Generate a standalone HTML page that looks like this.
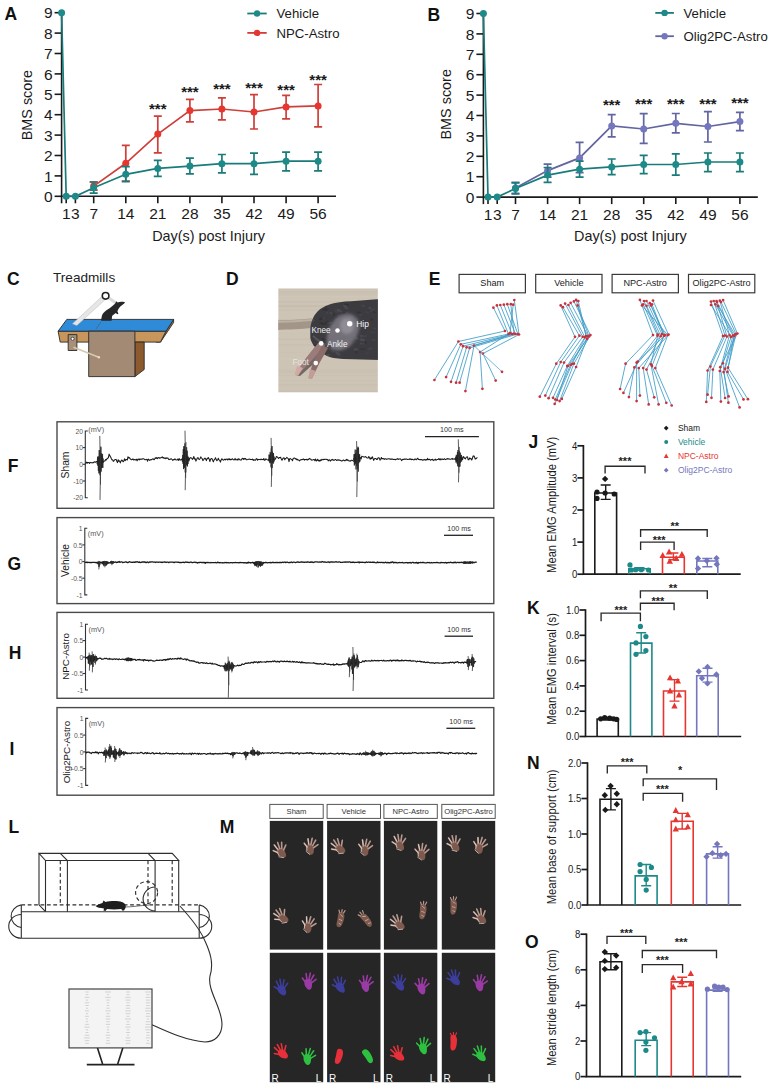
<!DOCTYPE html>
<html><head><meta charset="utf-8"><style>
html,body{margin:0;padding:0;background:#fff;}
svg{display:block;font-family:"Liberation Sans", sans-serif;}
</style></head><body>
<svg width="773" height="1089" viewBox="0 0 773 1089">
<rect width="773" height="1089" fill="#fff"/>
<g stroke="#1a1a1a" stroke-width="1.6" fill="none">
<line x1="61.6" y1="12.2" x2="61.6" y2="203.3"/>
<line x1="61.6" y1="196.3" x2="336.0" y2="196.3"/>
<line x1="54.6" y1="196.3" x2="61.6" y2="196.3"/>
<line x1="54.6" y1="175.9" x2="61.6" y2="175.9"/>
<line x1="54.6" y1="155.5" x2="61.6" y2="155.5"/>
<line x1="54.6" y1="135.1" x2="61.6" y2="135.1"/>
<line x1="54.6" y1="114.7" x2="61.6" y2="114.7"/>
<line x1="54.6" y1="94.3" x2="61.6" y2="94.3"/>
<line x1="54.6" y1="73.9" x2="61.6" y2="73.9"/>
<line x1="54.6" y1="53.5" x2="61.6" y2="53.5"/>
<line x1="54.6" y1="33.1" x2="61.6" y2="33.1"/>
<line x1="54.6" y1="12.7" x2="61.6" y2="12.7"/>
<line x1="66.2" y1="196.3" x2="66.2" y2="203.3"/>
<line x1="75.4" y1="196.3" x2="75.4" y2="203.3"/>
<line x1="93.7" y1="196.3" x2="93.7" y2="203.3"/>
<line x1="125.8" y1="196.3" x2="125.8" y2="203.3"/>
<line x1="157.8" y1="196.3" x2="157.8" y2="203.3"/>
<line x1="189.9" y1="196.3" x2="189.9" y2="203.3"/>
<line x1="221.9" y1="196.3" x2="221.9" y2="203.3"/>
<line x1="254.0" y1="196.3" x2="254.0" y2="203.3"/>
<line x1="286.1" y1="196.3" x2="286.1" y2="203.3"/>
<line x1="318.1" y1="196.3" x2="318.1" y2="203.3"/>
</g>
<text x="52.6" y="201.9" font-size="15.5" text-anchor="end" fill="#1a1a1a" font-weight="normal" >0</text>
<text x="52.6" y="181.5" font-size="15.5" text-anchor="end" fill="#1a1a1a" font-weight="normal" >1</text>
<text x="52.6" y="161.1" font-size="15.5" text-anchor="end" fill="#1a1a1a" font-weight="normal" >2</text>
<text x="52.6" y="140.7" font-size="15.5" text-anchor="end" fill="#1a1a1a" font-weight="normal" >3</text>
<text x="52.6" y="120.3" font-size="15.5" text-anchor="end" fill="#1a1a1a" font-weight="normal" >4</text>
<text x="52.6" y="99.9" font-size="15.5" text-anchor="end" fill="#1a1a1a" font-weight="normal" >5</text>
<text x="52.6" y="79.5" font-size="15.5" text-anchor="end" fill="#1a1a1a" font-weight="normal" >6</text>
<text x="52.6" y="59.1" font-size="15.5" text-anchor="end" fill="#1a1a1a" font-weight="normal" >7</text>
<text x="52.6" y="38.7" font-size="15.5" text-anchor="end" fill="#1a1a1a" font-weight="normal" >8</text>
<text x="52.6" y="18.3" font-size="15.5" text-anchor="end" fill="#1a1a1a" font-weight="normal" >9</text>
<text x="66.2" y="219.1" font-size="15.5" text-anchor="middle" fill="#1a1a1a" font-weight="normal" >1</text>
<text x="75.4" y="219.1" font-size="15.5" text-anchor="middle" fill="#1a1a1a" font-weight="normal" >3</text>
<text x="93.7" y="219.1" font-size="15.5" text-anchor="middle" fill="#1a1a1a" font-weight="normal" >7</text>
<text x="125.8" y="219.1" font-size="15.5" text-anchor="middle" fill="#1a1a1a" font-weight="normal" >14</text>
<text x="157.8" y="219.1" font-size="15.5" text-anchor="middle" fill="#1a1a1a" font-weight="normal" >21</text>
<text x="189.9" y="219.1" font-size="15.5" text-anchor="middle" fill="#1a1a1a" font-weight="normal" >28</text>
<text x="221.9" y="219.1" font-size="15.5" text-anchor="middle" fill="#1a1a1a" font-weight="normal" >35</text>
<text x="254.0" y="219.1" font-size="15.5" text-anchor="middle" fill="#1a1a1a" font-weight="normal" >42</text>
<text x="286.1" y="219.1" font-size="15.5" text-anchor="middle" fill="#1a1a1a" font-weight="normal" >49</text>
<text x="318.1" y="219.1" font-size="15.5" text-anchor="middle" fill="#1a1a1a" font-weight="normal" >56</text>
<text x="208.6" y="240.6" font-size="14.4" text-anchor="middle" fill="#1a1a1a" font-weight="normal" >Day(s) post Injury</text>
<text transform="translate(32.4,105.1) rotate(-90)" font-size="14.4" text-anchor="middle" fill="#1a1a1a">BMS score</text>
<polyline points="93.7,186.1 125.8,163.3 157.8,134.1 189.9,110.6 221.9,109.0 254.0,112.0 286.1,106.9 318.1,105.9" fill="none" stroke="#cf3f3a" stroke-width="1.7"/>
<path d="M93.7,182.0V190.2M89.7,182.0H97.7M89.7,190.2H97.7" stroke="#cf3f3a" stroke-width="1.7" fill="none"/>
<path d="M125.8,145.3V181.0M121.8,145.3H129.8M121.8,181.0H129.8" stroke="#cf3f3a" stroke-width="1.7" fill="none"/>
<path d="M157.8,116.1V152.8M153.8,116.1H161.8M153.8,152.8H161.8" stroke="#cf3f3a" stroke-width="1.7" fill="none"/>
<path d="M189.9,99.4V121.8M185.9,99.4H193.9M185.9,121.8H193.9" stroke="#cf3f3a" stroke-width="1.7" fill="none"/>
<path d="M221.9,97.8V119.8M217.9,97.8H225.9M217.9,119.8H225.9" stroke="#cf3f3a" stroke-width="1.7" fill="none"/>
<path d="M254.0,94.7V129.0M250.0,94.7H258.0M250.0,129.0H258.0" stroke="#cf3f3a" stroke-width="1.7" fill="none"/>
<path d="M286.1,95.3V118.8M282.1,95.3H290.1M282.1,118.8H290.1" stroke="#cf3f3a" stroke-width="1.7" fill="none"/>
<path d="M318.1,84.5V126.9M314.1,84.5H322.1M314.1,126.9H322.1" stroke="#cf3f3a" stroke-width="1.7" fill="none"/>
<circle cx="93.7" cy="186.1" r="3.5" fill="#e63630"/>
<circle cx="125.8" cy="163.3" r="3.5" fill="#e63630"/>
<circle cx="157.8" cy="134.1" r="3.5" fill="#e63630"/>
<circle cx="189.9" cy="110.6" r="3.5" fill="#e63630"/>
<circle cx="221.9" cy="109.0" r="3.5" fill="#e63630"/>
<circle cx="254.0" cy="112.0" r="3.5" fill="#e63630"/>
<circle cx="286.1" cy="106.9" r="3.5" fill="#e63630"/>
<circle cx="318.1" cy="105.9" r="3.5" fill="#e63630"/>
<polyline points="61.6,12.7 66.2,196.3 75.4,196.3 93.7,187.7 125.8,174.3 157.8,168.4 189.9,166.1 221.9,163.7 254.0,163.7 286.1,161.2 318.1,161.2" fill="none" stroke="#197c7b" stroke-width="1.7"/>
<path d="M93.7,182.0V193.2M89.7,182.0H97.7M89.7,193.2H97.7" stroke="#197c7b" stroke-width="1.7" fill="none"/>
<path d="M125.8,166.7V181.6M121.8,166.7H129.8M121.8,181.6H129.8" stroke="#197c7b" stroke-width="1.7" fill="none"/>
<path d="M157.8,160.4V176.3M153.8,160.4H161.8M153.8,176.3H161.8" stroke="#197c7b" stroke-width="1.7" fill="none"/>
<path d="M189.9,158.2V173.9M185.9,158.2H193.9M185.9,173.9H193.9" stroke="#197c7b" stroke-width="1.7" fill="none"/>
<path d="M221.9,154.5V172.8M217.9,154.5H225.9M217.9,172.8H225.9" stroke="#197c7b" stroke-width="1.7" fill="none"/>
<path d="M254.0,153.1V174.3M250.0,153.1H258.0M250.0,174.3H258.0" stroke="#197c7b" stroke-width="1.7" fill="none"/>
<path d="M286.1,152.2V170.8M282.1,152.2H290.1M282.1,170.8H290.1" stroke="#197c7b" stroke-width="1.7" fill="none"/>
<path d="M318.1,152.2V170.8M314.1,152.2H322.1M314.1,170.8H322.1" stroke="#197c7b" stroke-width="1.7" fill="none"/>
<circle cx="61.6" cy="12.7" r="3.5" fill="#1d8a89"/>
<circle cx="66.2" cy="196.3" r="3.5" fill="#1d8a89"/>
<circle cx="75.4" cy="196.3" r="3.5" fill="#1d8a89"/>
<circle cx="93.7" cy="187.7" r="3.5" fill="#1d8a89"/>
<circle cx="125.8" cy="174.3" r="3.5" fill="#1d8a89"/>
<circle cx="157.8" cy="168.4" r="3.5" fill="#1d8a89"/>
<circle cx="189.9" cy="166.1" r="3.5" fill="#1d8a89"/>
<circle cx="221.9" cy="163.7" r="3.5" fill="#1d8a89"/>
<circle cx="254.0" cy="163.7" r="3.5" fill="#1d8a89"/>
<circle cx="286.1" cy="161.2" r="3.5" fill="#1d8a89"/>
<circle cx="318.1" cy="161.2" r="3.5" fill="#1d8a89"/>
<text x="4.5" y="19.8" font-size="17.5" text-anchor="start" fill="#111" font-weight="bold" >A</text>
<text x="157.8" y="114.4" font-size="15" text-anchor="middle" fill="#1a1a1a" font-weight="bold" >***</text>
<text x="189.9" y="96.6" font-size="15" text-anchor="middle" fill="#1a1a1a" font-weight="bold" >***</text>
<text x="221.9" y="94.3" font-size="15" text-anchor="middle" fill="#1a1a1a" font-weight="bold" >***</text>
<text x="254.0" y="93.1" font-size="15" text-anchor="middle" fill="#1a1a1a" font-weight="bold" >***</text>
<text x="286.1" y="95.2" font-size="15" text-anchor="middle" fill="#1a1a1a" font-weight="bold" >***</text>
<text x="318.1" y="85.0" font-size="15" text-anchor="middle" fill="#1a1a1a" font-weight="bold" >***</text>
<line x1="247.3" y1="13.5" x2="266.7" y2="13.5" stroke="#197c7b" stroke-width="1.8"/>
<circle cx="257" cy="13.5" r="3.2" fill="#1d8a89"/>
<text x="276.5" y="18.3" font-size="13.2" text-anchor="start" fill="#1a1a1a" font-weight="normal" >Vehicle</text>
<line x1="247.3" y1="32.9" x2="266.7" y2="32.9" stroke="#cf3f3a" stroke-width="1.8"/>
<circle cx="257" cy="32.9" r="3.2" fill="#e63630"/>
<text x="276.5" y="37.7" font-size="13.2" text-anchor="start" fill="#1a1a1a" font-weight="normal" >NPC-Astro</text>
<g stroke="#1a1a1a" stroke-width="1.6" fill="none">
<line x1="483.4" y1="13.0" x2="483.4" y2="204.1"/>
<line x1="483.4" y1="197.1" x2="757.8" y2="197.1"/>
<line x1="476.4" y1="197.1" x2="483.4" y2="197.1"/>
<line x1="476.4" y1="176.7" x2="483.4" y2="176.7"/>
<line x1="476.4" y1="156.3" x2="483.4" y2="156.3"/>
<line x1="476.4" y1="135.9" x2="483.4" y2="135.9"/>
<line x1="476.4" y1="115.5" x2="483.4" y2="115.5"/>
<line x1="476.4" y1="95.1" x2="483.4" y2="95.1"/>
<line x1="476.4" y1="74.7" x2="483.4" y2="74.7"/>
<line x1="476.4" y1="54.3" x2="483.4" y2="54.3"/>
<line x1="476.4" y1="33.9" x2="483.4" y2="33.9"/>
<line x1="476.4" y1="13.5" x2="483.4" y2="13.5"/>
<line x1="488.0" y1="197.1" x2="488.0" y2="204.1"/>
<line x1="497.2" y1="197.1" x2="497.2" y2="204.1"/>
<line x1="515.5" y1="197.1" x2="515.5" y2="204.1"/>
<line x1="547.6" y1="197.1" x2="547.6" y2="204.1"/>
<line x1="579.6" y1="197.1" x2="579.6" y2="204.1"/>
<line x1="611.7" y1="197.1" x2="611.7" y2="204.1"/>
<line x1="643.7" y1="197.1" x2="643.7" y2="204.1"/>
<line x1="675.8" y1="197.1" x2="675.8" y2="204.1"/>
<line x1="707.9" y1="197.1" x2="707.9" y2="204.1"/>
<line x1="739.9" y1="197.1" x2="739.9" y2="204.1"/>
</g>
<text x="474.4" y="202.7" font-size="15.5" text-anchor="end" fill="#1a1a1a" font-weight="normal" >0</text>
<text x="474.4" y="182.3" font-size="15.5" text-anchor="end" fill="#1a1a1a" font-weight="normal" >1</text>
<text x="474.4" y="161.9" font-size="15.5" text-anchor="end" fill="#1a1a1a" font-weight="normal" >2</text>
<text x="474.4" y="141.5" font-size="15.5" text-anchor="end" fill="#1a1a1a" font-weight="normal" >3</text>
<text x="474.4" y="121.1" font-size="15.5" text-anchor="end" fill="#1a1a1a" font-weight="normal" >4</text>
<text x="474.4" y="100.7" font-size="15.5" text-anchor="end" fill="#1a1a1a" font-weight="normal" >5</text>
<text x="474.4" y="80.3" font-size="15.5" text-anchor="end" fill="#1a1a1a" font-weight="normal" >6</text>
<text x="474.4" y="59.9" font-size="15.5" text-anchor="end" fill="#1a1a1a" font-weight="normal" >7</text>
<text x="474.4" y="39.5" font-size="15.5" text-anchor="end" fill="#1a1a1a" font-weight="normal" >8</text>
<text x="474.4" y="19.1" font-size="15.5" text-anchor="end" fill="#1a1a1a" font-weight="normal" >9</text>
<text x="488.0" y="219.9" font-size="15.5" text-anchor="middle" fill="#1a1a1a" font-weight="normal" >1</text>
<text x="497.2" y="219.9" font-size="15.5" text-anchor="middle" fill="#1a1a1a" font-weight="normal" >3</text>
<text x="515.5" y="219.9" font-size="15.5" text-anchor="middle" fill="#1a1a1a" font-weight="normal" >7</text>
<text x="547.6" y="219.9" font-size="15.5" text-anchor="middle" fill="#1a1a1a" font-weight="normal" >14</text>
<text x="579.6" y="219.9" font-size="15.5" text-anchor="middle" fill="#1a1a1a" font-weight="normal" >21</text>
<text x="611.7" y="219.9" font-size="15.5" text-anchor="middle" fill="#1a1a1a" font-weight="normal" >28</text>
<text x="643.7" y="219.9" font-size="15.5" text-anchor="middle" fill="#1a1a1a" font-weight="normal" >35</text>
<text x="675.8" y="219.9" font-size="15.5" text-anchor="middle" fill="#1a1a1a" font-weight="normal" >42</text>
<text x="707.9" y="219.9" font-size="15.5" text-anchor="middle" fill="#1a1a1a" font-weight="normal" >49</text>
<text x="739.9" y="219.9" font-size="15.5" text-anchor="middle" fill="#1a1a1a" font-weight="normal" >56</text>
<text x="630.4" y="241.4" font-size="14.4" text-anchor="middle" fill="#1a1a1a" font-weight="normal" >Day(s) post Injury</text>
<text transform="translate(450.8,104.3) rotate(-90)" font-size="14.4" text-anchor="middle" fill="#1a1a1a">BMS score</text>
<polyline points="515.5,187.9 547.6,170.6 579.6,157.9 611.7,125.9 643.7,129.0 675.8,123.3 707.9,126.5 739.9,121.6" fill="none" stroke="#62659f" stroke-width="1.7"/>
<path d="M515.5,182.4V193.4M511.5,182.4H519.5M511.5,193.4H519.5" stroke="#62659f" stroke-width="1.7" fill="none"/>
<path d="M547.6,164.1V177.1M543.6,164.1H551.6M543.6,177.1H551.6" stroke="#62659f" stroke-width="1.7" fill="none"/>
<path d="M579.6,142.4V172.6M575.6,142.4H583.6M575.6,172.6H583.6" stroke="#62659f" stroke-width="1.7" fill="none"/>
<path d="M611.7,114.7V136.9M607.7,114.7H615.7M607.7,136.9H615.7" stroke="#62659f" stroke-width="1.7" fill="none"/>
<path d="M643.7,113.7V143.4M639.7,113.7H647.7M639.7,143.4H647.7" stroke="#62659f" stroke-width="1.7" fill="none"/>
<path d="M675.8,113.5V132.8M671.8,113.5H679.8M671.8,132.8H679.8" stroke="#62659f" stroke-width="1.7" fill="none"/>
<path d="M707.9,111.6V142.0M703.9,111.6H711.9M703.9,142.0H711.9" stroke="#62659f" stroke-width="1.7" fill="none"/>
<path d="M739.9,112.4V130.6M735.9,112.4H743.9M735.9,130.6H743.9" stroke="#62659f" stroke-width="1.7" fill="none"/>
<circle cx="515.5" cy="187.9" r="3.5" fill="#7477bd"/>
<circle cx="547.6" cy="170.6" r="3.5" fill="#7477bd"/>
<circle cx="579.6" cy="157.9" r="3.5" fill="#7477bd"/>
<circle cx="611.7" cy="125.9" r="3.5" fill="#7477bd"/>
<circle cx="643.7" cy="129.0" r="3.5" fill="#7477bd"/>
<circle cx="675.8" cy="123.3" r="3.5" fill="#7477bd"/>
<circle cx="707.9" cy="126.5" r="3.5" fill="#7477bd"/>
<circle cx="739.9" cy="121.6" r="3.5" fill="#7477bd"/>
<polyline points="483.4,13.5 488.0,197.1 497.2,197.1 515.5,188.5 547.6,175.1 579.6,169.2 611.7,166.9 643.7,164.5 675.8,164.5 707.9,162.0 739.9,162.0" fill="none" stroke="#197c7b" stroke-width="1.7"/>
<path d="M515.5,182.8V194.0M511.5,182.8H519.5M511.5,194.0H519.5" stroke="#197c7b" stroke-width="1.7" fill="none"/>
<path d="M547.6,167.5V182.4M543.6,167.5H551.6M543.6,182.4H551.6" stroke="#197c7b" stroke-width="1.7" fill="none"/>
<path d="M579.6,161.2V177.1M575.6,161.2H583.6M575.6,177.1H583.6" stroke="#197c7b" stroke-width="1.7" fill="none"/>
<path d="M611.7,159.0V174.7M607.7,159.0H615.7M607.7,174.7H615.7" stroke="#197c7b" stroke-width="1.7" fill="none"/>
<path d="M643.7,155.3V173.6M639.7,155.3H647.7M639.7,173.6H647.7" stroke="#197c7b" stroke-width="1.7" fill="none"/>
<path d="M675.8,153.9V175.1M671.8,153.9H679.8M671.8,175.1H679.8" stroke="#197c7b" stroke-width="1.7" fill="none"/>
<path d="M707.9,153.0V171.6M703.9,153.0H711.9M703.9,171.6H711.9" stroke="#197c7b" stroke-width="1.7" fill="none"/>
<path d="M739.9,153.0V171.6M735.9,153.0H743.9M735.9,171.6H743.9" stroke="#197c7b" stroke-width="1.7" fill="none"/>
<circle cx="483.4" cy="13.5" r="3.5" fill="#1d8a89"/>
<circle cx="488.0" cy="197.1" r="3.5" fill="#1d8a89"/>
<circle cx="497.2" cy="197.1" r="3.5" fill="#1d8a89"/>
<circle cx="515.5" cy="188.5" r="3.5" fill="#1d8a89"/>
<circle cx="547.6" cy="175.1" r="3.5" fill="#1d8a89"/>
<circle cx="579.6" cy="169.2" r="3.5" fill="#1d8a89"/>
<circle cx="611.7" cy="166.9" r="3.5" fill="#1d8a89"/>
<circle cx="643.7" cy="164.5" r="3.5" fill="#1d8a89"/>
<circle cx="675.8" cy="164.5" r="3.5" fill="#1d8a89"/>
<circle cx="707.9" cy="162.0" r="3.5" fill="#1d8a89"/>
<circle cx="739.9" cy="162.0" r="3.5" fill="#1d8a89"/>
<text x="427.5" y="20.5" font-size="17.5" text-anchor="start" fill="#111" font-weight="bold" >B</text>
<text x="611.7" y="110.4" font-size="15" text-anchor="middle" fill="#1a1a1a" font-weight="bold" >***</text>
<text x="643.7" y="109.2" font-size="15" text-anchor="middle" fill="#1a1a1a" font-weight="bold" >***</text>
<text x="675.8" y="109.2" font-size="15" text-anchor="middle" fill="#1a1a1a" font-weight="bold" >***</text>
<text x="707.9" y="109.2" font-size="15" text-anchor="middle" fill="#1a1a1a" font-weight="bold" >***</text>
<text x="739.9" y="107.9" font-size="15" text-anchor="middle" fill="#1a1a1a" font-weight="bold" >***</text>
<line x1="655.3" y1="12.9" x2="673.9" y2="12.9" stroke="#197c7b" stroke-width="1.8"/>
<circle cx="664.6" cy="12.9" r="3.2" fill="#1d8a89"/>
<text x="683.5" y="17.7" font-size="13.2" text-anchor="start" fill="#1a1a1a" font-weight="normal" >Vehicle</text>
<line x1="655.3" y1="36.2" x2="673.9" y2="36.2" stroke="#62659f" stroke-width="1.8"/>
<circle cx="664.6" cy="36.2" r="3.2" fill="#7477bd"/>
<text x="683.5" y="41.0" font-size="13.2" text-anchor="start" fill="#1a1a1a" font-weight="normal" >Olig2PC-Astro</text>
<g stroke="#1a1a1a" stroke-width="1.7" fill="none">
<path d="M583.4,445.0V574.2H740.7"/>
<line x1="577.4" y1="574.2" x2="583.4" y2="574.2"/>
<line x1="577.4" y1="542.1" x2="583.4" y2="542.1"/>
<line x1="577.4" y1="510.0" x2="583.4" y2="510.0"/>
<line x1="577.4" y1="477.9" x2="583.4" y2="477.9"/>
<line x1="577.4" y1="445.8" x2="583.4" y2="445.8"/>
</g>
<text transform="translate(577.2,578.0) scale(0.9,1)" font-size="10.6" text-anchor="end" fill="#1a1a1a">0</text>
<text transform="translate(577.2,545.9) scale(0.9,1)" font-size="10.6" text-anchor="end" fill="#1a1a1a">1</text>
<text transform="translate(577.2,513.8) scale(0.9,1)" font-size="10.6" text-anchor="end" fill="#1a1a1a">2</text>
<text transform="translate(577.2,481.7) scale(0.9,1)" font-size="10.6" text-anchor="end" fill="#1a1a1a">3</text>
<text transform="translate(577.2,449.6) scale(0.9,1)" font-size="10.6" text-anchor="end" fill="#1a1a1a">4</text>
<path d="M594.8,574.2V493.0H616.6V574.2" fill="none" stroke="#1a1a1a" stroke-width="1.6"/>
<path d="M605.1,475.7L608.3,478.9L605.1,482.0L601.9,478.9Z" fill="#1a1a1a"/>
<circle cx="597.0" cy="492.0" r="2.6" fill="#1a1a1a"/>
<circle cx="597.0" cy="498.4" r="2.6" fill="#1a1a1a"/>
<circle cx="605.1" cy="493.0" r="2.6" fill="#1a1a1a"/>
<circle cx="614.2" cy="494.0" r="2.6" fill="#1a1a1a"/>
<path d="M605.7,485.0V499.4M600.7,485.0H610.7M600.7,499.4H610.7" stroke="#1a1a1a" stroke-width="1.4" fill="none"/>
<path d="M628.8,574.2V568.7H650.2V574.2" fill="none" stroke="#1d8a89" stroke-width="1.6"/>
<circle cx="630.0" cy="564.9" r="2.6" fill="#1d8a89"/>
<circle cx="631.4" cy="570.0" r="2.6" fill="#1d8a89"/>
<circle cx="635.7" cy="569.7" r="2.6" fill="#1d8a89"/>
<circle cx="641.3" cy="569.7" r="2.6" fill="#1d8a89"/>
<circle cx="648.5" cy="570.0" r="2.6" fill="#1d8a89"/>
<path d="M639.5,567.8V570.3M634.5,567.8H644.5M634.5,570.3H644.5" stroke="#1d8a89" stroke-width="1.4" fill="none"/>
<path d="M662.5,574.2V557.2H684.3V574.2" fill="none" stroke="#e63630" stroke-width="1.6"/>
<path d="M669.1,548.6L672.3,554.4L665.9,554.4Z" fill="#e63630"/>
<path d="M681.9,550.9L685.1,556.7L678.7,556.7Z" fill="#e63630"/>
<path d="M662.7,552.1L665.9,558.0L659.5,558.0Z" fill="#e63630"/>
<path d="M669.8,557.9L673.0,563.7L666.6,563.7Z" fill="#e63630"/>
<path d="M676.2,555.0L679.4,560.9L673.0,560.9Z" fill="#e63630"/>
<path d="M673.4,553.0V559.8M668.4,553.0H678.4M668.4,559.8H678.4" stroke="#e63630" stroke-width="1.4" fill="none"/>
<path d="M696.8,574.2V561.0H717.8V574.2" fill="none" stroke="#7477bd" stroke-width="1.6"/>
<path d="M698.0,555.3L701.2,558.5L698.0,561.7L694.8,558.5Z" fill="#7477bd"/>
<path d="M706.8,557.5L710.0,560.7L706.8,563.9L703.6,560.7Z" fill="#7477bd"/>
<path d="M716.5,555.0L719.7,558.2L716.5,561.3L713.3,558.2Z" fill="#7477bd"/>
<path d="M698.0,565.2L701.2,568.4L698.0,571.6L694.8,568.4Z" fill="#7477bd"/>
<path d="M716.8,561.1L720.0,564.2L716.8,567.4L713.6,564.2Z" fill="#7477bd"/>
<path d="M707.3,558.5V566.8M702.3,558.5H712.3M702.3,566.8H712.3" stroke="#7477bd" stroke-width="1.4" fill="none"/>
<path d="M605.1,473.5V466.2H645.0V473.5" fill="none" stroke="#2a2a2a" stroke-width="1.35"/>
<text x="625.0" y="465.3" font-size="11" text-anchor="middle" fill="#222" font-weight="bold" >***</text>
<path d="M640.6,549.9V542.1H674.1V549.9" fill="none" stroke="#2a2a2a" stroke-width="1.35"/>
<text x="659.1" y="543.5" font-size="11" text-anchor="middle" fill="#222" font-weight="bold" >***</text>
<path d="M640.6,537.1V529.7H707.2V537.1" fill="none" stroke="#2a2a2a" stroke-width="1.35"/>
<text x="674.8" y="529.6" font-size="11" text-anchor="middle" fill="#222" font-weight="bold" >**</text>
<text transform="translate(555.8,504.8) rotate(-90) scale(1,1.1)" font-size="11.2" text-anchor="middle" fill="#1a1a1a">Mean EMG Amplitude (mV)</text>
<text x="528.5" y="448.2" font-size="17.5" text-anchor="start" fill="#111" font-weight="bold" >J</text>
<path d="M666.2,425.7L668.6,428.1L666.2,430.5L663.8,428.1Z" fill="#1a1a1a"/>
<text x="677.9" y="431.3" font-size="8.5" text-anchor="start" fill="#1a1a1a" font-weight="normal" >Sham</text>
<circle cx="666.2" cy="441.9" r="2.0" fill="#1d8a89"/>
<text x="677.9" y="445.1" font-size="8.5" text-anchor="start" fill="#1d8a89" font-weight="normal" >Vehicle</text>
<path d="M666.2,453.5L668.6,457.9L663.8,457.9Z" fill="#e63630"/>
<text x="677.9" y="459.3" font-size="8.5" text-anchor="start" fill="#e63630" font-weight="normal" >NPC-Astro</text>
<path d="M666.2,467.8L668.6,470.2L666.2,472.6L663.8,470.2Z" fill="#7477bd"/>
<text x="677.9" y="473.4" font-size="8.5" text-anchor="start" fill="#7477bd" font-weight="normal" >Olig2PC-Astro</text>
<g stroke="#1a1a1a" stroke-width="1.7" fill="none">
<path d="M585.5,609.2V736.5H741.2"/>
<line x1="579.5" y1="736.5" x2="585.5" y2="736.5"/>
<line x1="579.5" y1="711.2" x2="585.5" y2="711.2"/>
<line x1="579.5" y1="685.9" x2="585.5" y2="685.9"/>
<line x1="579.5" y1="660.6" x2="585.5" y2="660.6"/>
<line x1="579.5" y1="635.3" x2="585.5" y2="635.3"/>
<line x1="579.5" y1="610.0" x2="585.5" y2="610.0"/>
</g>
<text transform="translate(579.3,740.3) scale(0.9,1)" font-size="10.6" text-anchor="end" fill="#1a1a1a">0.0</text>
<text transform="translate(579.3,715.0) scale(0.9,1)" font-size="10.6" text-anchor="end" fill="#1a1a1a">0.2</text>
<text transform="translate(579.3,689.7) scale(0.9,1)" font-size="10.6" text-anchor="end" fill="#1a1a1a">0.4</text>
<text transform="translate(579.3,664.4) scale(0.9,1)" font-size="10.6" text-anchor="end" fill="#1a1a1a">0.6</text>
<text transform="translate(579.3,639.1) scale(0.9,1)" font-size="10.6" text-anchor="end" fill="#1a1a1a">0.8</text>
<text transform="translate(579.3,613.8) scale(0.9,1)" font-size="10.6" text-anchor="end" fill="#1a1a1a">1.0</text>
<path d="M597.1,736.5V719.0H618.3V736.5" fill="none" stroke="#1a1a1a" stroke-width="1.6"/>
<circle cx="600.7" cy="718.8" r="2.6" fill="#1a1a1a"/>
<circle cx="604.7" cy="717.5" r="2.6" fill="#1a1a1a"/>
<circle cx="609.7" cy="718.2" r="2.6" fill="#1a1a1a"/>
<circle cx="613.7" cy="718.8" r="2.6" fill="#1a1a1a"/>
<circle cx="616.7" cy="719.4" r="2.6" fill="#1a1a1a"/>
<path d="M607.7,717.5V720.1M602.7,717.5H612.7M602.7,720.1H612.7" stroke="#1a1a1a" stroke-width="1.4" fill="none"/>
<path d="M630.5,736.5V643.1H651.9V736.5" fill="none" stroke="#1d8a89" stroke-width="1.6"/>
<circle cx="640.4" cy="626.4" r="2.6" fill="#1d8a89"/>
<circle cx="645.9" cy="636.6" r="2.6" fill="#1d8a89"/>
<circle cx="636.0" cy="642.9" r="2.6" fill="#1d8a89"/>
<circle cx="636.0" cy="654.3" r="2.6" fill="#1d8a89"/>
<circle cx="645.9" cy="650.5" r="2.6" fill="#1d8a89"/>
<path d="M641.2,632.8V653.0M636.2,632.8H646.2M636.2,653.0H646.2" stroke="#1d8a89" stroke-width="1.4" fill="none"/>
<path d="M663.5,736.5V691.0H685.4V736.5" fill="none" stroke="#e63630" stroke-width="1.6"/>
<path d="M670.1,674.5L673.2,680.3L666.9,680.3Z" fill="#e63630"/>
<path d="M677.9,677.8L681.0,683.6L674.7,683.6Z" fill="#e63630"/>
<path d="M670.1,687.6L673.2,693.5L666.9,693.5Z" fill="#e63630"/>
<path d="M679.0,691.6L682.1,697.4L675.8,697.4Z" fill="#e63630"/>
<path d="M674.5,702.6L677.6,708.4L671.3,708.4Z" fill="#e63630"/>
<path d="M674.5,679.6V701.1M669.5,679.6H679.5M669.5,701.1H679.5" stroke="#e63630" stroke-width="1.4" fill="none"/>
<path d="M696.7,736.5V675.8H718.2V736.5" fill="none" stroke="#7477bd" stroke-width="1.6"/>
<path d="M698.8,668.2L701.9,671.4L698.8,674.5L695.6,671.4Z" fill="#7477bd"/>
<path d="M707.5,663.7L710.6,666.9L707.5,670.1L704.3,666.9Z" fill="#7477bd"/>
<path d="M716.4,671.3L719.5,674.5L716.4,677.7L713.2,674.5Z" fill="#7477bd"/>
<path d="M707.5,680.2L710.6,683.4L707.5,686.5L704.3,683.4Z" fill="#7477bd"/>
<path d="M702.0,675.1L705.1,678.3L702.0,681.5L698.8,678.3Z" fill="#7477bd"/>
<path d="M707.5,668.2V682.1M702.5,668.2H712.5M702.5,682.1H712.5" stroke="#7477bd" stroke-width="1.4" fill="none"/>
<path d="M601.1,621.3V613.1H640.4V621.3" fill="none" stroke="#2a2a2a" stroke-width="1.35"/>
<text x="620.9" y="613.5" font-size="11" text-anchor="middle" fill="#222" font-weight="bold" >***</text>
<path d="M640.4,610.5V603.2H674.1V610.3" fill="none" stroke="#2a2a2a" stroke-width="1.35"/>
<text x="657.8" y="605.0" font-size="11" text-anchor="middle" fill="#222" font-weight="bold" >***</text>
<path d="M640.4,598.3V590.9H707.3V599.0" fill="none" stroke="#2a2a2a" stroke-width="1.35"/>
<text x="673.0" y="591.6" font-size="11" text-anchor="middle" fill="#222" font-weight="bold" >**</text>
<text transform="translate(555.8,668.9) rotate(-90) scale(1,1.1)" font-size="11.15" text-anchor="middle" fill="#1a1a1a">Mean EMG interval (s)</text>
<text x="527.0" y="614.0" font-size="17.5" text-anchor="start" fill="#111" font-weight="bold" >K</text>
<g stroke="#1a1a1a" stroke-width="1.7" fill="none">
<path d="M587.5,762.2V905.0H741.2"/>
<line x1="581.5" y1="905.0" x2="587.5" y2="905.0"/>
<line x1="581.5" y1="869.5" x2="587.5" y2="869.5"/>
<line x1="581.5" y1="834.0" x2="587.5" y2="834.0"/>
<line x1="581.5" y1="798.5" x2="587.5" y2="798.5"/>
<line x1="581.5" y1="763.0" x2="587.5" y2="763.0"/>
</g>
<text transform="translate(581.3,908.8) scale(0.9,1)" font-size="10.6" text-anchor="end" fill="#1a1a1a">0.0</text>
<text transform="translate(581.3,873.3) scale(0.9,1)" font-size="10.6" text-anchor="end" fill="#1a1a1a">0.5</text>
<text transform="translate(581.3,837.8) scale(0.9,1)" font-size="10.6" text-anchor="end" fill="#1a1a1a">1.0</text>
<text transform="translate(581.3,802.3) scale(0.9,1)" font-size="10.6" text-anchor="end" fill="#1a1a1a">1.5</text>
<text transform="translate(581.3,766.8) scale(0.9,1)" font-size="10.6" text-anchor="end" fill="#1a1a1a">2.0</text>
<path d="M600.0,905.0V799.2H621.8V905.0" fill="none" stroke="#1a1a1a" stroke-width="1.6"/>
<path d="M610.6,782.8L613.8,785.9L610.6,789.1L607.4,785.9Z" fill="#1a1a1a"/>
<path d="M604.8,792.1L608.0,795.3L604.8,798.5L601.6,795.3Z" fill="#1a1a1a"/>
<path d="M616.8,790.6L620.0,793.8L616.8,797.0L613.6,793.8Z" fill="#1a1a1a"/>
<path d="M616.8,801.0L620.0,804.2L616.8,807.4L613.6,804.2Z" fill="#1a1a1a"/>
<path d="M605.3,806.7L608.5,809.9L605.3,813.0L602.1,809.9Z" fill="#1a1a1a"/>
<path d="M610.9,788.6V809.9M605.9,788.6H615.9M605.9,809.9H615.9" stroke="#1a1a1a" stroke-width="1.4" fill="none"/>
<path d="M635.2,905.0V875.9H657.1V905.0" fill="none" stroke="#1d8a89" stroke-width="1.6"/>
<circle cx="640.1" cy="864.5" r="2.6" fill="#1d8a89"/>
<circle cx="651.4" cy="867.4" r="2.6" fill="#1d8a89"/>
<circle cx="640.1" cy="871.6" r="2.6" fill="#1d8a89"/>
<circle cx="646.2" cy="879.4" r="2.6" fill="#1d8a89"/>
<circle cx="646.2" cy="890.1" r="2.6" fill="#1d8a89"/>
<path d="M646.2,864.5V885.8M641.2,864.5H651.2M641.2,885.8H651.2" stroke="#1d8a89" stroke-width="1.4" fill="none"/>
<path d="M671.3,905.0V821.2H693.2V905.0" fill="none" stroke="#e63630" stroke-width="1.6"/>
<path d="M675.8,807.1L678.9,813.0L672.6,813.0Z" fill="#e63630"/>
<path d="M687.8,811.4L690.9,817.2L684.6,817.2Z" fill="#e63630"/>
<path d="M675.8,816.4L678.9,822.2L672.6,822.2Z" fill="#e63630"/>
<path d="M687.8,823.5L690.9,829.3L684.6,829.3Z" fill="#e63630"/>
<path d="M675.8,825.6L678.9,831.4L672.6,831.4Z" fill="#e63630"/>
<path d="M682.2,813.4V829.0M677.2,813.4H687.2M677.2,829.0H687.2" stroke="#e63630" stroke-width="1.4" fill="none"/>
<path d="M706.6,905.0V853.9H728.5V905.0" fill="none" stroke="#7477bd" stroke-width="1.6"/>
<path d="M717.1,840.8L720.2,843.9L717.1,847.1L713.9,843.9Z" fill="#7477bd"/>
<path d="M706.6,853.5L709.7,856.7L706.6,859.9L703.4,856.7Z" fill="#7477bd"/>
<path d="M726.0,850.7L729.1,853.9L726.0,857.1L722.8,853.9Z" fill="#7477bd"/>
<path d="M712.4,850.0L715.5,853.2L712.4,856.3L709.2,853.2Z" fill="#7477bd"/>
<path d="M720.8,852.1L723.9,855.3L720.8,858.5L717.6,855.3Z" fill="#7477bd"/>
<path d="M717.6,846.8V858.1M712.6,846.8H722.6M712.6,858.1H722.6" stroke="#7477bd" stroke-width="1.4" fill="none"/>
<path d="M607.3,773.5V765.9H646.8V773.5" fill="none" stroke="#2a2a2a" stroke-width="1.35"/>
<text x="627.2" y="765.6" font-size="11" text-anchor="middle" fill="#222" font-weight="bold" >***</text>
<path d="M643.2,800.7V793.4H682.6V801.7" fill="none" stroke="#2a2a2a" stroke-width="1.35"/>
<text x="662.4" y="792.5" font-size="11" text-anchor="middle" fill="#222" font-weight="bold" >***</text>
<path d="M643.2,786.2V778.9H716.5V790.0" fill="none" stroke="#2a2a2a" stroke-width="1.35"/>
<text x="680.1" y="773.8" font-size="11" text-anchor="middle" fill="#222" font-weight="bold" >*</text>
<text transform="translate(555.8,836.9) rotate(-90) scale(1,1.1)" font-size="11.3" text-anchor="middle" fill="#1a1a1a">Mean base of support (cm)</text>
<text x="527.0" y="768.5" font-size="17.5" text-anchor="start" fill="#111" font-weight="bold" >N</text>
<g stroke="#1a1a1a" stroke-width="1.7" fill="none">
<path d="M586.5,933.4V1076.6H741.2"/>
<line x1="580.5" y1="1076.6" x2="586.5" y2="1076.6"/>
<line x1="580.5" y1="1041.0" x2="586.5" y2="1041.0"/>
<line x1="580.5" y1="1005.4" x2="586.5" y2="1005.4"/>
<line x1="580.5" y1="969.8" x2="586.5" y2="969.8"/>
<line x1="580.5" y1="934.2" x2="586.5" y2="934.2"/>
</g>
<text transform="translate(580.3,1080.4) scale(0.9,1)" font-size="10.6" text-anchor="end" fill="#1a1a1a">0</text>
<text transform="translate(580.3,1044.8) scale(0.9,1)" font-size="10.6" text-anchor="end" fill="#1a1a1a">2</text>
<text transform="translate(580.3,1009.2) scale(0.9,1)" font-size="10.6" text-anchor="end" fill="#1a1a1a">4</text>
<text transform="translate(580.3,973.6) scale(0.9,1)" font-size="10.6" text-anchor="end" fill="#1a1a1a">6</text>
<text transform="translate(580.3,938.0) scale(0.9,1)" font-size="10.6" text-anchor="end" fill="#1a1a1a">8</text>
<path d="M600.0,1076.6V961.8H621.8V1076.6" fill="none" stroke="#1a1a1a" stroke-width="1.6"/>
<path d="M604.8,948.8L608.0,952.0L604.8,955.2L601.6,952.0Z" fill="#1a1a1a"/>
<path d="M616.2,952.4L619.4,955.6L616.2,958.7L613.0,955.6Z" fill="#1a1a1a"/>
<path d="M604.8,957.7L608.0,960.9L604.8,964.1L601.6,960.9Z" fill="#1a1a1a"/>
<path d="M604.8,965.9L608.0,969.1L604.8,972.3L601.6,969.1Z" fill="#1a1a1a"/>
<path d="M616.2,964.5L619.4,967.7L616.2,970.8L613.0,967.7Z" fill="#1a1a1a"/>
<path d="M610.9,953.8V969.8M605.9,953.8H615.9M605.9,969.8H615.9" stroke="#1a1a1a" stroke-width="1.4" fill="none"/>
<path d="M635.2,1076.6V1040.3H657.1V1076.6" fill="none" stroke="#1d8a89" stroke-width="1.6"/>
<circle cx="640.1" cy="1032.6" r="2.6" fill="#1d8a89"/>
<circle cx="645.9" cy="1031.6" r="2.6" fill="#1d8a89"/>
<circle cx="654.5" cy="1037.8" r="2.6" fill="#1d8a89"/>
<circle cx="645.9" cy="1042.1" r="2.6" fill="#1d8a89"/>
<circle cx="645.9" cy="1050.3" r="2.6" fill="#1d8a89"/>
<path d="M646.2,1032.6V1045.6M641.2,1032.6H651.2M641.2,1045.6H651.2" stroke="#1d8a89" stroke-width="1.4" fill="none"/>
<path d="M671.3,1076.6V981.9H693.2V1076.6" fill="none" stroke="#e63630" stroke-width="1.6"/>
<path d="M673.2,974.4L676.4,980.2L670.1,980.2Z" fill="#e63630"/>
<path d="M690.8,970.3L693.9,976.1L687.6,976.1Z" fill="#e63630"/>
<path d="M673.2,983.6L676.4,989.5L670.1,989.5Z" fill="#e63630"/>
<path d="M690.8,980.6L693.9,986.4L687.6,986.4Z" fill="#e63630"/>
<path d="M681.5,978.5L684.6,984.3L678.3,984.3Z" fill="#e63630"/>
<path d="M682.2,977.3V986.5M677.2,977.3H687.2M677.2,986.5H687.2" stroke="#e63630" stroke-width="1.4" fill="none"/>
<path d="M706.6,1076.6V990.1H728.5V1076.6" fill="none" stroke="#7477bd" stroke-width="1.6"/>
<circle cx="707.4" cy="989.2" r="2.6" fill="#7477bd"/>
<circle cx="714.6" cy="986.2" r="2.6" fill="#7477bd"/>
<circle cx="718.8" cy="987.1" r="2.6" fill="#7477bd"/>
<circle cx="723.0" cy="987.1" r="2.6" fill="#7477bd"/>
<circle cx="727.1" cy="989.6" r="2.6" fill="#7477bd"/>
<path d="M717.6,988.5V991.2M712.6,988.5H722.6M712.6,991.2H722.6" stroke="#7477bd" stroke-width="1.4" fill="none"/>
<path d="M607.0,944.1V936.4H645.8V944.1" fill="none" stroke="#2a2a2a" stroke-width="1.35"/>
<text x="626.4" y="937.1" font-size="11" text-anchor="middle" fill="#222" font-weight="bold" >***</text>
<path d="M642.3,973.1V964.6H682.6V973.1" fill="none" stroke="#2a2a2a" stroke-width="1.35"/>
<text x="662.4" y="964.3" font-size="11" text-anchor="middle" fill="#222" font-weight="bold" >***</text>
<path d="M642.3,958.3V950.5H716.5V958.3" fill="none" stroke="#2a2a2a" stroke-width="1.35"/>
<text x="681.1" y="945.9" font-size="11" text-anchor="middle" fill="#222" font-weight="bold" >***</text>
<text transform="translate(555.8,1007.7) rotate(-90) scale(1,1.1)" font-size="11.13" text-anchor="middle" fill="#1a1a1a">Mean stride length (cm)</text>
<text x="525.0" y="948.0" font-size="17.5" text-anchor="start" fill="#111" font-weight="bold" >O</text>
<rect x="57.0" y="421.8" width="436.8" height="86.5" fill="none" stroke="#4a4a4a" stroke-width="1.4"/>
<text x="7.8" y="471.8" font-size="17.5" text-anchor="start" fill="#111" font-weight="bold" >F</text>
<path d="M87.8,431.0H85.3V497.7H87.8" fill="none" stroke="#333" stroke-width="1.1"/>
<text transform="translate(83.0,433.6) scale(0.9,1)" font-size="7.5" text-anchor="end" fill="#555">20</text>
<line x1="82.8" y1="447.6" x2="85.3" y2="447.6" stroke="#333" stroke-width="1.1"/>
<text transform="translate(83.0,450.2) scale(0.9,1)" font-size="7.5" text-anchor="end" fill="#555">10</text>
<line x1="82.8" y1="464.3" x2="85.3" y2="464.3" stroke="#333" stroke-width="1.1"/>
<text transform="translate(83.0,466.9) scale(0.9,1)" font-size="7.5" text-anchor="end" fill="#555">0</text>
<line x1="82.8" y1="481.0" x2="85.3" y2="481.0" stroke="#333" stroke-width="1.1"/>
<text transform="translate(83.0,483.6) scale(0.9,1)" font-size="7.5" text-anchor="end" fill="#555">-10</text>
<text transform="translate(83.0,500.3) scale(0.9,1)" font-size="7.5" text-anchor="end" fill="#555">-20</text>
<text x="88.3" y="432.4" font-size="7.3" text-anchor="start" fill="#555" font-weight="normal" >(mV)</text>
<line x1="425.0" y1="436.6" x2="478.9" y2="436.6" stroke="#222" stroke-width="1.3"/>
<text x="451.8" y="432.4" font-size="7.2" text-anchor="middle" fill="#333" font-weight="normal" >100 ms</text>
<text transform="translate(69.0,465.0) rotate(-90)" font-size="10.3" text-anchor="middle" fill="#1a1a1a">Sham</text>
<polyline points="85.3,462.7 86.0,463.3 86.7,462.1 87.4,463.1 88.1,462.4 88.8,462.4 89.5,463.5 90.2,462.6 90.9,462.4 91.6,462.8 92.3,463.0 93.0,462.3 93.7,462.7 94.4,461.8 95.1,462.1 95.8,462.1 96.5,461.6 97.2,461.4 97.9,461.3 98.6,462.0 99.3,461.9 100.0,461.7 100.7,461.8 101.4,461.0 102.1,461.6 102.8,461.7 103.5,461.9 104.2,461.0 104.9,461.0 105.6,459.6 106.3,459.9 107.0,458.8 107.7,458.3 108.4,457.6 109.1,454.1 109.8,455.6 110.5,456.7 111.2,458.3 111.9,459.7 112.6,459.8 113.3,461.4 114.0,460.7 114.7,459.8 115.4,459.6 116.1,459.4 116.8,461.2 117.5,462.6 118.2,459.7 118.9,461.3 119.6,460.9 120.3,462.9 121.0,461.1 121.7,460.0 122.4,460.4 123.1,461.8 123.8,461.1 124.5,458.8 125.2,460.6 125.9,459.5 126.6,459.6 127.3,460.0 128.0,456.7 128.7,458.0 129.4,457.6 130.1,458.8 130.8,459.2 131.5,459.7 132.2,459.6 132.9,458.9 133.6,459.9 134.3,459.6 135.0,459.7 135.7,459.9 136.4,459.2 137.1,460.7 137.8,459.3 138.5,459.1 139.2,460.0 139.9,458.8 140.6,459.5 141.3,459.1 142.0,459.3 142.7,458.7 143.4,458.8 144.1,459.1 144.8,459.7 145.5,459.7 146.2,459.4 146.9,459.3 147.6,461.2 148.3,459.1 149.0,459.7 149.7,460.4 150.4,459.8 151.1,459.6 151.8,459.6 152.5,458.9 153.2,458.7 153.9,459.8 154.6,459.1 155.3,457.7 156.0,458.5 156.7,457.5 157.4,458.6 158.1,457.7 158.8,457.5 159.5,458.3 160.2,457.8 160.9,457.9 161.6,457.5 162.3,456.9 163.0,457.9 163.7,457.6 164.4,458.4 165.1,457.8 165.8,458.6 166.5,457.9 167.2,458.2 167.9,457.9 168.6,459.4 169.3,459.6 170.0,459.1 170.7,459.1 171.4,458.8 172.1,459.5 172.8,460.4 173.5,459.5 174.2,459.8 174.9,458.7 175.6,459.8 176.3,459.9 177.0,459.8 177.7,459.0 178.4,460.4 179.1,458.6 179.8,460.0 180.5,459.8 181.2,460.0 181.9,458.9 182.6,458.7 183.3,459.2 184.0,459.6 184.7,459.8 185.4,459.6 186.1,459.4 186.8,459.8 187.5,458.9 188.2,459.0 188.9,461.1 189.6,458.3 190.3,457.6 191.0,458.0 191.7,458.1 192.4,459.4 193.1,458.7 193.8,456.5 194.5,459.0 195.2,458.7 195.9,461.1 196.6,459.7 197.3,458.0 198.0,457.6 198.7,459.1 199.4,459.5 200.1,458.5 200.8,456.9 201.5,458.0 202.2,458.7 202.9,460.6 203.6,459.7 204.3,458.5 205.0,458.1 205.7,459.3 206.4,460.6 207.1,458.3 207.8,458.6 208.5,457.6 209.2,459.1 209.9,461.5 210.6,459.2 211.3,458.6 212.0,458.6 212.7,460.4 213.4,461.8 214.1,459.9 214.8,459.1 215.5,457.8 216.2,459.6 216.9,460.7 217.6,460.0 218.3,458.2 219.0,459.9 219.7,460.4 220.4,462.1 221.1,460.0 221.8,458.9 222.5,459.3 223.2,460.3 223.9,459.9 224.6,459.2 225.3,460.0 226.0,459.0 226.7,459.2 227.4,459.9 228.1,458.8 228.8,459.7 229.5,458.9 230.2,460.0 230.9,459.2 231.6,459.6 232.3,458.7 233.0,459.3 233.7,460.0 234.4,459.7 235.1,458.4 235.8,459.9 236.5,459.8 237.2,459.1 237.9,460.1 238.6,458.7 239.3,459.2 240.0,459.9 240.7,460.0 241.4,459.9 242.1,458.6 242.8,458.2 243.5,459.4 244.2,458.4 244.9,459.1 245.6,458.5 246.3,459.8 247.0,459.7 247.7,459.5 248.4,459.2 249.1,459.3 249.8,459.1 250.5,459.5 251.2,459.4 251.9,459.6 252.6,459.1 253.3,460.4 254.0,459.6 254.7,460.2 255.4,460.2 256.1,459.0 256.8,458.6 257.5,460.2 258.2,459.4 258.9,459.6 259.6,459.5 260.3,459.7 261.0,459.0 261.7,459.6 262.4,459.5 263.1,459.7 263.8,458.5 264.5,460.2 265.2,460.0 265.9,458.8 266.6,459.4 267.3,459.8 268.0,460.1 268.7,459.8 269.4,460.4 270.1,459.4 270.8,458.6 271.5,458.5 272.2,459.0 272.9,458.0 273.6,458.6 274.3,460.2 275.0,459.5 275.7,458.4 276.4,456.5 277.1,456.8 277.8,457.5 278.5,458.5 279.2,457.5 279.9,457.7 280.6,457.2 281.3,458.9 282.0,460.2 282.7,458.9 283.4,457.9 284.1,457.8 284.8,459.8 285.5,458.5 286.2,458.3 286.9,457.4 287.6,458.1 288.3,458.6 289.0,461.6 289.7,458.7 290.4,458.6 291.1,459.2 291.8,459.4 292.5,460.7 293.2,458.5 293.9,458.1 294.6,458.0 295.3,458.9 296.0,458.6 296.7,459.7 297.4,459.2 298.1,460.1 298.8,460.0 299.5,460.9 300.2,460.0 300.9,459.7 301.6,459.6 302.3,459.7 303.0,459.1 303.7,459.1 304.4,460.1 305.1,459.5 305.8,459.5 306.5,459.3 307.2,460.1 307.9,459.2 308.6,459.6 309.3,458.4 310.0,458.9 310.7,459.1 311.4,460.1 312.1,460.0 312.8,460.0 313.5,459.6 314.2,459.5 314.9,460.7 315.6,459.0 316.3,460.9 317.0,460.6 317.7,459.2 318.4,460.9 319.1,460.2 319.8,461.2 320.5,459.9 321.2,460.5 321.9,459.3 322.6,459.7 323.3,459.7 324.0,459.2 324.7,459.5 325.4,459.2 326.1,459.3 326.8,459.6 327.5,459.4 328.2,460.9 328.9,459.9 329.6,459.8 330.3,461.1 331.0,460.3 331.7,459.8 332.4,459.4 333.1,460.2 333.8,460.0 334.5,460.2 335.2,459.6 335.9,459.5 336.6,460.5 337.3,460.2 338.0,459.6 338.7,460.3 339.4,460.0 340.1,460.2 340.8,460.5 341.5,461.0 342.2,460.9 342.9,460.3 343.6,460.0 344.3,460.6 345.0,460.9 345.7,460.4 346.4,459.4 347.1,460.4 347.8,459.7 348.5,460.8 349.2,460.9 349.9,460.7 350.6,461.1 351.3,460.2 352.0,460.3 352.7,460.4 353.4,461.2 354.1,460.9 354.8,459.7 355.5,460.1 356.2,457.8 356.9,457.6 357.6,458.2 358.3,456.7 359.0,456.7 359.7,457.8 360.4,457.9 361.1,459.0 361.8,456.2 362.5,456.5 363.2,456.7 363.9,456.9 364.6,457.1 365.3,456.6 366.0,456.9 366.7,457.8 367.4,457.9 368.1,458.0 368.8,456.5 369.5,457.7 370.2,459.3 370.9,457.7 371.6,458.6 372.3,456.8 373.0,458.3 373.7,460.4 374.4,458.9 375.1,458.4 375.8,458.4 376.5,459.5 377.2,459.4 377.9,458.0 378.6,457.8 379.3,458.1 380.0,460.2 380.7,459.2 381.4,457.5 382.1,458.9 382.8,458.5 383.5,458.5 384.2,459.5 384.9,458.7 385.6,458.8 386.3,459.4 387.0,459.0 387.7,459.1 388.4,458.7 389.1,458.7 389.8,459.1 390.5,459.1 391.2,459.4 391.9,458.8 392.6,459.3 393.3,459.4 394.0,459.2 394.7,459.4 395.4,459.7 396.1,459.2 396.8,459.2 397.5,458.6 398.2,459.4 398.9,459.1 399.6,459.0 400.3,458.8 401.0,459.5 401.7,460.6 402.4,459.5 403.1,459.3 403.8,459.5 404.5,459.0 405.2,459.4 405.9,459.0 406.6,459.0 407.3,459.5 408.0,459.5 408.7,459.3 409.4,458.9 410.1,459.5 410.8,458.8 411.5,459.8 412.2,459.2 412.9,459.4 413.6,459.9 414.3,459.8 415.0,458.8 415.7,459.4 416.4,459.7 417.1,458.9 417.8,458.2 418.5,459.5 419.2,459.5 419.9,459.8 420.6,459.6 421.3,459.6 422.0,459.7 422.7,460.3 423.4,459.8 424.1,459.9 424.8,459.4 425.5,460.2 426.2,459.5 426.9,460.0 427.6,458.4 428.3,459.7 429.0,459.5 429.7,459.3 430.4,460.3 431.1,459.8 431.8,459.5 432.5,459.3 433.2,460.6 433.9,460.0 434.6,459.9 435.3,459.1 436.0,460.2 436.7,459.8 437.4,459.4 438.1,459.4 438.8,458.6 439.5,459.8 440.2,458.8 440.9,459.9 441.6,459.1 442.3,459.0 443.0,459.5 443.7,459.4 444.4,458.7 445.1,459.2 445.8,459.6 446.5,459.1 447.2,458.5 447.9,459.1 448.6,458.7 449.3,458.9 450.0,459.2 450.7,459.2 451.4,459.1 452.1,458.3 452.8,459.4 453.5,459.0 454.2,458.8 454.9,459.1 455.6,459.9 456.3,458.0 457.0,457.7 457.7,458.9 458.4,457.9 459.1,458.9 459.8,457.6 460.5,457.8 461.2,459.1 461.9,458.0 462.6,459.6 463.3,456.5 464.0,457.2 464.7,458.4 465.4,458.9 466.1,457.4 466.8,457.0 467.5,456.8 468.2,459.8 468.9,459.7 469.6,457.9 470.3,458.7 471.0,458.6 471.7,460.0 472.4,458.5 473.1,456.0 473.8,455.9 474.5,456.9 475.2,459.0 475.9,458.8 476.6,458.1 477.3,457.2" fill="none" stroke="#1a1a1a" stroke-width="1.05" stroke-linejoin="round"/>
<polyline points="96.95,461.9 97.23,464.2 97.51,457.2 97.79,465.7 98.07,456.2 98.35,470.9 98.63,456.9 98.91,473.4 99.19,450.1 99.47,472.8 99.75,450.4 100.03,475.2 100.31,454.5 100.59,472.2 100.87,447.2 101.15,471.6 101.43,453.3 101.71,468.1 101.99,456.2 102.27,467.4 102.55,453.9 102.83,467.9 103.11,458.5 103.39,462.7" fill="none" stroke="#222" stroke-width="0.75"/>
<path d="M99.8,435.9L100.5,484.7M100.8,446.3L100.0,499.9" stroke="#333" stroke-width="0.8" fill="none"/>
<polyline points="182.15,459.2 182.43,461.9 182.71,455.0 182.99,463.8 183.27,449.1 183.55,469.1 183.83,446.2 184.11,467.6 184.39,446.3 184.67,467.6 184.95,443.3 185.23,472.4 185.51,450.5 185.79,472.5 186.07,451.8 186.35,464.7 186.63,447.2 186.91,465.6 187.19,450.7 187.47,466.4 187.75,455.8 188.03,464.0 188.31,457.1 188.59,459.6" fill="none" stroke="#222" stroke-width="0.75"/>
<path d="M185.0,430.7L185.7,477.8M186.0,442.1L185.2,490.2" stroke="#333" stroke-width="0.8" fill="none"/>
<polyline points="268.50,458.9 268.78,460.7 269.06,454.5 269.34,461.9 269.62,455.2 269.90,463.2 270.18,451.9 270.46,462.6 270.74,453.2 271.02,467.3 271.30,448.4 271.58,468.7 271.86,446.1 272.14,467.9 272.42,451.6 272.70,463.0 272.98,452.9 273.26,463.7 273.54,453.3 273.82,462.2 274.10,456.6 274.38,459.8" fill="none" stroke="#222" stroke-width="0.75"/>
<path d="M271.1,437.9L271.8,475.7M272.1,446.3L271.3,486.9" stroke="#333" stroke-width="0.8" fill="none"/>
<polyline points="353.50,458.1 353.78,460.2 354.06,454.2 354.34,465.5 354.62,454.0 354.90,464.3 355.18,449.6 355.46,463.4 355.74,453.3 356.02,469.4 356.30,449.9 356.58,465.8 356.86,453.5 357.14,466.3 357.42,447.9 357.70,469.0 357.98,446.7 358.26,471.6 358.54,447.8 358.82,463.2 359.10,454.0 359.38,461.9 359.66,454.3 359.94,461.5 360.22,457.2 360.50,458.1" fill="none" stroke="#222" stroke-width="0.75"/>
<path d="M356.6,441.1L357.3,481.5M357.6,447.9L356.8,497.1" stroke="#333" stroke-width="0.8" fill="none"/>
<polyline points="455.20,458.3 455.48,459.3 455.76,456.7 456.04,462.6 456.32,454.8 456.60,462.0 456.88,455.6 457.16,463.8 457.44,452.0 457.72,465.9 458.00,450.0 458.28,467.0 458.56,453.7 458.84,462.7 459.12,450.7 459.40,466.8 459.68,452.4 459.96,466.5 460.24,452.7 460.52,462.6 460.80,455.3 461.08,460.5 461.36,454.9 461.64,461.6 461.92,456.7 462.20,458.3" fill="none" stroke="#222" stroke-width="0.75"/>
<path d="M458.3,439.3L459.0,472.7M459.3,446.9L458.5,482.3" stroke="#333" stroke-width="0.8" fill="none"/>
<rect x="57.0" y="517.6" width="436.8" height="86.0" fill="none" stroke="#4a4a4a" stroke-width="1.4"/>
<text x="7.5" y="570.2" font-size="17.5" text-anchor="start" fill="#111" font-weight="bold" >G</text>
<path d="M87.3,528.2H84.8V594.9H87.3" fill="none" stroke="#333" stroke-width="1.1"/>
<text transform="translate(82.5,530.8) scale(0.9,1)" font-size="7.5" text-anchor="end" fill="#555">1</text>
<line x1="82.3" y1="544.9" x2="84.8" y2="544.9" stroke="#333" stroke-width="1.1"/>
<text transform="translate(82.5,547.5) scale(0.9,1)" font-size="7.5" text-anchor="end" fill="#555">0.5</text>
<line x1="82.3" y1="561.6" x2="84.8" y2="561.6" stroke="#333" stroke-width="1.1"/>
<text transform="translate(82.5,564.2) scale(0.9,1)" font-size="7.5" text-anchor="end" fill="#555">0</text>
<line x1="82.3" y1="578.2" x2="84.8" y2="578.2" stroke="#333" stroke-width="1.1"/>
<text transform="translate(82.5,580.8) scale(0.9,1)" font-size="7.5" text-anchor="end" fill="#555">-0.5</text>
<text transform="translate(82.5,597.5) scale(0.9,1)" font-size="7.5" text-anchor="end" fill="#555">-1</text>
<text x="87.8" y="535.7" font-size="7.3" text-anchor="start" fill="#555" font-weight="normal" >(mV)</text>
<line x1="444.0" y1="535.3" x2="473.0" y2="535.3" stroke="#222" stroke-width="1.3"/>
<text x="459.0" y="530.8" font-size="7.2" text-anchor="middle" fill="#333" font-weight="normal" >100 ms</text>
<text transform="translate(69.3,560.5) rotate(-90)" font-size="10.2" text-anchor="middle" fill="#1a1a1a">Vehicle</text>
<polyline points="84.8,562.3 85.5,562.4 86.2,562.5 86.9,561.9 87.6,562.6 88.3,562.3 89.0,562.3 89.7,562.5 90.4,562.5 91.1,562.3 91.8,562.5 92.5,562.3 93.2,562.4 93.9,562.3 94.6,562.3 95.3,562.5 96.0,562.3 96.7,562.9 97.4,562.4 98.1,562.7 98.8,562.5 99.5,562.3 100.2,562.4 100.9,562.4 101.6,562.6 102.3,562.3 103.0,562.5 103.7,562.1 104.4,562.2 105.1,562.2 105.8,562.3 106.5,561.9 107.2,562.1 107.9,562.5 108.6,562.5 109.3,562.8 110.0,562.8 110.7,562.1 111.4,561.8 112.1,562.0 112.8,562.3 113.5,561.9 114.2,562.4 114.9,562.2 115.6,561.9 116.3,562.6 117.0,562.2 117.7,562.4 118.4,561.9 119.1,561.5 119.8,562.4 120.5,562.2 121.2,561.8 121.9,561.9 122.6,562.6 123.3,562.3 124.0,562.3 124.7,562.2 125.4,561.9 126.1,561.8 126.8,562.4 127.5,562.5 128.2,562.6 128.9,562.0 129.6,561.7 130.3,562.1 131.0,562.1 131.7,562.3 132.4,562.4 133.1,562.0 133.8,562.3 134.5,562.4 135.2,561.9 135.9,562.3 136.6,561.8 137.3,561.7 138.0,562.1 138.7,562.4 139.4,561.9 140.1,562.6 140.8,562.4 141.5,562.3 142.2,561.8 142.9,562.2 143.6,561.8 144.3,562.3 145.0,561.9 145.7,562.5 146.4,562.6 147.1,561.9 147.8,562.3 148.5,562.6 149.2,562.1 149.9,561.8 150.6,562.1 151.3,561.8 152.0,561.9 152.7,561.9 153.4,562.2 154.1,562.0 154.8,562.2 155.5,562.5 156.2,562.0 156.9,562.2 157.6,562.1 158.3,562.3 159.0,562.0 159.7,562.2 160.4,562.2 161.1,562.5 161.8,562.1 162.5,562.5 163.2,562.2 163.9,562.2 164.6,561.9 165.3,562.2 166.0,562.5 166.7,562.1 167.4,562.1 168.1,562.2 168.8,562.7 169.5,562.1 170.2,562.2 170.9,562.2 171.6,562.1 172.3,562.2 173.0,562.2 173.7,562.5 174.4,562.5 175.1,562.1 175.8,562.1 176.5,562.2 177.2,562.1 177.9,562.3 178.6,562.2 179.3,562.5 180.0,562.3 180.7,562.5 181.4,562.6 182.1,562.3 182.8,562.4 183.5,562.2 184.2,562.6 184.9,562.3 185.6,562.0 186.3,562.1 187.0,562.4 187.7,562.2 188.4,562.3 189.1,562.6 189.8,562.4 190.5,562.2 191.2,562.1 191.9,562.5 192.6,562.7 193.3,562.4 194.0,562.4 194.7,562.2 195.4,562.2 196.1,562.6 196.8,562.4 197.5,563.1 198.2,562.5 198.9,562.3 199.6,562.5 200.3,562.4 201.0,562.3 201.7,562.5 202.4,562.5 203.1,562.3 203.8,562.6 204.5,562.4 205.2,563.4 205.9,562.5 206.6,562.6 207.3,562.5 208.0,562.6 208.7,562.5 209.4,562.7 210.1,562.8 210.8,562.5 211.5,562.6 212.2,562.7 212.9,562.6 213.6,562.7 214.3,562.6 215.0,562.6 215.7,562.5 216.4,562.9 217.1,562.6 217.8,562.1 218.5,562.7 219.2,562.6 219.9,562.9 220.6,562.5 221.3,562.7 222.0,562.8 222.7,562.6 223.4,562.9 224.1,562.8 224.8,562.5 225.5,562.6 226.2,562.5 226.9,562.9 227.6,562.7 228.3,562.7 229.0,562.9 229.7,562.9 230.4,562.7 231.1,562.6 231.8,562.7 232.5,562.9 233.2,562.6 233.9,562.7 234.6,562.6 235.3,562.5 236.0,562.6 236.7,562.6 237.4,562.7 238.1,562.7 238.8,562.9 239.5,562.6 240.2,562.3 240.9,562.7 241.6,562.5 242.3,562.7 243.0,562.6 243.7,562.9 244.4,562.7 245.1,562.8 245.8,562.7 246.5,563.1 247.2,562.4 247.9,563.0 248.6,562.1 249.3,562.7 250.0,562.6 250.7,563.0 251.4,562.6 252.1,562.7 252.8,562.2 253.5,563.1 254.2,562.6 254.9,562.7 255.6,562.7 256.3,562.8 257.0,562.6 257.7,562.4 258.4,562.9 259.1,562.7 259.8,562.0 260.5,562.5 261.2,562.8 261.9,562.6 262.6,562.6 263.3,562.6 264.0,562.6 264.7,562.6 265.4,562.5 266.1,562.4 266.8,562.6 267.5,562.8 268.2,562.7 268.9,562.6 269.6,562.7 270.3,562.4 271.0,562.9 271.7,562.6 272.4,562.2 273.1,562.6 273.8,562.3 274.5,562.7 275.2,562.6 275.9,562.5 276.6,562.5 277.3,562.3 278.0,562.6 278.7,562.6 279.4,562.4 280.1,562.5 280.8,562.5 281.5,562.6 282.2,562.2 282.9,562.4 283.6,562.5 284.3,562.2 285.0,562.1 285.7,562.6 286.4,562.3 287.1,562.0 287.8,562.3 288.5,562.5 289.2,562.3 289.9,562.6 290.6,562.3 291.3,562.0 292.0,562.5 292.7,562.5 293.4,562.2 294.1,562.2 294.8,562.3 295.5,562.5 296.2,562.3 296.9,562.1 297.6,562.0 298.3,562.0 299.0,562.4 299.7,562.4 300.4,562.0 301.1,562.2 301.8,561.7 302.5,562.2 303.2,562.3 303.9,562.0 304.6,562.4 305.3,562.2 306.0,562.1 306.7,562.3 307.4,561.9 308.1,562.0 308.8,562.1 309.5,562.4 310.2,562.4 310.9,561.9 311.6,562.3 312.3,561.9 313.0,562.5 313.7,562.4 314.4,562.1 315.1,561.8 315.8,561.8 316.5,561.9 317.2,561.9 317.9,562.1 318.6,562.1 319.3,562.2 320.0,561.9 320.7,562.2 321.4,562.2 322.1,561.5 322.8,561.7 323.5,562.1 324.2,562.0 324.9,561.8 325.6,562.2 326.3,562.3 327.0,562.2 327.7,562.0 328.4,562.0 329.1,561.9 329.8,562.5 330.5,562.0 331.2,562.1 331.9,561.7 332.6,562.1 333.3,562.0 334.0,562.2 334.7,562.2 335.4,561.8 336.1,561.7 336.8,562.0 337.5,562.2 338.2,562.1 338.9,561.9 339.6,561.9 340.3,562.3 341.0,562.4 341.7,562.4 342.4,562.4 343.1,562.2 343.8,562.1 344.5,562.0 345.2,562.3 345.9,561.9 346.6,562.2 347.3,562.1 348.0,561.9 348.7,562.1 349.4,561.9 350.1,561.9 350.8,562.5 351.5,562.4 352.2,562.1 352.9,562.5 353.6,562.1 354.3,562.5 355.0,562.3 355.7,562.3 356.4,562.4 357.1,562.4 357.8,562.2 358.5,562.0 359.2,562.8 359.9,562.0 360.6,562.3 361.3,562.3 362.0,562.1 362.7,562.4 363.4,562.4 364.1,562.3 364.8,562.5 365.5,562.6 366.2,561.9 366.9,562.3 367.6,562.3 368.3,562.0 369.0,562.2 369.7,562.4 370.4,562.1 371.1,562.3 371.8,562.4 372.5,562.1 373.2,562.5 373.9,562.1 374.6,562.4 375.3,562.7 376.0,562.8 376.7,562.6 377.4,562.0 378.1,562.7 378.8,562.4 379.5,562.4 380.2,562.6 380.9,562.4 381.6,562.3 382.3,562.5 383.0,562.3 383.7,562.6 384.4,562.8 385.1,562.4 385.8,562.2 386.5,562.8 387.2,562.8 387.9,562.3 388.6,562.8 389.3,562.6 390.0,562.8 390.7,562.2 391.4,562.6 392.1,562.0 392.8,562.0 393.5,562.9 394.2,562.4 394.9,562.6 395.6,562.5 396.3,562.5 397.0,562.9 397.7,562.8 398.4,562.6 399.1,562.6 399.8,562.5 400.5,562.7 401.2,562.7 401.9,562.5 402.6,562.5 403.3,562.9 404.0,562.9 404.7,562.9 405.4,562.7 406.1,562.7 406.8,562.5 407.5,563.0 408.2,562.7 408.9,562.9 409.6,562.6 410.3,562.5 411.0,563.1 411.7,562.7 412.4,562.3 413.1,562.4 413.8,562.9 414.5,562.8 415.2,562.7 415.9,562.9 416.6,562.4 417.3,562.9 418.0,563.4 418.7,562.5 419.4,562.7 420.1,562.5 420.8,562.5 421.5,562.7 422.2,562.3 422.9,562.6 423.6,562.4 424.3,562.7 425.0,562.9 425.7,562.8 426.4,562.8 427.1,562.5 427.8,562.6 428.5,562.6 429.2,562.5 429.9,562.9 430.6,562.8 431.3,562.5 432.0,562.9 432.7,562.8 433.4,562.7 434.1,562.6 434.8,562.7 435.5,562.6 436.2,562.6 436.9,562.3 437.6,562.7 438.3,562.7 439.0,562.8 439.7,562.8 440.4,562.9 441.1,562.4 441.8,562.7 442.5,562.6 443.2,562.6 443.9,562.6 444.6,562.8 445.3,562.5 446.0,562.6 446.7,563.2 447.4,562.6 448.1,562.6 448.8,562.5 449.5,562.6 450.2,562.5 450.9,562.2 451.6,562.6 452.3,562.7 453.0,562.9 453.7,562.4 454.4,562.6 455.1,562.1 455.8,562.6 456.5,562.8 457.2,562.4 457.9,562.3 458.6,562.5 459.3,562.3 460.0,562.7 460.7,562.3 461.4,562.2 462.1,562.7 462.8,562.3 463.5,562.6 464.2,562.5 464.9,562.2 465.6,562.3 466.3,562.5 467.0,562.7 467.7,562.3 468.4,562.4 469.1,562.4 469.8,562.6 470.5,562.7 471.2,562.4 471.9,562.4 472.6,562.2 473.3,562.4 474.0,562.3 474.7,562.5 475.4,562.1 476.1,562.2 476.8,562.1" fill="none" stroke="#1a1a1a" stroke-width="1.3" stroke-linejoin="round"/>
<polyline points="97.50,562.4 97.78,564.1 98.06,561.8 98.34,564.3 98.62,561.9 98.90,567.1 99.18,561.6 99.46,565.4 99.74,561.4 100.02,564.6 100.30,562.1" fill="none" stroke="#222" stroke-width="0.75"/>
<path d="M98.6,560.9L99.3,566.6M99.6,561.5L98.8,569.4" stroke="#333" stroke-width="0.8" fill="none"/>
<polyline points="101.00,562.3 101.28,562.8 101.56,562.1 101.84,563.5 102.12,561.6 102.40,564.3 102.68,561.8 102.96,563.9 103.24,561.2 103.52,565.3 103.80,561.7 104.08,566.2 104.36,561.6 104.64,564.1 104.92,561.7 105.20,564.9 105.48,561.2 105.76,565.9 106.04,561.6 106.32,565.3 106.60,561.7 106.88,564.8 107.16,561.7 107.44,563.9 107.72,561.9 108.00,564.0 108.28,562.0 108.56,563.2 108.84,562.2" fill="none" stroke="#222" stroke-width="0.75"/>
<path d="M104.6,560.8L105.3,565.3M105.6,561.4L104.8,567.3" stroke="#333" stroke-width="0.8" fill="none"/>
<polyline points="110.00,562.2 110.28,562.7 110.56,561.7 110.84,563.6 111.12,561.0 111.40,563.2 111.68,561.4 111.96,564.1 112.24,561.6 112.52,563.4 112.80,561.4 113.08,563.8 113.36,561.8 113.64,562.8 113.92,562.1" fill="none" stroke="#222" stroke-width="0.75"/>
<path d="M111.6,560.7L112.3,564.0M112.6,561.3L111.8,565.2" stroke="#333" stroke-width="0.8" fill="none"/>
<polyline points="253.00,562.6 253.28,562.9 253.56,562.2 253.84,563.7 254.12,562.0 254.40,565.0 254.68,562.0 254.96,566.1 255.24,561.7 255.52,565.2 255.80,561.5 256.08,566.0 256.36,561.5 256.64,566.6 256.92,561.3 257.20,565.1 257.48,561.6 257.76,564.5 258.04,561.3 258.32,567.3 258.60,561.3 258.88,564.7 259.16,561.6 259.44,566.1 259.72,562.0 260.00,565.0 260.28,561.4 260.56,566.7 260.84,562.0 261.12,566.0 261.40,561.9 261.68,564.4 261.96,562.1 262.24,563.5 262.52,562.4 262.80,562.8" fill="none" stroke="#222" stroke-width="0.75"/>
<path d="M257.6,561.1L258.3,565.6M258.6,561.7L257.8,567.6" stroke="#333" stroke-width="0.8" fill="none"/>
<polyline points="259.50,562.6 259.78,563.2 260.06,562.2 260.34,564.1 260.62,562.1 260.90,564.3 261.18,561.8 261.46,564.6 261.74,561.9 262.02,565.5 262.30,562.0 262.58,565.3 262.86,562.2 263.14,564.2 263.42,561.9 263.70,563.6 263.98,562.4 264.26,562.9" fill="none" stroke="#222" stroke-width="0.75"/>
<path d="M261.6,561.6L262.3,564.4M262.6,562.0L261.8,565.6" stroke="#333" stroke-width="0.8" fill="none"/>
<polyline points="461.00,562.4 461.28,562.5 461.56,562.3 461.84,562.7 462.12,562.1 462.40,562.9 462.68,562.0 462.96,562.8 463.24,561.8 463.52,563.5 463.80,561.8 464.08,563.7 464.36,561.7 464.64,563.7 464.92,561.5 465.20,563.6 465.48,562.0 465.76,564.0 466.04,561.3 466.32,563.3 466.60,562.0 466.88,563.4 467.16,561.9 467.44,563.5 467.72,561.9 468.00,563.3 468.28,562.0 468.56,563.6 468.84,561.8 469.12,563.9 469.40,561.7 469.68,563.2 469.96,561.3 470.24,564.0 470.52,561.5 470.80,563.2 471.08,561.8 471.36,563.4 471.64,561.8 471.92,562.9 472.20,561.9 472.48,563.5 472.76,561.8 473.04,563.3 473.32,562.0 473.60,563.1 473.88,562.0 474.16,562.9 474.44,562.2 474.72,562.5 475.00,562.4" fill="none" stroke="#222" stroke-width="0.75"/>
<path d="M467.6,561.4L468.3,563.0M468.6,561.8L467.8,563.4" stroke="#333" stroke-width="0.8" fill="none"/>
<rect x="57.0" y="612.4" width="436.8" height="85.9" fill="none" stroke="#4a4a4a" stroke-width="1.4"/>
<text x="8.8" y="659.4" font-size="17.5" text-anchor="start" fill="#111" font-weight="bold" >H</text>
<path d="M88.0,624.2H85.5V690.0H88.0" fill="none" stroke="#333" stroke-width="1.1"/>
<text transform="translate(83.2,626.8) scale(0.9,1)" font-size="7.5" text-anchor="end" fill="#555">1</text>
<line x1="83.0" y1="640.6" x2="85.5" y2="640.6" stroke="#333" stroke-width="1.1"/>
<text transform="translate(83.2,643.2) scale(0.9,1)" font-size="7.5" text-anchor="end" fill="#555">0.5</text>
<line x1="83.0" y1="657.1" x2="85.5" y2="657.1" stroke="#333" stroke-width="1.1"/>
<text transform="translate(83.2,659.7) scale(0.9,1)" font-size="7.5" text-anchor="end" fill="#555">0</text>
<line x1="83.0" y1="673.5" x2="85.5" y2="673.5" stroke="#333" stroke-width="1.1"/>
<text transform="translate(83.2,676.1) scale(0.9,1)" font-size="7.5" text-anchor="end" fill="#555">-0.5</text>
<text transform="translate(83.2,692.6) scale(0.9,1)" font-size="7.5" text-anchor="end" fill="#555">-1</text>
<text x="88.5" y="631.6" font-size="7.3" text-anchor="start" fill="#555" font-weight="normal" >(mV)</text>
<line x1="444.6" y1="636.2" x2="473.0" y2="636.2" stroke="#222" stroke-width="1.3"/>
<text x="459.0" y="631.8" font-size="7.2" text-anchor="middle" fill="#333" font-weight="normal" >100 ms</text>
<text transform="translate(69.3,656.4) rotate(-90)" font-size="9.8" text-anchor="middle" fill="#1a1a1a">NPC-Astro</text>
<polyline points="85.5,657.2 86.2,658.2 86.9,657.3 87.6,657.3 88.3,657.2 89.0,657.3 89.7,657.9 90.4,658.5 91.1,658.5 91.8,658.3 92.5,658.2 93.2,658.7 93.9,659.0 94.6,658.6 95.3,658.2 96.0,659.2 96.7,659.0 97.4,658.3 98.1,659.0 98.8,658.6 99.5,658.0 100.2,658.3 100.9,658.2 101.6,659.3 102.3,659.0 103.0,659.1 103.7,659.0 104.4,658.4 105.1,658.3 105.8,658.7 106.5,658.3 107.2,658.7 107.9,659.2 108.6,659.1 109.3,658.5 110.0,659.3 110.7,658.8 111.4,659.2 112.1,659.1 112.8,659.6 113.5,659.2 114.2,658.8 114.9,659.1 115.6,659.5 116.3,658.9 117.0,659.0 117.7,659.4 118.4,659.6 119.1,658.8 119.8,659.2 120.5,659.5 121.2,659.5 121.9,659.2 122.6,659.0 123.3,659.5 124.0,659.2 124.7,659.8 125.4,659.3 126.1,660.0 126.8,660.2 127.5,659.0 128.2,659.2 128.9,659.8 129.6,659.7 130.3,658.8 131.0,659.8 131.7,659.2 132.4,659.6 133.1,659.4 133.8,659.6 134.5,659.4 135.2,659.4 135.9,660.5 136.6,660.2 137.3,659.6 138.0,659.6 138.7,659.8 139.4,659.3 140.1,660.1 140.8,659.7 141.5,660.1 142.2,660.2 142.9,659.6 143.6,660.9 144.3,659.6 145.0,659.5 145.7,660.4 146.4,660.2 147.1,660.5 147.8,660.1 148.5,661.0 149.2,660.1 149.9,660.7 150.6,660.1 151.3,660.2 152.0,660.5 152.7,661.0 153.4,660.9 154.1,661.2 154.8,661.0 155.5,660.7 156.2,660.3 156.9,660.1 157.6,660.4 158.3,660.5 159.0,660.2 159.7,660.4 160.4,660.0 161.1,660.0 161.8,660.4 162.5,660.5 163.2,659.7 163.9,659.8 164.6,659.5 165.3,660.3 166.0,659.4 166.7,659.9 167.4,659.0 168.1,659.9 168.8,658.9 169.5,659.3 170.2,658.4 170.9,659.0 171.6,659.3 172.3,658.6 173.0,658.8 173.7,659.0 174.4,658.8 175.1,658.6 175.8,658.5 176.5,658.9 177.2,659.1 177.9,658.1 178.6,658.6 179.3,658.3 180.0,659.1 180.7,657.9 181.4,658.5 182.1,659.0 182.8,659.2 183.5,659.3 184.2,659.1 184.9,658.8 185.6,659.2 186.3,660.2 187.0,659.0 187.7,659.4 188.4,660.2 189.1,660.1 189.8,660.8 190.5,660.8 191.2,660.5 191.9,661.1 192.6,660.8 193.3,661.4 194.0,660.8 194.7,661.5 195.4,661.9 196.1,661.8 196.8,662.5 197.5,662.1 198.2,662.2 198.9,663.2 199.6,663.1 200.3,662.8 201.0,662.8 201.7,662.5 202.4,662.5 203.1,663.4 203.8,662.8 204.5,662.9 205.2,663.3 205.9,663.3 206.6,662.8 207.3,663.3 208.0,663.6 208.7,663.5 209.4,663.3 210.1,663.0 210.8,663.5 211.5,663.9 212.2,663.2 212.9,664.1 213.6,664.0 214.3,663.9 215.0,664.0 215.7,664.1 216.4,664.6 217.1,664.5 217.8,665.2 218.5,665.3 219.2,665.3 219.9,665.9 220.6,666.1 221.3,665.8 222.0,665.8 222.7,666.2 223.4,666.4 224.1,666.1 224.8,667.2 225.5,666.0 226.2,666.4 226.9,666.2 227.6,667.0 228.3,667.6 229.0,666.7 229.7,665.5 230.4,666.7 231.1,666.8 231.8,666.2 232.5,665.9 233.2,665.5 233.9,665.8 234.6,665.7 235.3,666.0 236.0,666.1 236.7,665.7 237.4,665.2 238.1,665.4 238.8,665.8 239.5,665.2 240.2,665.5 240.9,665.3 241.6,664.3 242.3,663.9 243.0,664.3 243.7,664.5 244.4,664.0 245.1,663.4 245.8,663.2 246.5,663.3 247.2,663.0 247.9,663.4 248.6,662.7 249.3,663.0 250.0,663.3 250.7,662.6 251.4,662.3 252.1,662.7 252.8,662.4 253.5,662.9 254.2,661.6 254.9,662.2 255.6,662.4 256.3,661.8 257.0,662.2 257.7,662.8 258.4,661.7 259.1,662.6 259.8,661.8 260.5,661.6 261.2,662.1 261.9,662.2 262.6,662.0 263.3,662.0 264.0,662.0 264.7,661.8 265.4,662.3 266.1,662.2 266.8,661.3 267.5,661.3 268.2,662.0 268.9,661.5 269.6,661.6 270.3,661.4 271.0,661.8 271.7,661.7 272.4,661.2 273.1,661.1 273.8,661.7 274.5,660.8 275.2,661.2 275.9,661.9 276.6,661.8 277.3,661.1 278.0,661.8 278.7,661.4 279.4,662.2 280.1,661.3 280.8,661.2 281.5,661.2 282.2,661.3 282.9,661.6 283.6,661.7 284.3,661.0 285.0,661.5 285.7,661.6 286.4,661.6 287.1,661.1 287.8,661.6 288.5,661.5 289.2,661.9 289.9,661.2 290.6,661.8 291.3,662.0 292.0,661.8 292.7,661.3 293.4,662.0 294.1,661.4 294.8,662.0 295.5,662.1 296.2,662.2 296.9,661.5 297.6,661.9 298.3,662.4 299.0,662.4 299.7,661.8 300.4,662.7 301.1,662.9 301.8,661.7 302.5,662.7 303.2,662.4 303.9,662.8 304.6,662.5 305.3,663.0 306.0,662.7 306.7,663.1 307.4,662.9 308.1,662.9 308.8,662.9 309.5,662.9 310.2,663.0 310.9,663.1 311.6,663.0 312.3,663.0 313.0,663.2 313.7,662.6 314.4,663.2 315.1,663.4 315.8,663.6 316.5,663.3 317.2,664.1 317.9,663.5 318.6,663.9 319.3,664.1 320.0,663.5 320.7,663.7 321.4,664.2 322.1,664.1 322.8,664.2 323.5,664.5 324.2,663.8 324.9,663.2 325.6,663.5 326.3,664.1 327.0,664.0 327.7,664.4 328.4,664.1 329.1,664.3 329.8,664.3 330.5,664.8 331.2,664.6 331.9,664.6 332.6,664.6 333.3,664.0 334.0,665.4 334.7,664.5 335.4,664.7 336.1,664.6 336.8,663.7 337.5,664.5 338.2,664.3 338.9,665.0 339.6,664.4 340.3,664.8 341.0,664.5 341.7,664.7 342.4,663.9 343.1,664.4 343.8,663.8 344.5,664.2 345.2,663.8 345.9,663.9 346.6,663.9 347.3,663.0 348.0,663.4 348.7,662.8 349.4,662.8 350.1,663.4 350.8,663.5 351.5,662.8 352.2,662.8 352.9,663.2 353.6,662.5 354.3,662.6 355.0,662.7 355.7,662.8 356.4,663.2 357.1,662.4 357.8,662.7 358.5,662.0 359.2,661.8 359.9,662.2 360.6,662.5 361.3,662.5 362.0,661.9 362.7,660.8 363.4,661.2 364.1,661.8 364.8,661.0 365.5,660.6 366.2,660.8 366.9,661.1 367.6,661.0 368.3,660.9 369.0,660.8 369.7,660.9 370.4,661.2 371.1,661.0 371.8,660.2 372.5,660.9 373.2,660.8 373.9,660.6 374.6,660.3 375.3,660.8 376.0,660.5 376.7,660.8 377.4,660.6 378.1,660.4 378.8,660.9 379.5,660.6 380.2,660.5 380.9,660.5 381.6,660.4 382.3,660.8 383.0,660.8 383.7,660.2 384.4,660.9 385.1,660.9 385.8,660.8 386.5,661.0 387.2,660.6 387.9,660.6 388.6,660.8 389.3,660.8 390.0,660.3 390.7,660.0 391.4,661.2 392.1,660.3 392.8,660.8 393.5,660.2 394.2,660.6 394.9,660.2 395.6,660.9 396.3,660.1 397.0,660.8 397.7,660.0 398.4,660.5 399.1,661.1 399.8,660.5 400.5,660.6 401.2,660.9 401.9,659.9 402.6,660.6 403.3,660.6 404.0,660.8 404.7,660.4 405.4,660.4 406.1,660.4 406.8,660.7 407.5,660.7 408.2,660.7 408.9,660.9 409.6,660.4 410.3,660.3 411.0,661.2 411.7,661.2 412.4,660.8 413.1,661.1 413.8,660.8 414.5,661.0 415.2,661.0 415.9,661.5 416.6,661.9 417.3,661.2 418.0,661.4 418.7,661.5 419.4,661.4 420.1,661.0 420.8,661.9 421.5,661.7 422.2,661.9 422.9,661.8 423.6,662.3 424.3,661.7 425.0,662.3 425.7,662.6 426.4,662.5 427.1,662.1 427.8,662.6 428.5,662.2 429.2,662.5 429.9,662.9 430.6,662.9 431.3,662.9 432.0,662.7 432.7,662.8 433.4,662.8 434.1,663.3 434.8,663.3 435.5,662.7 436.2,663.0 436.9,662.7 437.6,662.8 438.3,662.9 439.0,663.2 439.7,663.1 440.4,663.0 441.1,663.0 441.8,663.3 442.5,663.4 443.2,662.8 443.9,663.3 444.6,662.8 445.3,662.6 446.0,662.8 446.7,662.9 447.4,662.9 448.1,662.8 448.8,662.6 449.5,662.9 450.2,662.2 450.9,662.3 451.6,662.7 452.3,662.3 453.0,662.1 453.7,663.0 454.4,663.1 455.1,662.1 455.8,662.4 456.5,662.1 457.2,661.7 457.9,661.9 458.6,662.8 459.3,662.5 460.0,662.5 460.7,663.0 461.4,662.4 462.1,662.6 462.8,662.2 463.5,663.2 464.2,662.3 464.9,661.9 465.6,662.4 466.3,662.5 467.0,662.0 467.7,661.6 468.4,662.2 469.1,661.9 469.8,662.0 470.5,662.4 471.2,662.1 471.9,661.5 472.6,661.7 473.3,661.8 474.0,661.9 474.7,662.1 475.4,661.6 476.1,661.5" fill="none" stroke="#1a1a1a" stroke-width="1.2" stroke-linejoin="round"/>
<polyline points="87.50,657.7 87.78,659.5 88.06,656.1 88.34,663.5 88.62,655.7 88.90,663.8 89.18,655.3 89.46,662.3 89.74,654.9 90.02,665.2 90.30,656.2 90.58,661.5 90.86,656.7 91.14,659.6 91.42,657.5" fill="none" stroke="#222" stroke-width="0.75"/>
<path d="M89.1,652.7L89.8,665.5M90.1,654.7L89.3,670.7" stroke="#333" stroke-width="0.8" fill="none"/>
<polyline points="90.50,658.4 90.78,660.6 91.06,655.1 91.34,663.9 91.62,655.4 91.90,664.8 92.18,655.7 92.46,664.1 92.74,655.9 93.02,666.9 93.30,654.1 93.58,662.0 93.86,655.8 94.14,660.5 94.42,657.8" fill="none" stroke="#222" stroke-width="0.75"/>
<path d="M92.1,651.4L92.8,666.8M93.1,654.2L92.3,672.4" stroke="#333" stroke-width="0.8" fill="none"/>
<polyline points="93.50,658.6 93.78,659.9 94.06,656.9 94.34,660.3 94.62,656.1 94.90,662.9 95.18,656.3 95.46,660.4 95.74,656.4 96.02,660.3 96.30,656.0 96.58,661.2 96.86,657.6 97.14,660.4 97.42,658.4" fill="none" stroke="#222" stroke-width="0.75"/>
<path d="M95.1,654.6L95.8,662.2M96.1,656.2L95.3,664.6" stroke="#333" stroke-width="0.8" fill="none"/>
<polyline points="124.30,659.4 124.58,659.5 124.86,659.0 125.14,660.0 125.42,658.5 125.70,659.9 125.98,658.7 126.26,660.1 126.54,658.4 126.82,661.1 127.10,657.6 127.38,661.1 127.66,657.9 127.94,660.2 128.22,658.2 128.50,660.9 128.78,657.6 129.06,660.7 129.34,658.0 129.62,660.6 129.90,657.9 130.18,660.7 130.46,658.2 130.74,661.2 131.02,658.0 131.30,660.7 131.58,658.0 131.86,660.5 132.14,658.8 132.42,660.2 132.70,658.9 132.98,659.7 133.26,659.4" fill="none" stroke="#222" stroke-width="0.75"/>
<path d="M128.4,657.4L129.1,660.6M129.4,658.2L128.6,661.4" stroke="#333" stroke-width="0.8" fill="none"/>
<polyline points="223.50,666.5 223.78,667.3 224.06,665.3 224.34,669.1 224.62,665.1 224.90,670.6 225.18,664.6 225.46,669.3 225.74,663.1 226.02,671.0 226.30,664.6 226.58,668.2 226.86,664.5 227.14,668.0 227.42,666.3" fill="none" stroke="#222" stroke-width="0.75"/>
<path d="M225.1,662.5L225.8,669.5M226.1,664.1L225.3,671.5" stroke="#333" stroke-width="0.8" fill="none"/>
<polyline points="226.00,666.6 226.28,668.6 226.56,665.4 226.84,671.3 227.12,664.3 227.40,670.2 227.68,663.1 227.96,670.0 228.24,661.6 228.52,670.4 228.80,663.4 229.08,671.1 229.36,661.7 229.64,669.2 229.92,662.8 230.20,669.2 230.48,664.5 230.76,668.3" fill="none" stroke="#222" stroke-width="0.75"/>
<path d="M228.1,656.6L228.8,685.2M229.1,660.6L228.3,697.6" stroke="#333" stroke-width="0.8" fill="none"/>
<polyline points="230.00,666.4 230.28,667.0 230.56,665.2 230.84,669.4 231.12,664.7 231.40,669.1 231.68,662.5 231.96,671.0 232.24,662.5 232.52,668.8 232.80,663.5 233.08,668.6 233.36,664.4 233.64,668.1 233.92,666.1" fill="none" stroke="#222" stroke-width="0.75"/>
<path d="M231.6,662.4L232.3,670.0M232.6,664.0L231.8,672.4" stroke="#333" stroke-width="0.8" fill="none"/>
<polyline points="347.50,663.2 347.78,665.4 348.06,660.5 348.34,666.2 348.62,658.9 348.90,666.9 349.18,657.8 349.46,668.3 349.74,660.8 350.02,666.3 350.30,659.2 350.58,666.0 350.86,660.9 351.14,664.5 351.42,662.7" fill="none" stroke="#222" stroke-width="0.75"/>
<path d="M349.1,657.2L349.8,671.6M350.1,659.6L349.3,677.2" stroke="#333" stroke-width="0.8" fill="none"/>
<polyline points="351.05,663.0 351.33,664.2 351.61,658.8 351.89,669.4 352.17,656.6 352.45,673.7 352.73,657.1 353.01,674.1 353.29,655.3 353.57,668.9 353.85,657.3 354.13,667.6 354.41,655.3 354.69,667.2 354.97,658.8 355.25,666.1 355.53,662.9" fill="none" stroke="#222" stroke-width="0.75"/>
<path d="M352.9,647.0L353.6,679.8M353.9,653.4L353.1,691.0" stroke="#333" stroke-width="0.8" fill="none"/>
<polyline points="355.20,662.7 355.48,664.1 355.76,659.5 356.04,666.5 356.32,657.7 356.60,665.2 356.88,659.0 357.16,665.3 357.44,655.3 357.72,666.6 358.00,659.1 358.28,667.2 358.56,660.7 358.84,664.4 359.12,662.1" fill="none" stroke="#222" stroke-width="0.75"/>
<path d="M356.8,653.7L357.5,666.3M357.8,657.3L357.0,668.7" stroke="#333" stroke-width="0.8" fill="none"/>
<polyline points="466.50,662.1 466.78,663.5 467.06,659.6 467.34,664.3 467.62,659.1 467.90,667.0 468.18,659.2 468.46,667.0 468.74,659.0 469.02,665.4 469.30,659.7 469.58,665.8 469.86,659.0 470.14,663.0 470.42,661.8" fill="none" stroke="#222" stroke-width="0.75"/>
<path d="M468.1,656.1L468.8,666.9M469.1,658.5L468.3,670.1" stroke="#333" stroke-width="0.8" fill="none"/>
<polyline points="470.50,662.0 470.78,663.0 471.06,659.7 471.34,665.7 471.62,657.8 471.90,664.9 472.18,656.7 472.46,665.4 472.74,656.9 473.02,666.1 473.30,658.3 473.58,666.9 473.86,658.5 474.14,663.9 474.42,661.8" fill="none" stroke="#222" stroke-width="0.75"/>
<path d="M472.1,654.0L472.8,667.4M473.1,657.2L472.3,671.0" stroke="#333" stroke-width="0.8" fill="none"/>
<rect x="57.0" y="707.6" width="436.8" height="87.6" fill="none" stroke="#4a4a4a" stroke-width="1.4"/>
<text x="9.5" y="754.8" font-size="17.5" text-anchor="start" fill="#111" font-weight="bold" >I</text>
<path d="M88.2,718.4H85.7V785.4H88.2" fill="none" stroke="#333" stroke-width="1.1"/>
<text transform="translate(83.4,721.0) scale(0.9,1)" font-size="7.5" text-anchor="end" fill="#555">1</text>
<line x1="83.2" y1="735.1" x2="85.7" y2="735.1" stroke="#333" stroke-width="1.1"/>
<text transform="translate(83.4,737.7) scale(0.9,1)" font-size="7.5" text-anchor="end" fill="#555">0.5</text>
<line x1="83.2" y1="751.9" x2="85.7" y2="751.9" stroke="#333" stroke-width="1.1"/>
<text transform="translate(83.4,754.5) scale(0.9,1)" font-size="7.5" text-anchor="end" fill="#555">0</text>
<line x1="83.2" y1="768.6" x2="85.7" y2="768.6" stroke="#333" stroke-width="1.1"/>
<text transform="translate(83.4,771.2) scale(0.9,1)" font-size="7.5" text-anchor="end" fill="#555">-0.5</text>
<text transform="translate(83.4,788.0) scale(0.9,1)" font-size="7.5" text-anchor="end" fill="#555">-1</text>
<text x="88.7" y="725.6" font-size="7.3" text-anchor="start" fill="#555" font-weight="normal" >(mV)</text>
<line x1="446.4" y1="728.3" x2="475.3" y2="728.3" stroke="#222" stroke-width="1.3"/>
<text x="461.0" y="723.8" font-size="7.2" text-anchor="middle" fill="#333" font-weight="normal" >100 ms</text>
<text transform="translate(69.8,752.0) rotate(-90)" font-size="9.8" text-anchor="middle" fill="#1a1a1a">Olig2PC-Astro</text>
<polyline points="85.7,752.2 86.4,752.8 87.1,752.0 87.8,752.3 88.5,752.1 89.2,752.1 89.9,752.9 90.6,752.8 91.3,753.6 92.0,752.5 92.7,752.4 93.4,752.6 94.1,752.6 94.8,752.6 95.5,751.8 96.2,752.9 96.9,752.0 97.6,752.5 98.3,753.8 99.0,752.6 99.7,752.3 100.4,752.7 101.1,752.6 101.8,752.2 102.5,753.1 103.2,752.4 103.9,753.1 104.6,752.3 105.3,752.7 106.0,752.7 106.7,752.8 107.4,752.5 108.1,752.7 108.8,752.8 109.5,752.6 110.2,752.7 110.9,753.2 111.6,753.6 112.3,753.2 113.0,753.2 113.7,753.7 114.4,753.0 115.1,753.0 115.8,753.4 116.5,753.9 117.2,753.5 117.9,752.9 118.6,752.7 119.3,753.4 120.0,753.2 120.7,752.8 121.4,753.4 122.1,752.3 122.8,752.6 123.5,753.6 124.2,752.7 124.9,752.9 125.6,752.2 126.3,753.5 127.0,752.7 127.7,753.8 128.4,753.3 129.1,753.0 129.8,753.6 130.5,753.3 131.2,753.7 131.9,752.5 132.6,752.8 133.3,753.3 134.0,753.0 134.7,752.9 135.4,753.0 136.1,753.0 136.8,753.1 137.5,753.6 138.2,753.1 138.9,753.2 139.6,753.1 140.3,752.8 141.0,752.3 141.7,752.6 142.4,753.1 143.1,753.6 143.8,753.7 144.5,753.2 145.2,752.5 145.9,752.9 146.6,753.7 147.3,752.5 148.0,753.5 148.7,753.2 149.4,753.1 150.1,753.6 150.8,753.6 151.5,753.3 152.2,752.8 152.9,752.7 153.6,753.7 154.3,753.9 155.0,753.4 155.7,753.3 156.4,753.2 157.1,753.3 157.8,753.3 158.5,753.5 159.2,753.7 159.9,752.7 160.6,753.8 161.3,753.8 162.0,753.8 162.7,753.6 163.4,753.3 164.1,753.8 164.8,753.7 165.5,753.3 166.2,752.8 166.9,753.3 167.6,753.6 168.3,753.3 169.0,753.4 169.7,753.9 170.4,753.5 171.1,753.8 171.8,753.7 172.5,753.4 173.2,754.2 173.9,753.7 174.6,753.6 175.3,753.5 176.0,753.8 176.7,753.4 177.4,753.2 178.1,753.6 178.8,753.6 179.5,754.1 180.2,753.7 180.9,753.7 181.6,754.1 182.3,753.2 183.0,753.3 183.7,754.1 184.4,753.7 185.1,753.9 185.8,754.0 186.5,753.5 187.2,753.9 187.9,754.0 188.6,753.7 189.3,753.8 190.0,753.1 190.7,754.0 191.4,754.7 192.1,753.1 192.8,753.4 193.5,754.0 194.2,753.6 194.9,753.2 195.6,753.6 196.3,754.0 197.0,753.7 197.7,753.4 198.4,754.3 199.1,753.3 199.8,753.6 200.5,754.2 201.2,753.7 201.9,753.9 202.6,754.0 203.3,753.5 204.0,753.5 204.7,753.5 205.4,754.0 206.1,754.2 206.8,754.5 207.5,753.5 208.2,753.6 208.9,753.8 209.6,753.6 210.3,753.1 211.0,754.2 211.7,753.8 212.4,753.6 213.1,754.5 213.8,753.6 214.5,753.9 215.2,753.7 215.9,753.4 216.6,753.8 217.3,753.8 218.0,753.6 218.7,753.9 219.4,753.9 220.1,753.3 220.8,754.0 221.5,753.9 222.2,753.8 222.9,753.2 223.6,753.7 224.3,753.4 225.0,753.4 225.7,753.2 226.4,753.3 227.1,753.6 227.8,753.1 228.5,753.8 229.2,753.5 229.9,753.7 230.6,754.7 231.3,753.6 232.0,754.0 232.7,753.4 233.4,753.1 234.1,753.0 234.8,753.7 235.5,753.1 236.2,752.8 236.9,752.8 237.6,753.1 238.3,753.4 239.0,753.5 239.7,752.9 240.4,753.2 241.1,753.6 241.8,753.7 242.5,753.4 243.2,753.2 243.9,752.7 244.6,753.3 245.3,752.8 246.0,753.2 246.7,753.1 247.4,752.5 248.1,753.2 248.8,752.9 249.5,753.0 250.2,752.9 250.9,753.0 251.6,752.6 252.3,752.8 253.0,752.9 253.7,753.3 254.4,753.9 255.1,753.0 255.8,752.7 256.5,753.0 257.2,752.5 257.9,753.0 258.6,753.1 259.3,753.5 260.0,752.9 260.7,753.1 261.4,753.9 262.1,752.7 262.8,752.6 263.5,753.7 264.2,753.2 264.9,753.0 265.6,753.0 266.3,753.0 267.0,753.3 267.7,752.8 268.4,753.2 269.1,752.8 269.8,752.8 270.5,753.5 271.2,753.0 271.9,752.5 272.6,752.4 273.3,753.2 274.0,753.4 274.7,752.8 275.4,752.9 276.1,752.7 276.8,753.0 277.5,752.7 278.2,752.6 278.9,753.0 279.6,753.0 280.3,753.3 281.0,753.7 281.7,753.2 282.4,752.8 283.1,753.7 283.8,753.4 284.5,753.2 285.2,752.8 285.9,753.1 286.6,752.9 287.3,752.9 288.0,752.9 288.7,753.2 289.4,753.2 290.1,752.4 290.8,753.3 291.5,752.9 292.2,752.9 292.9,753.9 293.6,753.2 294.3,753.7 295.0,753.4 295.7,752.9 296.4,753.4 297.1,752.7 297.8,752.8 298.5,753.4 299.2,754.3 299.9,753.2 300.6,753.2 301.3,753.1 302.0,753.1 302.7,753.5 303.4,753.6 304.1,753.1 304.8,753.5 305.5,753.2 306.2,752.7 306.9,753.4 307.6,752.7 308.3,753.1 309.0,753.5 309.7,752.7 310.4,752.5 311.1,753.5 311.8,752.6 312.5,753.9 313.2,753.8 313.9,753.1 314.6,753.2 315.3,753.4 316.0,753.5 316.7,753.8 317.4,753.5 318.1,753.4 318.8,753.7 319.5,753.3 320.2,753.5 320.9,754.4 321.6,753.3 322.3,753.6 323.0,753.2 323.7,754.3 324.4,753.2 325.1,753.2 325.8,753.8 326.5,753.9 327.2,754.0 327.9,753.8 328.6,753.4 329.3,753.8 330.0,753.3 330.7,753.1 331.4,753.6 332.1,753.7 332.8,753.5 333.5,754.0 334.2,753.9 334.9,754.1 335.6,753.8 336.3,753.6 337.0,753.4 337.7,753.0 338.4,753.7 339.1,754.4 339.8,753.6 340.5,753.5 341.2,753.3 341.9,753.9 342.6,753.1 343.3,754.2 344.0,753.3 344.7,753.2 345.4,753.7 346.1,753.7 346.8,753.9 347.5,753.5 348.2,753.9 348.9,753.6 349.6,754.7 350.3,754.1 351.0,754.2 351.7,754.2 352.4,753.7 353.1,753.9 353.8,753.9 354.5,753.8 355.2,754.3 355.9,754.0 356.6,754.3 357.3,753.5 358.0,754.1 358.7,753.8 359.4,754.5 360.1,752.8 360.8,753.6 361.5,754.8 362.2,754.0 362.9,753.3 363.6,753.8 364.3,753.6 365.0,753.4 365.7,753.3 366.4,754.3 367.1,753.9 367.8,753.9 368.5,754.2 369.2,753.5 369.9,753.6 370.6,754.0 371.3,754.5 372.0,753.7 372.7,753.8 373.4,753.9 374.1,753.5 374.8,753.6 375.5,753.7 376.2,753.5 376.9,753.7 377.6,753.5 378.3,753.2 379.0,753.7 379.7,753.5 380.4,753.8 381.1,753.1 381.8,753.7 382.5,753.7 383.2,753.7 383.9,753.8 384.6,753.1 385.3,753.4 386.0,753.4 386.7,754.6 387.4,753.5 388.1,753.2 388.8,753.4 389.5,753.4 390.2,753.7 390.9,753.6 391.6,753.7 392.3,753.7 393.0,753.2 393.7,753.5 394.4,753.2 395.1,753.1 395.8,752.9 396.5,753.7 397.2,752.9 397.9,753.3 398.6,753.5 399.3,753.6 400.0,752.9 400.7,753.3 401.4,752.7 402.1,753.2 402.8,753.2 403.5,754.0 404.2,753.2 404.9,753.4 405.6,753.1 406.3,753.6 407.0,753.4 407.7,753.4 408.4,752.9 409.1,753.6 409.8,752.8 410.5,753.3 411.2,753.6 411.9,753.0 412.6,752.3 413.3,753.0 414.0,753.0 414.7,752.6 415.4,752.7 416.1,752.8 416.8,753.3 417.5,753.4 418.2,753.6 418.9,753.1 419.6,753.0 420.3,753.2 421.0,752.7 421.7,752.9 422.4,753.6 423.1,753.1 423.8,752.9 424.5,753.3 425.2,753.0 425.9,753.0 426.6,752.9 427.3,752.5 428.0,753.3 428.7,753.2 429.4,753.4 430.1,752.7 430.8,753.0 431.5,752.9 432.2,752.8 432.9,752.7 433.6,752.9 434.3,752.6 435.0,752.9 435.7,753.1 436.4,752.7 437.1,753.4 437.8,752.4 438.5,752.4 439.2,752.7 439.9,752.2 440.6,753.3 441.3,753.1 442.0,752.3 442.7,753.0 443.4,752.8 444.1,753.4 444.8,753.2 445.5,753.4 446.2,753.3 446.9,753.0 447.6,753.4 448.3,754.0 449.0,752.8 449.7,752.5 450.4,753.2 451.1,752.4 451.8,752.8 452.5,753.3 453.2,753.5 453.9,753.3 454.6,753.4 455.3,753.6 456.0,752.8 456.7,753.1 457.4,752.9 458.1,753.0 458.8,753.8 459.5,753.0 460.2,753.2 460.9,753.5 461.6,753.2 462.3,752.8 463.0,753.1 463.7,753.5 464.4,753.8 465.1,753.4 465.8,753.4 466.5,754.1 467.2,752.9 467.9,752.9 468.6,752.6 469.3,753.4 470.0,753.6 470.7,753.6 471.4,753.9 472.1,753.0 472.8,753.7 473.5,753.5 474.2,753.7 474.9,753.3 475.6,753.9 476.3,753.3 477.0,753.7" fill="none" stroke="#1a1a1a" stroke-width="1.2" stroke-linejoin="round"/>
<polyline points="103.00,752.5 103.28,753.3 103.56,751.8 103.84,755.9 104.12,751.6 104.40,755.3 104.68,750.1 104.96,755.5 105.24,750.9 105.52,756.7 105.80,751.1 106.08,758.0 106.36,749.7 106.64,754.4 106.92,751.0 107.20,755.6 107.48,751.7 107.76,753.8" fill="none" stroke="#222" stroke-width="0.75"/>
<path d="M105.1,747.5L105.8,758.5M106.1,749.5L105.3,762.5" stroke="#333" stroke-width="0.8" fill="none"/>
<polyline points="107.50,753.0 107.78,753.6 108.06,750.3 108.34,755.5 108.62,749.4 108.90,756.4 109.18,746.6 109.46,756.4 109.74,747.6 110.02,757.5 110.30,746.7 110.58,756.4 110.86,745.8 111.14,755.0 111.42,747.8 111.70,754.4 111.98,750.4 112.26,753.6" fill="none" stroke="#222" stroke-width="0.75"/>
<path d="M109.6,744.0L110.3,756.6M110.6,747.6L109.8,759.0" stroke="#333" stroke-width="0.8" fill="none"/>
<polyline points="112.50,753.0 112.78,754.8 113.06,750.6 113.34,757.4 113.62,750.7 113.90,757.7 114.18,750.2 114.46,758.7 114.74,749.0 115.02,756.0 115.30,748.6 115.58,759.4 115.86,749.0 116.14,759.3 116.42,750.9 116.70,755.2 116.98,752.0 117.26,754.2" fill="none" stroke="#222" stroke-width="0.75"/>
<path d="M114.6,746.0L115.3,758.4M115.6,748.8L114.8,762.0" stroke="#333" stroke-width="0.8" fill="none"/>
<polyline points="117.50,753.0 117.78,753.7 118.06,751.8 118.34,755.2 118.62,751.5 118.90,756.3 119.18,749.6 119.46,755.8 119.74,748.7 120.02,755.0 120.30,750.8 120.58,755.2 120.86,751.2 121.14,754.9 121.42,750.1 121.70,754.7 121.98,751.8 122.26,753.7" fill="none" stroke="#222" stroke-width="0.75"/>
<path d="M119.6,748.0L120.3,756.0M120.6,750.0L119.8,758.0" stroke="#333" stroke-width="0.8" fill="none"/>
<polyline points="122.00,753.0 122.28,753.6 122.56,752.5 122.84,753.8 123.12,752.2 123.40,754.5 123.68,751.3 123.96,754.7 124.24,752.2 124.52,754.2 124.80,752.0 125.08,753.8 125.36,751.8 125.64,753.3 125.92,752.9" fill="none" stroke="#222" stroke-width="0.75"/>
<path d="M123.6,751.0L124.3,754.8M124.6,751.8L123.8,756.0" stroke="#333" stroke-width="0.8" fill="none"/>
<polyline points="230.50,753.4 230.78,754.2 231.06,753.1 231.34,754.7 231.62,752.5 231.90,754.4 232.18,752.7 232.46,756.2 232.74,752.8 233.02,755.3 233.30,752.6 233.58,755.3 233.86,752.9 234.14,754.4 234.42,752.3 234.70,755.0 234.98,752.9 235.26,753.8" fill="none" stroke="#222" stroke-width="0.75"/>
<path d="M232.6,751.9L233.3,756.4M233.6,752.5L232.8,758.4" stroke="#333" stroke-width="0.8" fill="none"/>
<polyline points="243.50,753.2 243.78,754.1 244.06,752.8 244.34,755.1 244.62,751.8 244.90,755.5 245.18,752.2 245.46,757.6 245.74,751.7 246.02,754.9 246.30,752.0 246.58,756.6 246.86,752.5 247.14,755.5 247.42,752.0 247.70,755.8 247.98,752.6 248.26,754.2" fill="none" stroke="#222" stroke-width="0.75"/>
<path d="M245.6,751.2L246.3,757.4M246.6,752.0L245.8,760.2" stroke="#333" stroke-width="0.8" fill="none"/>
<polyline points="250.00,753.1 250.28,753.5 250.56,751.3 250.84,754.1 251.12,750.2 251.40,754.3 251.68,750.6 251.96,754.5 252.24,749.7 252.52,754.5 252.80,750.7 253.08,754.6 253.36,749.9 253.64,754.8 253.92,750.1 254.20,755.8 254.48,749.9 254.76,755.2 255.04,751.6 255.32,754.0 255.60,752.5 255.88,753.4" fill="none" stroke="#222" stroke-width="0.75"/>
<path d="M252.6,747.1L253.3,754.9M253.6,749.5L252.8,756.1" stroke="#333" stroke-width="0.8" fill="none"/>
<polyline points="255.50,753.1 255.78,753.4 256.06,752.7 256.34,753.8 256.62,752.1 256.90,754.4 257.18,750.9 257.46,755.1 257.74,751.8 258.02,754.5 258.30,752.0 258.58,755.4 258.86,751.7 259.14,754.9 259.42,751.5 259.70,754.5 259.98,752.7 260.26,753.4" fill="none" stroke="#222" stroke-width="0.75"/>
<path d="M257.6,750.1L258.3,754.9M258.6,751.3L257.8,756.1" stroke="#333" stroke-width="0.8" fill="none"/>
<polyline points="362.50,753.8 362.78,753.9 363.06,752.9 363.34,754.3 363.62,752.4 363.90,754.7 364.18,753.0 364.46,754.8 364.74,752.6 365.02,754.5 365.30,752.7 365.58,755.2 365.86,752.8 366.14,754.9 366.42,752.2 366.70,755.1 366.98,752.7 367.26,755.2 367.54,752.6 367.82,755.1 368.10,752.3 368.38,754.3 368.66,753.2 368.94,754.1 369.22,753.4 369.50,753.8" fill="none" stroke="#222" stroke-width="0.75"/>
<path d="M365.6,750.8L366.3,755.0M366.6,752.0L365.8,755.8" stroke="#333" stroke-width="0.8" fill="none"/>
<polyline points="369.00,753.7 369.28,754.1 369.56,753.2 369.84,754.3 370.12,752.7 370.40,754.5 370.68,752.8 370.96,754.4 371.24,751.7 371.52,755.3 371.80,751.2 372.08,756.1 372.36,752.1 372.64,755.6 372.92,750.8 373.20,754.9 373.48,751.3 373.76,755.6 374.04,750.9 374.32,755.8 374.60,752.3 374.88,755.3 375.16,752.7 375.44,754.8 375.72,752.6 376.00,754.2 376.28,753.0 376.56,754.0 376.84,753.5" fill="none" stroke="#222" stroke-width="0.75"/>
<path d="M372.6,749.7L373.3,755.5M373.6,751.3L372.8,756.7" stroke="#333" stroke-width="0.8" fill="none"/>
<polyline points="378.00,753.6 378.28,753.8 378.56,753.1 378.84,754.5 379.12,752.9 379.40,755.1 379.68,752.7 379.96,754.5 380.24,752.5 380.52,755.1 380.80,752.7 381.08,755.4 381.36,752.0 381.64,755.3 381.92,752.1 382.20,754.4 382.48,752.6 382.76,754.7 383.04,753.1 383.32,754.3 383.60,753.3 383.88,753.7" fill="none" stroke="#222" stroke-width="0.75"/>
<path d="M380.6,751.6L381.3,755.4M381.6,752.4L380.8,756.6" stroke="#333" stroke-width="0.8" fill="none"/>
<text x="7.0" y="284.6" font-size="17.5" text-anchor="start" fill="#111" font-weight="bold" >C</text>
<text x="53.0" y="281.8" font-size="13.6" text-anchor="start" fill="#222" font-weight="normal" >Treadmills</text>
<g stroke="#2a2a2a" stroke-width="0.9" stroke-linejoin="round">
<path d="M173.6,319.4 L173.6,322.5 L160.5,342.1 L156,342.1 L166,331.2 Z" fill="#a0703a"/>
<path d="M58.1,331.2 L166,331.2 L160.5,342.1 L60.2,342.1 Z" fill="#c8955a"/>
<path d="M58.1,331.2 L66.8,319.4 L173.6,319.4 L166,331.2 Z" fill="#2f8ad8"/>
<path d="M134.9,342.1 L144.2,342.1 L144.2,369.5 L134.9,376.6 Z" fill="#8c5a2c"/>
<rect x="88.7" y="331.2" width="46.2" height="45.4" fill="#a28a74"/>
<rect x="68.2" y="334.6" width="8.7" height="15.9" fill="#a89078"/>
</g>
<circle cx="72.6" cy="338.8" r="1.6" fill="#fff" stroke="#333" stroke-width="0.8"/>
<line x1="73.5" y1="347.2" x2="98.8" y2="357.3" stroke="#d8c8b0" stroke-width="1.6"/>
<circle cx="98.8" cy="357.3" r="1.2" fill="#e8dccb"/>
<path d="M72.5,323.8 L104,294.5 L107.5,297.5 L76.8,325.5 Z" fill="#e6e6e6" stroke="#bbb" stroke-width="0.5"/>
<line x1="106" y1="296" x2="116" y2="303" stroke="#d9d9d9" stroke-width="3"/>
<circle cx="105.6" cy="295.8" r="3.3" fill="#fff" stroke="#222" stroke-width="1.6"/>
<path d="M101.1,320.8 C101.5,317 102,314.5 103.4,313 C105,311 107,309.6 109.2,308.4 C111.5,306.8 113.5,305 115,303.7 L116.3,301.2 L117.6,302.4 C119.5,301.8 122.5,301.6 125.2,302.4 C123.5,304 121.5,305.5 120.3,306.6 C119,308 118,309.8 117.4,311.3 L118.4,313.8 L117.3,314.3 L115.8,313 C114.5,314.2 113,315 112.1,316 L111.6,320.8 Z" fill="#262628"/>
<line x1="96" y1="329" x2="101" y2="322" stroke="#555" stroke-width="0.6"/>
<text x="226.0" y="284.8" font-size="17.5" text-anchor="start" fill="#111" font-weight="bold" >D</text>
<defs><filter id="bl" x="-10%" y="-10%" width="120%" height="120%"><feGaussianBlur stdDeviation="1.6"/></filter><filter id="bl2"><feGaussianBlur stdDeviation="0.7"/></filter><clipPath id="phc"><rect x="278.2" y="288.3" width="99.7" height="104.1"/></clipPath></defs>
<g clip-path="url(#phc)">
<rect x="278.2" y="288.3" width="99.7" height="104.1" fill="#cdc4b5"/>
<rect x="278.2" y="305.7" width="99.7" height="1.0" fill="#bdb3a4" opacity="0.22"/>
<rect x="278.2" y="338.3" width="99.7" height="0.6" fill="#bdb3a4" opacity="0.22"/>
<rect x="278.2" y="372.5" width="99.7" height="0.8" fill="#d6cdbf" opacity="0.22"/>
<rect x="278.2" y="370.5" width="99.7" height="0.4" fill="#bdb3a4" opacity="0.22"/>
<rect x="278.2" y="295.7" width="99.7" height="1.0" fill="#d6cdbf" opacity="0.22"/>
<rect x="278.2" y="384.3" width="99.7" height="1.0" fill="#bdb3a4" opacity="0.22"/>
<rect x="278.2" y="392.2" width="99.7" height="1.0" fill="#bdb3a4" opacity="0.22"/>
<rect x="278.2" y="352.6" width="99.7" height="0.4" fill="#bdb3a4" opacity="0.22"/>
<rect x="278.2" y="344.7" width="99.7" height="1.0" fill="#bdb3a4" opacity="0.22"/>
<rect x="278.2" y="290.9" width="99.7" height="1.0" fill="#d6cdbf" opacity="0.22"/>
<rect x="278.2" y="301.5" width="99.7" height="1.1" fill="#bdb3a4" opacity="0.22"/>
<rect x="278.2" y="305.3" width="99.7" height="1.0" fill="#bdb3a4" opacity="0.22"/>
<rect x="278.2" y="338.9" width="99.7" height="0.5" fill="#d6cdbf" opacity="0.22"/>
<rect x="278.2" y="337.4" width="99.7" height="1.1" fill="#d6cdbf" opacity="0.22"/>
<rect x="278.2" y="369.6" width="99.7" height="0.6" fill="#d6cdbf" opacity="0.22"/>
<rect x="278.2" y="301.2" width="99.7" height="0.8" fill="#bdb3a4" opacity="0.22"/>
<rect x="278.2" y="309.4" width="99.7" height="1.1" fill="#bdb3a4" opacity="0.22"/>
<rect x="278.2" y="318.9" width="99.7" height="1.2" fill="#bdb3a4" opacity="0.22"/>
<rect x="278.2" y="321.6" width="99.7" height="0.8" fill="#bdb3a4" opacity="0.22"/>
<rect x="278.2" y="291.3" width="99.7" height="0.5" fill="#bdb3a4" opacity="0.22"/>
<rect x="278.2" y="288.8" width="99.7" height="0.5" fill="#d6cdbf" opacity="0.22"/>
<rect x="278.2" y="347.9" width="99.7" height="0.7" fill="#d6cdbf" opacity="0.22"/>
<rect x="278.2" y="307.3" width="99.7" height="0.5" fill="#bdb3a4" opacity="0.22"/>
<rect x="278.2" y="375.2" width="99.7" height="0.7" fill="#bdb3a4" opacity="0.22"/>
<rect x="278.2" y="314.1" width="99.7" height="0.5" fill="#d6cdbf" opacity="0.22"/>
<rect x="278.2" y="369.3" width="99.7" height="0.7" fill="#d6cdbf" opacity="0.22"/>
<rect x="278.2" y="358.8" width="99.7" height="1.1" fill="#d6cdbf" opacity="0.22"/>
<rect x="278.2" y="330.8" width="99.7" height="1.2" fill="#d6cdbf" opacity="0.22"/>
<rect x="278.2" y="380.3" width="99.7" height="0.8" fill="#bdb3a4" opacity="0.22"/>
<rect x="278.2" y="357.9" width="99.7" height="1.1" fill="#d6cdbf" opacity="0.22"/>
<rect x="278.2" y="305.4" width="99.7" height="0.5" fill="#bdb3a4" opacity="0.22"/>
<rect x="278.2" y="369.0" width="99.7" height="0.8" fill="#bdb3a4" opacity="0.22"/>
<rect x="278.2" y="293.9" width="99.7" height="0.6" fill="#bdb3a4" opacity="0.22"/>
<rect x="278.2" y="292.1" width="99.7" height="0.6" fill="#bdb3a4" opacity="0.22"/>
<rect x="278.2" y="295.7" width="99.7" height="0.7" fill="#d6cdbf" opacity="0.22"/>
<rect x="278.2" y="390.8" width="99.7" height="1.0" fill="#bdb3a4" opacity="0.22"/>
<rect x="278.2" y="293.6" width="99.7" height="0.5" fill="#bdb3a4" opacity="0.22"/>
<rect x="278.2" y="291.4" width="99.7" height="0.6" fill="#bdb3a4" opacity="0.22"/>
<rect x="278.2" y="371.2" width="99.7" height="1.1" fill="#bdb3a4" opacity="0.22"/>
<rect x="278.2" y="338.9" width="99.7" height="1.1" fill="#bdb3a4" opacity="0.22"/>
<g filter="url(#bl2)">
<path d="M276,320.5 C290,320 300,319.5 312,318.5 L313,328 C300,329 290,329.5 276,330 Z" fill="#a39689"/>
<path d="M276,322 C290,321.5 300,321 312,320" stroke="#bcb1a5" stroke-width="2" fill="none"/>
<clipPath id="bodyc"><path d="M310.3,330 C310.5,323 313,316 318,311 C325,305 334,302 351,301.3 L380,299 L380,360 L343,359 C336,358.5 330,357.5 326.6,355.7 C318,351 311.5,345 310.3,338 Z"/></clipPath>
<path d="M310.3,330 C310.5,323 313,316 318,311 C325,305 334,302 351,301.3 L380,299 L380,360 L343,359 C336,358.5 330,357.5 326.6,355.7 C318,351 311.5,345 310.3,338 Z" fill="#3b3b40"/>
<g clip-path="url(#bodyc)">
<ellipse cx="332.7" cy="332.3" rx="1.6" ry="1.3" fill="#55555c" opacity="0.6" transform="rotate(-7 332.7 332.3)"/>
<ellipse cx="321.1" cy="341.9" rx="1.5" ry="0.8" fill="#55555c" opacity="0.6" transform="rotate(21 321.1 341.9)"/>
<ellipse cx="350.4" cy="317.6" rx="1.8" ry="1.5" fill="#55555c" opacity="0.6" transform="rotate(-22 350.4 317.6)"/>
<ellipse cx="319.1" cy="309.0" rx="1.1" ry="0.9" fill="#55555c" opacity="0.6" transform="rotate(-26 319.1 309.0)"/>
<ellipse cx="320.6" cy="318.9" rx="1.6" ry="1.4" fill="#2c2c30" opacity="0.6" transform="rotate(-0 320.6 318.9)"/>
<ellipse cx="327.1" cy="312.8" rx="1.4" ry="0.9" fill="#4a4a50" opacity="0.6" transform="rotate(15 327.1 312.8)"/>
<ellipse cx="361.5" cy="336.0" rx="2.0" ry="1.2" fill="#55555c" opacity="0.6" transform="rotate(17 361.5 336.0)"/>
<ellipse cx="313.5" cy="328.6" rx="1.1" ry="1.3" fill="#55555c" opacity="0.6" transform="rotate(21 313.5 328.6)"/>
<ellipse cx="327.9" cy="355.1" rx="2.2" ry="1.2" fill="#55555c" opacity="0.6" transform="rotate(-7 327.9 355.1)"/>
<ellipse cx="332.8" cy="351.7" rx="1.6" ry="1.0" fill="#4a4a50" opacity="0.6" transform="rotate(-1 332.8 351.7)"/>
<ellipse cx="349.7" cy="332.9" rx="1.1" ry="1.1" fill="#2c2c30" opacity="0.6" transform="rotate(28 349.7 332.9)"/>
<ellipse cx="332.9" cy="341.1" rx="2.1" ry="1.1" fill="#55555c" opacity="0.6" transform="rotate(7 332.9 341.1)"/>
<ellipse cx="333.8" cy="314.7" rx="1.1" ry="1.2" fill="#2c2c30" opacity="0.6" transform="rotate(-24 333.8 314.7)"/>
<ellipse cx="317.9" cy="307.9" rx="2.6" ry="1.3" fill="#2c2c30" opacity="0.6" transform="rotate(0 317.9 307.9)"/>
<ellipse cx="373.6" cy="340.0" rx="2.4" ry="1.0" fill="#4a4a50" opacity="0.6" transform="rotate(-7 373.6 340.0)"/>
<ellipse cx="338.7" cy="316.0" rx="1.1" ry="0.9" fill="#55555c" opacity="0.6" transform="rotate(-13 338.7 316.0)"/>
<ellipse cx="350.7" cy="325.4" rx="1.9" ry="1.3" fill="#2c2c30" opacity="0.6" transform="rotate(-7 350.7 325.4)"/>
<ellipse cx="344.2" cy="337.5" rx="2.9" ry="0.6" fill="#2c2c30" opacity="0.6" transform="rotate(-20 344.2 337.5)"/>
<ellipse cx="336.9" cy="336.0" rx="1.4" ry="0.9" fill="#4a4a50" opacity="0.6" transform="rotate(16 336.9 336.0)"/>
<ellipse cx="355.8" cy="349.5" rx="2.4" ry="1.2" fill="#55555c" opacity="0.6" transform="rotate(-1 355.8 349.5)"/>
<ellipse cx="344.9" cy="320.2" rx="1.8" ry="1.0" fill="#4a4a50" opacity="0.6" transform="rotate(29 344.9 320.2)"/>
<ellipse cx="313.4" cy="320.6" rx="1.6" ry="0.9" fill="#55555c" opacity="0.6" transform="rotate(-25 313.4 320.6)"/>
<ellipse cx="324.2" cy="331.7" rx="2.2" ry="0.9" fill="#4a4a50" opacity="0.6" transform="rotate(-2 324.2 331.7)"/>
<ellipse cx="319.9" cy="354.7" rx="2.4" ry="0.7" fill="#2c2c30" opacity="0.6" transform="rotate(-8 319.9 354.7)"/>
<ellipse cx="350.2" cy="314.0" rx="1.2" ry="0.5" fill="#4a4a50" opacity="0.6" transform="rotate(-15 350.2 314.0)"/>
<ellipse cx="367.1" cy="312.1" rx="2.4" ry="0.7" fill="#4a4a50" opacity="0.6" transform="rotate(11 367.1 312.1)"/>
<ellipse cx="358.8" cy="312.3" rx="1.8" ry="0.9" fill="#2c2c30" opacity="0.6" transform="rotate(7 358.8 312.3)"/>
<ellipse cx="331.0" cy="313.2" rx="1.8" ry="0.8" fill="#55555c" opacity="0.6" transform="rotate(29 331.0 313.2)"/>
<ellipse cx="326.8" cy="322.6" rx="2.3" ry="1.4" fill="#2c2c30" opacity="0.6" transform="rotate(-29 326.8 322.6)"/>
<ellipse cx="345.1" cy="306.1" rx="2.2" ry="1.2" fill="#55555c" opacity="0.6" transform="rotate(29 345.1 306.1)"/>
<ellipse cx="373.3" cy="311.8" rx="2.9" ry="0.7" fill="#2c2c30" opacity="0.6" transform="rotate(24 373.3 311.8)"/>
<ellipse cx="336.7" cy="311.2" rx="2.6" ry="1.3" fill="#4a4a50" opacity="0.6" transform="rotate(20 336.7 311.2)"/>
<ellipse cx="332.8" cy="326.1" rx="2.8" ry="0.7" fill="#4a4a50" opacity="0.6" transform="rotate(18 332.8 326.1)"/>
<ellipse cx="367.0" cy="353.0" rx="2.8" ry="0.5" fill="#4a4a50" opacity="0.6" transform="rotate(-26 367.0 353.0)"/>
<ellipse cx="340.9" cy="348.1" rx="3.0" ry="1.2" fill="#55555c" opacity="0.6" transform="rotate(-26 340.9 348.1)"/>
<ellipse cx="365.2" cy="336.1" rx="2.2" ry="1.0" fill="#4a4a50" opacity="0.6" transform="rotate(-10 365.2 336.1)"/>
<ellipse cx="330.3" cy="322.7" rx="1.6" ry="1.1" fill="#55555c" opacity="0.6" transform="rotate(10 330.3 322.7)"/>
<ellipse cx="324.9" cy="309.2" rx="2.7" ry="0.9" fill="#2c2c30" opacity="0.6" transform="rotate(-26 324.9 309.2)"/>
<ellipse cx="315.4" cy="330.2" rx="2.4" ry="1.2" fill="#55555c" opacity="0.6" transform="rotate(-28 315.4 330.2)"/>
<ellipse cx="327.9" cy="323.0" rx="1.5" ry="0.7" fill="#55555c" opacity="0.6" transform="rotate(14 327.9 323.0)"/>
<ellipse cx="346.6" cy="308.2" rx="2.7" ry="0.7" fill="#55555c" opacity="0.6" transform="rotate(14 346.6 308.2)"/>
<ellipse cx="351.8" cy="337.5" rx="2.3" ry="0.5" fill="#2c2c30" opacity="0.6" transform="rotate(-0 351.8 337.5)"/>
<ellipse cx="323.4" cy="349.1" rx="2.6" ry="1.4" fill="#4a4a50" opacity="0.6" transform="rotate(-27 323.4 349.1)"/>
<ellipse cx="356.6" cy="338.3" rx="2.2" ry="1.1" fill="#55555c" opacity="0.6" transform="rotate(28 356.6 338.3)"/>
<ellipse cx="338.0" cy="353.9" rx="2.9" ry="1.3" fill="#55555c" opacity="0.6" transform="rotate(25 338.0 353.9)"/>
<ellipse cx="324.1" cy="318.1" rx="1.1" ry="0.9" fill="#4a4a50" opacity="0.6" transform="rotate(-20 324.1 318.1)"/>
<ellipse cx="372.6" cy="332.4" rx="2.8" ry="0.7" fill="#4a4a50" opacity="0.6" transform="rotate(3 372.6 332.4)"/>
<ellipse cx="362.6" cy="343.2" rx="2.8" ry="0.9" fill="#55555c" opacity="0.6" transform="rotate(-16 362.6 343.2)"/>
<ellipse cx="351.4" cy="322.7" rx="2.3" ry="1.4" fill="#4a4a50" opacity="0.6" transform="rotate(-22 351.4 322.7)"/>
<ellipse cx="314.7" cy="326.4" rx="2.2" ry="0.5" fill="#4a4a50" opacity="0.6" transform="rotate(14 314.7 326.4)"/>
<ellipse cx="360.5" cy="315.3" rx="2.1" ry="0.9" fill="#4a4a50" opacity="0.6" transform="rotate(-12 360.5 315.3)"/>
<ellipse cx="323.3" cy="339.1" rx="2.2" ry="1.0" fill="#2c2c30" opacity="0.6" transform="rotate(15 323.3 339.1)"/>
<ellipse cx="354.6" cy="317.4" rx="1.9" ry="0.9" fill="#2c2c30" opacity="0.6" transform="rotate(-1 354.6 317.4)"/>
<ellipse cx="315.6" cy="349.5" rx="1.4" ry="1.3" fill="#2c2c30" opacity="0.6" transform="rotate(5 315.6 349.5)"/>
<ellipse cx="364.4" cy="343.0" rx="2.5" ry="1.5" fill="#2c2c30" opacity="0.6" transform="rotate(-21 364.4 343.0)"/>
<ellipse cx="315.1" cy="345.2" rx="2.7" ry="0.8" fill="#2c2c30" opacity="0.6" transform="rotate(-18 315.1 345.2)"/>
<ellipse cx="327.5" cy="342.9" rx="2.6" ry="1.0" fill="#55555c" opacity="0.6" transform="rotate(-28 327.5 342.9)"/>
<ellipse cx="371.6" cy="311.0" rx="1.7" ry="0.9" fill="#4a4a50" opacity="0.6" transform="rotate(8 371.6 311.0)"/>
<ellipse cx="351.3" cy="340.7" rx="2.7" ry="1.3" fill="#2c2c30" opacity="0.6" transform="rotate(9 351.3 340.7)"/>
<ellipse cx="360.0" cy="328.3" rx="1.2" ry="1.4" fill="#4a4a50" opacity="0.6" transform="rotate(21 360.0 328.3)"/>
<ellipse cx="370.0" cy="308.1" rx="1.6" ry="1.1" fill="#55555c" opacity="0.6" transform="rotate(15 370.0 308.1)"/>
<ellipse cx="372.9" cy="309.5" rx="2.2" ry="1.1" fill="#4a4a50" opacity="0.6" transform="rotate(-18 372.9 309.5)"/>
<ellipse cx="344.8" cy="341.8" rx="1.4" ry="1.2" fill="#2c2c30" opacity="0.6" transform="rotate(25 344.8 341.8)"/>
<ellipse cx="346.4" cy="304.5" rx="2.7" ry="0.8" fill="#2c2c30" opacity="0.6" transform="rotate(12 346.4 304.5)"/>
<ellipse cx="339.5" cy="310.5" rx="2.8" ry="1.2" fill="#55555c" opacity="0.6" transform="rotate(30 339.5 310.5)"/>
<ellipse cx="327.9" cy="341.3" rx="2.0" ry="1.0" fill="#4a4a50" opacity="0.6" transform="rotate(-8 327.9 341.3)"/>
<ellipse cx="353.7" cy="337.7" rx="1.7" ry="0.8" fill="#2c2c30" opacity="0.6" transform="rotate(8 353.7 337.7)"/>
<ellipse cx="342.2" cy="331.2" rx="1.4" ry="1.3" fill="#55555c" opacity="0.6" transform="rotate(21 342.2 331.2)"/>
<ellipse cx="370.4" cy="348.7" rx="2.5" ry="1.4" fill="#4a4a50" opacity="0.6" transform="rotate(-25 370.4 348.7)"/>
<ellipse cx="344.4" cy="312.7" rx="2.6" ry="0.8" fill="#2c2c30" opacity="0.6" transform="rotate(-12 344.4 312.7)"/>
<ellipse cx="374.7" cy="328.2" rx="1.4" ry="0.5" fill="#55555c" opacity="0.6" transform="rotate(21 374.7 328.2)"/>
<ellipse cx="327.1" cy="309.9" rx="2.1" ry="0.6" fill="#2c2c30" opacity="0.6" transform="rotate(-23 327.1 309.9)"/>
<ellipse cx="320.9" cy="341.1" rx="1.4" ry="0.5" fill="#55555c" opacity="0.6" transform="rotate(-17 320.9 341.1)"/>
<ellipse cx="349.4" cy="317.0" rx="1.9" ry="1.3" fill="#4a4a50" opacity="0.6" transform="rotate(12 349.4 317.0)"/>
<ellipse cx="365.0" cy="325.2" rx="2.9" ry="1.3" fill="#4a4a50" opacity="0.6" transform="rotate(-9 365.0 325.2)"/>
<ellipse cx="363.2" cy="305.8" rx="2.0" ry="1.4" fill="#4a4a50" opacity="0.6" transform="rotate(-1 363.2 305.8)"/>
<ellipse cx="315.4" cy="337.9" rx="2.6" ry="0.8" fill="#2c2c30" opacity="0.6" transform="rotate(13 315.4 337.9)"/>
<ellipse cx="347.0" cy="312.7" rx="1.7" ry="1.2" fill="#4a4a50" opacity="0.6" transform="rotate(-14 347.0 312.7)"/>
<ellipse cx="371.7" cy="319.5" rx="1.2" ry="1.1" fill="#2c2c30" opacity="0.6" transform="rotate(-11 371.7 319.5)"/>
<ellipse cx="363.7" cy="343.9" rx="1.3" ry="0.8" fill="#55555c" opacity="0.6" transform="rotate(-14 363.7 343.9)"/>
<ellipse cx="356.3" cy="352.0" rx="1.1" ry="1.2" fill="#2c2c30" opacity="0.6" transform="rotate(1 356.3 352.0)"/>
<ellipse cx="319.8" cy="355.5" rx="1.4" ry="1.4" fill="#4a4a50" opacity="0.6" transform="rotate(-18 319.8 355.5)"/>
<ellipse cx="344.6" cy="320.1" rx="1.7" ry="0.7" fill="#55555c" opacity="0.6" transform="rotate(-4 344.6 320.1)"/>
<ellipse cx="325.8" cy="305.7" rx="1.4" ry="1.4" fill="#2c2c30" opacity="0.6" transform="rotate(-29 325.8 305.7)"/>
<ellipse cx="362.5" cy="349.1" rx="2.9" ry="0.7" fill="#2c2c30" opacity="0.6" transform="rotate(2 362.5 349.1)"/>
<ellipse cx="337.0" cy="318.8" rx="2.2" ry="1.3" fill="#4a4a50" opacity="0.6" transform="rotate(-8 337.0 318.8)"/>
<ellipse cx="322.2" cy="323.5" rx="2.8" ry="1.2" fill="#2c2c30" opacity="0.6" transform="rotate(11 322.2 323.5)"/>
<ellipse cx="362.4" cy="339.8" rx="2.9" ry="1.4" fill="#55555c" opacity="0.6" transform="rotate(13 362.4 339.8)"/>
<ellipse cx="332.5" cy="333.7" rx="2.6" ry="1.3" fill="#4a4a50" opacity="0.6" transform="rotate(-6 332.5 333.7)"/>
<ellipse cx="353.1" cy="318.5" rx="1.5" ry="1.3" fill="#4a4a50" opacity="0.6" transform="rotate(16 353.1 318.5)"/>
<g filter="url(#bl)"><path d="M333,322 C338,314 350,310 357,318 C362,326 358,338 350,346 C342,352 332,352 328,346 C325,338 328,328 333,322 Z" fill="#86828c" opacity="0.75"/>
<ellipse cx="347" cy="326" rx="7" ry="8" fill="#a8a4ae" opacity="0.55"/></g>
</g>
<path d="M313,336 C318,340 322,344 328,346" stroke="#6a6a70" stroke-width="2" fill="none" opacity="0.6"/>
<path d="M318,343 L333,346 L318,360 L300,376 L296,375 L305,360 Z" fill="#4a4242" opacity="0.7"/>
<path d="M319,342 L325,345 L314,358 L298.5,374.5 L295,374 L306,358 Z" fill="#9a7c7a"/>
<path d="M322.5,345 L328,348 L320,362 L312,378.5 L308.5,378 L313,362 Z" fill="#8a6c6a"/>
<path d="M297,366 L303,368 L298.5,375 L294.5,375 Z" fill="#d2aaa4"/>
<path d="M310,369 L316,371 L312,378.5 L308.5,378.5 Z" fill="#c49c98"/>
</g>
</g>
<circle cx="349.7" cy="323.7" r="2.7" fill="#fff"/>
<circle cx="337.5" cy="330.5" r="2.3" fill="#fff"/>
<circle cx="321.2" cy="343.4" r="2.3" fill="#fff"/>
<circle cx="315.8" cy="363.1" r="2.3" fill="#fff"/>
<text x="356.3" y="326.6" font-size="8.4" text-anchor="start" fill="#fafafa" font-weight="normal" >Hip</text>
<text x="311.5" y="332.8" font-size="8.2" text-anchor="start" fill="#f2f2f2" font-weight="normal" >Knee</text>
<text x="327.0" y="346.9" font-size="8.2" text-anchor="start" fill="#f2f2f2" font-weight="normal" >Ankle</text>
<text x="292.5" y="365.4" font-size="8.2" text-anchor="start" fill="#e8e2de" font-weight="normal" >Foot</text>
<text x="428.8" y="284.5" font-size="17.5" text-anchor="start" fill="#111" font-weight="bold" >E</text>
<rect x="459.1" y="274.4" width="66.3" height="18.4" fill="#fff" stroke="#3a3a3a" stroke-width="1.2"/>
<text x="492.2" y="286.2" font-size="9.1" text-anchor="middle" fill="#222" font-weight="normal" >Sham</text>
<rect x="535.7" y="274.4" width="66.3" height="18.4" fill="#fff" stroke="#3a3a3a" stroke-width="1.2"/>
<text x="568.9" y="286.2" font-size="9.1" text-anchor="middle" fill="#222" font-weight="normal" >Vehicle</text>
<rect x="612.1" y="274.4" width="66.3" height="18.4" fill="#fff" stroke="#3a3a3a" stroke-width="1.2"/>
<text x="645.2" y="286.2" font-size="9.1" text-anchor="middle" fill="#222" font-weight="normal" >NPC-Astro</text>
<rect x="688.5" y="274.4" width="66.3" height="18.4" fill="#fff" stroke="#3a3a3a" stroke-width="1.2"/>
<text x="721.6" y="286.2" font-size="9.1" text-anchor="middle" fill="#222" font-weight="normal" >Olig2PC-Astro</text>
<path d="M493.4,307.7L505.0,331.0L458.4,341.5L434.4,380.0M496.9,305.4L508.5,334.0L460.8,344.3L446.1,377.1M500.3,305.0L512.0,334.0L463.1,346.2L451.0,381.8M503.8,304.7L515.5,334.0L466.6,347.3L456.1,382.7M507.3,304.2L517.8,334.0L469.6,348.0L459.6,382.7M510.8,304.2L514.0,333.5L474.0,345.7L465.4,391.1M513.2,304.7L510.0,333.0L480.1,352.0L482.4,388.8M514.3,300.0L519.0,334.5L482.9,353.6L495.7,380.6" fill="none" stroke="#3f9cc8" stroke-width="0.85"/>
<circle cx="493.4" cy="307.7" r="1.35" fill="#c8323c"/>
<circle cx="496.9" cy="305.4" r="1.35" fill="#c8323c"/>
<circle cx="500.3" cy="305.0" r="1.35" fill="#c8323c"/>
<circle cx="503.8" cy="304.7" r="1.35" fill="#c8323c"/>
<circle cx="507.3" cy="304.2" r="1.35" fill="#c8323c"/>
<circle cx="510.8" cy="304.2" r="1.35" fill="#c8323c"/>
<circle cx="513.2" cy="304.7" r="1.35" fill="#c8323c"/>
<circle cx="514.3" cy="300.0" r="1.35" fill="#c8323c"/>
<circle cx="505.0" cy="331.0" r="1.35" fill="#c8323c"/>
<circle cx="508.5" cy="334.0" r="1.35" fill="#c8323c"/>
<circle cx="512.0" cy="334.0" r="1.35" fill="#c8323c"/>
<circle cx="515.5" cy="334.0" r="1.35" fill="#c8323c"/>
<circle cx="517.8" cy="334.0" r="1.35" fill="#c8323c"/>
<circle cx="514.0" cy="333.5" r="1.35" fill="#c8323c"/>
<circle cx="510.0" cy="333.0" r="1.35" fill="#c8323c"/>
<circle cx="519.0" cy="334.5" r="1.35" fill="#c8323c"/>
<circle cx="458.4" cy="341.5" r="1.35" fill="#c8323c"/>
<circle cx="460.8" cy="344.3" r="1.35" fill="#c8323c"/>
<circle cx="463.1" cy="346.2" r="1.35" fill="#c8323c"/>
<circle cx="466.6" cy="347.3" r="1.35" fill="#c8323c"/>
<circle cx="469.6" cy="348.0" r="1.35" fill="#c8323c"/>
<circle cx="474.0" cy="345.7" r="1.35" fill="#c8323c"/>
<circle cx="480.1" cy="352.0" r="1.35" fill="#c8323c"/>
<circle cx="482.9" cy="353.6" r="1.35" fill="#c8323c"/>
<circle cx="434.4" cy="380.0" r="1.35" fill="#c8323c"/>
<circle cx="446.1" cy="377.1" r="1.35" fill="#c8323c"/>
<circle cx="451.0" cy="381.8" r="1.35" fill="#c8323c"/>
<circle cx="456.1" cy="382.7" r="1.35" fill="#c8323c"/>
<circle cx="459.6" cy="382.7" r="1.35" fill="#c8323c"/>
<circle cx="465.4" cy="391.1" r="1.35" fill="#c8323c"/>
<circle cx="482.4" cy="388.8" r="1.35" fill="#c8323c"/>
<circle cx="495.7" cy="380.6" r="1.35" fill="#c8323c"/>
<path d="M474,345.7L502,371.8" stroke="#4ba3d0" stroke-width="0.75"/>
<circle cx="502" cy="371.8" r="1.35" fill="#c8323c"/>
<path d="M560.7,305.4L575.0,336.8L556.3,363.7L539.8,396.7M562.9,307.2L579.4,335.7L560.7,362.1L545.3,395.6M565.1,303.6L582.7,336.8L564.0,362.6L548.6,398.2M568.4,305.0L584.9,337.3L567.3,365.9L553.0,397.8M570.6,302.8L588.2,336.2L570.6,364.8L555.2,399.5M573.9,301.4L590.4,335.1L573.9,363.7L559.6,401.1M576.1,299.9L587.1,338.8L576.1,367.0L561.8,398.9M578.3,301.0L586.0,336.0L572.0,364.0L554.7,403.9M577.6,305.4L589.0,336.5L568.0,366.0L557.0,400.0" fill="none" stroke="#3f9cc8" stroke-width="0.85"/>
<circle cx="560.7" cy="305.4" r="1.35" fill="#c8323c"/>
<circle cx="562.9" cy="307.2" r="1.35" fill="#c8323c"/>
<circle cx="565.1" cy="303.6" r="1.35" fill="#c8323c"/>
<circle cx="568.4" cy="305.0" r="1.35" fill="#c8323c"/>
<circle cx="570.6" cy="302.8" r="1.35" fill="#c8323c"/>
<circle cx="573.9" cy="301.4" r="1.35" fill="#c8323c"/>
<circle cx="576.1" cy="299.9" r="1.35" fill="#c8323c"/>
<circle cx="578.3" cy="301.0" r="1.35" fill="#c8323c"/>
<circle cx="577.6" cy="305.4" r="1.35" fill="#c8323c"/>
<circle cx="575.0" cy="336.8" r="1.35" fill="#c8323c"/>
<circle cx="579.4" cy="335.7" r="1.35" fill="#c8323c"/>
<circle cx="582.7" cy="336.8" r="1.35" fill="#c8323c"/>
<circle cx="584.9" cy="337.3" r="1.35" fill="#c8323c"/>
<circle cx="588.2" cy="336.2" r="1.35" fill="#c8323c"/>
<circle cx="590.4" cy="335.1" r="1.35" fill="#c8323c"/>
<circle cx="587.1" cy="338.8" r="1.35" fill="#c8323c"/>
<circle cx="586.0" cy="336.0" r="1.35" fill="#c8323c"/>
<circle cx="589.0" cy="336.5" r="1.35" fill="#c8323c"/>
<circle cx="556.3" cy="363.7" r="1.35" fill="#c8323c"/>
<circle cx="560.7" cy="362.1" r="1.35" fill="#c8323c"/>
<circle cx="564.0" cy="362.6" r="1.35" fill="#c8323c"/>
<circle cx="567.3" cy="365.9" r="1.35" fill="#c8323c"/>
<circle cx="570.6" cy="364.8" r="1.35" fill="#c8323c"/>
<circle cx="573.9" cy="363.7" r="1.35" fill="#c8323c"/>
<circle cx="576.1" cy="367.0" r="1.35" fill="#c8323c"/>
<circle cx="572.0" cy="364.0" r="1.35" fill="#c8323c"/>
<circle cx="568.0" cy="366.0" r="1.35" fill="#c8323c"/>
<circle cx="539.8" cy="396.7" r="1.35" fill="#c8323c"/>
<circle cx="545.3" cy="395.6" r="1.35" fill="#c8323c"/>
<circle cx="548.6" cy="398.2" r="1.35" fill="#c8323c"/>
<circle cx="553.0" cy="397.8" r="1.35" fill="#c8323c"/>
<circle cx="555.2" cy="399.5" r="1.35" fill="#c8323c"/>
<circle cx="559.6" cy="401.1" r="1.35" fill="#c8323c"/>
<circle cx="561.8" cy="398.9" r="1.35" fill="#c8323c"/>
<circle cx="554.7" cy="403.9" r="1.35" fill="#c8323c"/>
<circle cx="557.0" cy="400.0" r="1.35" fill="#c8323c"/>
<path d="M639.9,299.9L653.0,335.1L625.6,363.7L620.1,389.0M643.2,304.3L657.5,335.7L637.7,361.5L623.4,392.9M646.5,301.0L661.9,334.0L634.4,367.4L628.9,397.1M649.8,303.2L665.2,335.1L636.6,362.6L636.6,401.1M653.0,300.6L668.5,334.6L638.8,368.1L639.9,395.6M646.5,305.8L660.8,336.2L643.2,368.1L648.7,404.4M650.9,305.4L664.1,335.7L646.5,369.6L654.2,397.3M644.0,301.0L658.0,334.5L650.9,364.3L658.6,404.4M652.0,304.3L664.1,335.7L652.0,365.9L666.3,402.8M642.0,305.4L667.8,335.1L655.3,368.1L671.7,405.5" fill="none" stroke="#3f9cc8" stroke-width="0.85"/>
<circle cx="639.9" cy="299.9" r="1.35" fill="#c8323c"/>
<circle cx="643.2" cy="304.3" r="1.35" fill="#c8323c"/>
<circle cx="646.5" cy="301.0" r="1.35" fill="#c8323c"/>
<circle cx="649.8" cy="303.2" r="1.35" fill="#c8323c"/>
<circle cx="653.0" cy="300.6" r="1.35" fill="#c8323c"/>
<circle cx="646.5" cy="305.8" r="1.35" fill="#c8323c"/>
<circle cx="650.9" cy="305.4" r="1.35" fill="#c8323c"/>
<circle cx="644.0" cy="301.0" r="1.35" fill="#c8323c"/>
<circle cx="652.0" cy="304.3" r="1.35" fill="#c8323c"/>
<circle cx="642.0" cy="305.4" r="1.35" fill="#c8323c"/>
<circle cx="653.0" cy="335.1" r="1.35" fill="#c8323c"/>
<circle cx="657.5" cy="335.7" r="1.35" fill="#c8323c"/>
<circle cx="661.9" cy="334.0" r="1.35" fill="#c8323c"/>
<circle cx="665.2" cy="335.1" r="1.35" fill="#c8323c"/>
<circle cx="668.5" cy="334.6" r="1.35" fill="#c8323c"/>
<circle cx="660.8" cy="336.2" r="1.35" fill="#c8323c"/>
<circle cx="664.1" cy="335.7" r="1.35" fill="#c8323c"/>
<circle cx="658.0" cy="334.5" r="1.35" fill="#c8323c"/>
<circle cx="664.1" cy="335.7" r="1.35" fill="#c8323c"/>
<circle cx="667.8" cy="335.1" r="1.35" fill="#c8323c"/>
<circle cx="625.6" cy="363.7" r="1.35" fill="#c8323c"/>
<circle cx="637.7" cy="361.5" r="1.35" fill="#c8323c"/>
<circle cx="634.4" cy="367.4" r="1.35" fill="#c8323c"/>
<circle cx="636.6" cy="362.6" r="1.35" fill="#c8323c"/>
<circle cx="638.8" cy="368.1" r="1.35" fill="#c8323c"/>
<circle cx="643.2" cy="368.1" r="1.35" fill="#c8323c"/>
<circle cx="646.5" cy="369.6" r="1.35" fill="#c8323c"/>
<circle cx="650.9" cy="364.3" r="1.35" fill="#c8323c"/>
<circle cx="652.0" cy="365.9" r="1.35" fill="#c8323c"/>
<circle cx="655.3" cy="368.1" r="1.35" fill="#c8323c"/>
<circle cx="620.1" cy="389.0" r="1.35" fill="#c8323c"/>
<circle cx="623.4" cy="392.9" r="1.35" fill="#c8323c"/>
<circle cx="628.9" cy="397.1" r="1.35" fill="#c8323c"/>
<circle cx="636.6" cy="401.1" r="1.35" fill="#c8323c"/>
<circle cx="639.9" cy="395.6" r="1.35" fill="#c8323c"/>
<circle cx="648.7" cy="404.4" r="1.35" fill="#c8323c"/>
<circle cx="654.2" cy="397.3" r="1.35" fill="#c8323c"/>
<circle cx="658.6" cy="404.4" r="1.35" fill="#c8323c"/>
<circle cx="666.3" cy="402.8" r="1.35" fill="#c8323c"/>
<circle cx="671.7" cy="405.5" r="1.35" fill="#c8323c"/>
<path d="M711.0,301.6L723.0,336.0L707.6,370.5L706.3,401.9M713.7,301.0L725.0,335.5L710.4,366.6L707.6,394.7M716.5,301.0L727.0,336.5L712.9,369.6L711.5,397.8M719.8,300.7L729.5,335.0L719.8,371.0L720.9,401.6M723.1,300.1L737.4,333.5L720.3,367.2L725.1,398.0M711.0,304.9L731.0,336.9L722.9,363.3L728.4,402.7M715.4,304.3L733.0,335.5L723.6,372.1L728.6,396.4M718.1,306.0L735.0,334.5L725.1,368.8L739.6,407.4M717.0,302.0L734.0,336.0L727.5,371.8L743.5,399.4M721.0,302.0L736.0,334.0L728.0,367.7L747.9,399.2" fill="none" stroke="#3f9cc8" stroke-width="0.85"/>
<circle cx="711.0" cy="301.6" r="1.35" fill="#c8323c"/>
<circle cx="713.7" cy="301.0" r="1.35" fill="#c8323c"/>
<circle cx="716.5" cy="301.0" r="1.35" fill="#c8323c"/>
<circle cx="719.8" cy="300.7" r="1.35" fill="#c8323c"/>
<circle cx="723.1" cy="300.1" r="1.35" fill="#c8323c"/>
<circle cx="711.0" cy="304.9" r="1.35" fill="#c8323c"/>
<circle cx="715.4" cy="304.3" r="1.35" fill="#c8323c"/>
<circle cx="718.1" cy="306.0" r="1.35" fill="#c8323c"/>
<circle cx="717.0" cy="302.0" r="1.35" fill="#c8323c"/>
<circle cx="721.0" cy="302.0" r="1.35" fill="#c8323c"/>
<circle cx="723.0" cy="336.0" r="1.35" fill="#c8323c"/>
<circle cx="725.0" cy="335.5" r="1.35" fill="#c8323c"/>
<circle cx="727.0" cy="336.5" r="1.35" fill="#c8323c"/>
<circle cx="729.5" cy="335.0" r="1.35" fill="#c8323c"/>
<circle cx="737.4" cy="333.5" r="1.35" fill="#c8323c"/>
<circle cx="731.0" cy="336.9" r="1.35" fill="#c8323c"/>
<circle cx="733.0" cy="335.5" r="1.35" fill="#c8323c"/>
<circle cx="735.0" cy="334.5" r="1.35" fill="#c8323c"/>
<circle cx="734.0" cy="336.0" r="1.35" fill="#c8323c"/>
<circle cx="736.0" cy="334.0" r="1.35" fill="#c8323c"/>
<circle cx="707.6" cy="370.5" r="1.35" fill="#c8323c"/>
<circle cx="710.4" cy="366.6" r="1.35" fill="#c8323c"/>
<circle cx="712.9" cy="369.6" r="1.35" fill="#c8323c"/>
<circle cx="719.8" cy="371.0" r="1.35" fill="#c8323c"/>
<circle cx="720.3" cy="367.2" r="1.35" fill="#c8323c"/>
<circle cx="722.9" cy="363.3" r="1.35" fill="#c8323c"/>
<circle cx="723.6" cy="372.1" r="1.35" fill="#c8323c"/>
<circle cx="725.1" cy="368.8" r="1.35" fill="#c8323c"/>
<circle cx="727.5" cy="371.8" r="1.35" fill="#c8323c"/>
<circle cx="728.0" cy="367.7" r="1.35" fill="#c8323c"/>
<circle cx="706.3" cy="401.9" r="1.35" fill="#c8323c"/>
<circle cx="707.6" cy="394.7" r="1.35" fill="#c8323c"/>
<circle cx="711.5" cy="397.8" r="1.35" fill="#c8323c"/>
<circle cx="720.9" cy="401.6" r="1.35" fill="#c8323c"/>
<circle cx="725.1" cy="398.0" r="1.35" fill="#c8323c"/>
<circle cx="728.4" cy="402.7" r="1.35" fill="#c8323c"/>
<circle cx="728.6" cy="396.4" r="1.35" fill="#c8323c"/>
<circle cx="739.6" cy="407.4" r="1.35" fill="#c8323c"/>
<circle cx="743.5" cy="399.4" r="1.35" fill="#c8323c"/>
<circle cx="747.9" cy="399.2" r="1.35" fill="#c8323c"/>
<text x="8.5" y="833.2" font-size="17.5" text-anchor="start" fill="#111" font-weight="bold" >L</text>
<path d="M21.3,911.7 H199.2 M21.3,938.2 H199.2 M21.3,904.9 V938.2 M199.2,904.9 V938.2" stroke="#2e2e2e" stroke-width="1.1" fill="none"/>
<path d="M21.3,904.9 A12.5,11.5 0 0 0 21.3,927.5 M21.3,914.5 A12.5,11.8 0 0 0 21.3,938.2" stroke="#2e2e2e" stroke-width="1.1" fill="none"/>
<path d="M199.2,904.9 A12.5,11.5 0 0 1 199.2,927.5 M199.2,914.5 A12.5,11.8 0 0 1 199.2,938.2" stroke="#2e2e2e" stroke-width="1.1" fill="none"/>
<path d="M39,853.4 H172.2 L178.7,860.5 H45.5 Z M39,853.4 V904.9 L45.5,911.7 M45.5,860.5 V911.7 M60.3,853.4 L67.4,860.5 V911.7 M148,853.4 L155.1,860.5 V911.7 M178.7,860.5 V911.7" stroke="#2e2e2e" stroke-width="1.1" fill="none"/>
<path d="M60.3,860.5 V904.9 M148,860.5 V904.9 M172.2,860.5 V904.9 M21.3,904.9 H199.2" stroke="#2e2e2e" stroke-width="1.15" fill="none" stroke-dasharray="3.8,2.6"/>
<circle cx="146.6" cy="892.6" r="11" stroke="#2e2e2e" stroke-width="1.15" fill="none" stroke-dasharray="3.8,2.6"/>
<path d="M155.1,887 A12,12 0 0 0 155.1,911" stroke="#2e2e2e" stroke-width="1.1" fill="none"/>
<path d="M95.5,906 C98,904.5 100.5,903.5 102.5,903 L103.5,900.5 L105.5,902 C110,901 117,900.5 122,902 C125,903 126.5,905.5 125.5,908 L124,910.5 L122,910.5 L121.5,909 C117,909.5 111,909.5 107,909 L105.5,911 L103.5,910.5 L104,908.5 C100,908 97,907.5 95.5,906 Z" fill="#1e1e1e"/>
<path d="M125,907 C132,907 140,905.5 149,905" stroke="#333" stroke-width="0.7" fill="none"/>
<path d="M179.9,906 C190,917 200,929 205,941 C210,952 214,963 210,976 C207,990 222,1008 222,1024 C222,1036 214,1042 205,1042 C188,1041 170,1033 152,1024.8" stroke="#2e2e2e" stroke-width="1.1" fill="none" stroke-width="1"/>
<rect x="69" y="989" width="83" height="58.9" fill="#f4f4f4" stroke="#444" stroke-width="1.2"/>
<line x1="85.4" y1="992.0" x2="88.6" y2="992.0" stroke="#c9c9c9" stroke-width="0.8"/>
<line x1="85.7" y1="994.7" x2="88.3" y2="994.7" stroke="#c9c9c9" stroke-width="0.8"/>
<line x1="84.7" y1="997.4" x2="89.3" y2="997.4" stroke="#c9c9c9" stroke-width="0.8"/>
<line x1="85.9" y1="1000.1" x2="88.1" y2="1000.1" stroke="#c9c9c9" stroke-width="0.8"/>
<line x1="84.9" y1="1002.8" x2="89.1" y2="1002.8" stroke="#c9c9c9" stroke-width="0.8"/>
<line x1="85.3" y1="1005.5" x2="88.7" y2="1005.5" stroke="#c9c9c9" stroke-width="0.8"/>
<line x1="85.9" y1="1008.2" x2="88.1" y2="1008.2" stroke="#c9c9c9" stroke-width="0.8"/>
<line x1="85.0" y1="1010.9" x2="89.0" y2="1010.9" stroke="#c9c9c9" stroke-width="0.8"/>
<line x1="85.9" y1="1013.6" x2="88.1" y2="1013.6" stroke="#c9c9c9" stroke-width="0.8"/>
<line x1="85.1" y1="1016.3" x2="88.9" y2="1016.3" stroke="#c9c9c9" stroke-width="0.8"/>
<line x1="85.9" y1="1019.0" x2="88.1" y2="1019.0" stroke="#c9c9c9" stroke-width="0.8"/>
<line x1="85.8" y1="1021.7" x2="88.2" y2="1021.7" stroke="#c9c9c9" stroke-width="0.8"/>
<line x1="85.2" y1="1024.4" x2="88.8" y2="1024.4" stroke="#c9c9c9" stroke-width="0.8"/>
<line x1="84.3" y1="1027.1" x2="89.7" y2="1027.1" stroke="#c9c9c9" stroke-width="0.8"/>
<line x1="85.8" y1="1029.8" x2="88.2" y2="1029.8" stroke="#c9c9c9" stroke-width="0.8"/>
<line x1="85.6" y1="1032.5" x2="88.4" y2="1032.5" stroke="#c9c9c9" stroke-width="0.8"/>
<line x1="84.7" y1="1035.2" x2="89.3" y2="1035.2" stroke="#c9c9c9" stroke-width="0.8"/>
<line x1="84.1" y1="1037.9" x2="89.9" y2="1037.9" stroke="#c9c9c9" stroke-width="0.8"/>
<line x1="84.8" y1="1040.6" x2="89.2" y2="1040.6" stroke="#c9c9c9" stroke-width="0.8"/>
<line x1="85.2" y1="1043.3" x2="88.8" y2="1043.3" stroke="#c9c9c9" stroke-width="0.8"/>
<line x1="105.0" y1="992.0" x2="111.0" y2="992.0" stroke="#c9c9c9" stroke-width="0.8"/>
<line x1="106.9" y1="994.7" x2="109.1" y2="994.7" stroke="#c9c9c9" stroke-width="0.8"/>
<line x1="105.3" y1="997.4" x2="110.7" y2="997.4" stroke="#c9c9c9" stroke-width="0.8"/>
<line x1="106.4" y1="1000.1" x2="109.6" y2="1000.1" stroke="#c9c9c9" stroke-width="0.8"/>
<line x1="106.7" y1="1002.8" x2="109.3" y2="1002.8" stroke="#c9c9c9" stroke-width="0.8"/>
<line x1="106.8" y1="1005.5" x2="109.2" y2="1005.5" stroke="#c9c9c9" stroke-width="0.8"/>
<line x1="106.4" y1="1008.2" x2="109.6" y2="1008.2" stroke="#c9c9c9" stroke-width="0.8"/>
<line x1="105.4" y1="1010.9" x2="110.6" y2="1010.9" stroke="#c9c9c9" stroke-width="0.8"/>
<line x1="106.6" y1="1013.6" x2="109.4" y2="1013.6" stroke="#c9c9c9" stroke-width="0.8"/>
<line x1="105.8" y1="1016.3" x2="110.2" y2="1016.3" stroke="#c9c9c9" stroke-width="0.8"/>
<line x1="105.7" y1="1019.0" x2="110.3" y2="1019.0" stroke="#c9c9c9" stroke-width="0.8"/>
<line x1="106.3" y1="1021.7" x2="109.7" y2="1021.7" stroke="#c9c9c9" stroke-width="0.8"/>
<line x1="105.9" y1="1024.4" x2="110.1" y2="1024.4" stroke="#c9c9c9" stroke-width="0.8"/>
<line x1="106.9" y1="1027.1" x2="109.1" y2="1027.1" stroke="#c9c9c9" stroke-width="0.8"/>
<line x1="106.9" y1="1029.8" x2="109.1" y2="1029.8" stroke="#c9c9c9" stroke-width="0.8"/>
<line x1="106.6" y1="1032.5" x2="109.4" y2="1032.5" stroke="#c9c9c9" stroke-width="0.8"/>
<line x1="105.6" y1="1035.2" x2="110.4" y2="1035.2" stroke="#c9c9c9" stroke-width="0.8"/>
<line x1="106.1" y1="1037.9" x2="109.9" y2="1037.9" stroke="#c9c9c9" stroke-width="0.8"/>
<line x1="106.4" y1="1040.6" x2="109.6" y2="1040.6" stroke="#c9c9c9" stroke-width="0.8"/>
<line x1="105.8" y1="1043.3" x2="110.2" y2="1043.3" stroke="#c9c9c9" stroke-width="0.8"/>
<line x1="126.1" y1="992.0" x2="129.9" y2="992.0" stroke="#c9c9c9" stroke-width="0.8"/>
<line x1="126.4" y1="994.7" x2="129.6" y2="994.7" stroke="#c9c9c9" stroke-width="0.8"/>
<line x1="125.4" y1="997.4" x2="130.6" y2="997.4" stroke="#c9c9c9" stroke-width="0.8"/>
<line x1="125.6" y1="1000.1" x2="130.4" y2="1000.1" stroke="#c9c9c9" stroke-width="0.8"/>
<line x1="126.5" y1="1002.8" x2="129.5" y2="1002.8" stroke="#c9c9c9" stroke-width="0.8"/>
<line x1="125.9" y1="1005.5" x2="130.1" y2="1005.5" stroke="#c9c9c9" stroke-width="0.8"/>
<line x1="125.9" y1="1008.2" x2="130.1" y2="1008.2" stroke="#c9c9c9" stroke-width="0.8"/>
<line x1="125.2" y1="1010.9" x2="130.8" y2="1010.9" stroke="#c9c9c9" stroke-width="0.8"/>
<line x1="125.5" y1="1013.6" x2="130.5" y2="1013.6" stroke="#c9c9c9" stroke-width="0.8"/>
<line x1="126.4" y1="1016.3" x2="129.6" y2="1016.3" stroke="#c9c9c9" stroke-width="0.8"/>
<line x1="125.0" y1="1019.0" x2="131.0" y2="1019.0" stroke="#c9c9c9" stroke-width="0.8"/>
<line x1="126.8" y1="1021.7" x2="129.2" y2="1021.7" stroke="#c9c9c9" stroke-width="0.8"/>
<line x1="126.2" y1="1024.4" x2="129.8" y2="1024.4" stroke="#c9c9c9" stroke-width="0.8"/>
<line x1="125.5" y1="1027.1" x2="130.5" y2="1027.1" stroke="#c9c9c9" stroke-width="0.8"/>
<line x1="126.7" y1="1029.8" x2="129.3" y2="1029.8" stroke="#c9c9c9" stroke-width="0.8"/>
<line x1="126.0" y1="1032.5" x2="130.0" y2="1032.5" stroke="#c9c9c9" stroke-width="0.8"/>
<line x1="126.9" y1="1035.2" x2="129.1" y2="1035.2" stroke="#c9c9c9" stroke-width="0.8"/>
<line x1="125.7" y1="1037.9" x2="130.3" y2="1037.9" stroke="#c9c9c9" stroke-width="0.8"/>
<line x1="125.5" y1="1040.6" x2="130.5" y2="1040.6" stroke="#c9c9c9" stroke-width="0.8"/>
<line x1="125.9" y1="1043.3" x2="130.1" y2="1043.3" stroke="#c9c9c9" stroke-width="0.8"/>
<line x1="145.2" y1="992.0" x2="150.8" y2="992.0" stroke="#c9c9c9" stroke-width="0.8"/>
<line x1="146.4" y1="994.7" x2="149.6" y2="994.7" stroke="#c9c9c9" stroke-width="0.8"/>
<line x1="145.6" y1="997.4" x2="150.4" y2="997.4" stroke="#c9c9c9" stroke-width="0.8"/>
<line x1="145.8" y1="1000.1" x2="150.2" y2="1000.1" stroke="#c9c9c9" stroke-width="0.8"/>
<line x1="145.8" y1="1002.8" x2="150.2" y2="1002.8" stroke="#c9c9c9" stroke-width="0.8"/>
<line x1="146.1" y1="1005.5" x2="149.9" y2="1005.5" stroke="#c9c9c9" stroke-width="0.8"/>
<line x1="145.3" y1="1008.2" x2="150.7" y2="1008.2" stroke="#c9c9c9" stroke-width="0.8"/>
<line x1="145.1" y1="1010.9" x2="150.9" y2="1010.9" stroke="#c9c9c9" stroke-width="0.8"/>
<line x1="146.1" y1="1013.6" x2="149.9" y2="1013.6" stroke="#c9c9c9" stroke-width="0.8"/>
<line x1="145.7" y1="1016.3" x2="150.3" y2="1016.3" stroke="#c9c9c9" stroke-width="0.8"/>
<line x1="146.9" y1="1019.0" x2="149.1" y2="1019.0" stroke="#c9c9c9" stroke-width="0.8"/>
<line x1="145.6" y1="1021.7" x2="150.4" y2="1021.7" stroke="#c9c9c9" stroke-width="0.8"/>
<line x1="145.7" y1="1024.4" x2="150.3" y2="1024.4" stroke="#c9c9c9" stroke-width="0.8"/>
<line x1="145.0" y1="1027.1" x2="151.0" y2="1027.1" stroke="#c9c9c9" stroke-width="0.8"/>
<line x1="145.4" y1="1029.8" x2="150.6" y2="1029.8" stroke="#c9c9c9" stroke-width="0.8"/>
<line x1="146.4" y1="1032.5" x2="149.6" y2="1032.5" stroke="#c9c9c9" stroke-width="0.8"/>
<line x1="146.2" y1="1035.2" x2="149.8" y2="1035.2" stroke="#c9c9c9" stroke-width="0.8"/>
<line x1="145.7" y1="1037.9" x2="150.3" y2="1037.9" stroke="#c9c9c9" stroke-width="0.8"/>
<line x1="147.0" y1="1040.6" x2="149.0" y2="1040.6" stroke="#c9c9c9" stroke-width="0.8"/>
<line x1="146.1" y1="1043.3" x2="149.9" y2="1043.3" stroke="#c9c9c9" stroke-width="0.8"/>
<path d="M97.5,1047.9 L102.6,1064 M122.8,1047.9 L117.7,1064" stroke="#222" stroke-width="1.6"/>
<line x1="86.8" y1="1064.7" x2="134.5" y2="1064.7" stroke="#222" stroke-width="1.8"/>
<text x="219.8" y="833.2" font-size="17.5" text-anchor="start" fill="#111" font-weight="bold" >M</text>
<rect x="269.8" y="804.4" width="53.4" height="14" fill="#fff" stroke="#555" stroke-width="1"/>
<text x="296.5" y="814.3" font-size="7.6" text-anchor="middle" fill="#333" font-weight="normal" >Sham</text>
<rect x="269.8" y="820.9" width="53.4" height="128.7" fill="#262626"/>
<rect x="269.8" y="952.8" width="53.4" height="129.4" fill="#262626"/>
<text x="271.6" y="1081.5" font-size="10" text-anchor="start" fill="#fff" font-weight="normal" >R</text>
<text x="321.3" y="1081.5" font-size="10" text-anchor="end" fill="#fff" font-weight="normal" >L</text>
<rect x="327.1" y="804.4" width="53.4" height="14" fill="#fff" stroke="#555" stroke-width="1"/>
<text x="353.8" y="814.3" font-size="7.6" text-anchor="middle" fill="#333" font-weight="normal" >Vehicle</text>
<rect x="327.1" y="820.9" width="53.4" height="128.7" fill="#262626"/>
<rect x="327.1" y="952.8" width="53.4" height="129.4" fill="#262626"/>
<text x="328.9" y="1081.5" font-size="10" text-anchor="start" fill="#fff" font-weight="normal" >R</text>
<text x="378.6" y="1081.5" font-size="10" text-anchor="end" fill="#fff" font-weight="normal" >L</text>
<rect x="383.9" y="804.4" width="53.4" height="14" fill="#fff" stroke="#555" stroke-width="1"/>
<text x="410.6" y="814.3" font-size="7.6" text-anchor="middle" fill="#333" font-weight="normal" >NPC-Astro</text>
<rect x="383.9" y="820.9" width="53.4" height="128.7" fill="#262626"/>
<rect x="383.9" y="952.8" width="53.4" height="129.4" fill="#262626"/>
<text x="385.7" y="1081.5" font-size="10" text-anchor="start" fill="#fff" font-weight="normal" >R</text>
<text x="435.4" y="1081.5" font-size="10" text-anchor="end" fill="#fff" font-weight="normal" >L</text>
<rect x="441.8" y="804.4" width="53.4" height="14" fill="#fff" stroke="#555" stroke-width="1"/>
<text x="468.5" y="814.3" font-size="7.6" text-anchor="middle" fill="#333" font-weight="normal" >Olig2PC-Astro</text>
<rect x="441.8" y="820.9" width="53.4" height="128.7" fill="#262626"/>
<rect x="441.8" y="952.8" width="53.4" height="129.4" fill="#262626"/>
<text x="443.6" y="1081.5" font-size="10" text-anchor="start" fill="#fff" font-weight="normal" >R</text>
<text x="493.3" y="1081.5" font-size="10" text-anchor="end" fill="#fff" font-weight="normal" >L</text>
<g transform="translate(280.2,850.0) rotate(-20) scale(1.0)" opacity="1.0"><path d="M-4,0.5 C-4.5,4 -2,7 1,8.5 C3,9 4.5,7 4,4 C4,1 3,-1.5 0,-2 C-2.5,-2 -3.8,-1 -4,0.5 Z" fill="#7e5a4e"/><path d="M-3.2,1.5 L-6.8,-1.8" stroke="#b8988e" stroke-width="1.6" stroke-linecap="round"/><path d="M-2,-1 L-3.8,-6.8" stroke="#b8988e" stroke-width="1.6" stroke-linecap="round"/><path d="M0,-1.5 L0.2,-8" stroke="#b8988e" stroke-width="1.6" stroke-linecap="round"/><path d="M2,-1 L4,-6.8" stroke="#b8988e" stroke-width="1.6" stroke-linecap="round"/><path d="M3.3,1 L7,-2.8" stroke="#b8988e" stroke-width="1.6" stroke-linecap="round"/><path d="M-6.5,-1.5 L-3.5,1.5 L-3,5 M-3.8,-6.5 L-2.3,-2 M-3.5,6 L0.5,8.3" stroke="#ecdcd4" stroke-width="0.9" fill="none" stroke-linecap="round" opacity="0.75"/></g>
<g transform="translate(310.6,846.1) rotate(10) scale(1.0)" opacity="1.0"><path d="M-4,0.5 C-4.5,4 -2,7 1,8.5 C3,9 4.5,7 4,4 C4,1 3,-1.5 0,-2 C-2.5,-2 -3.8,-1 -4,0.5 Z" fill="#7e5a4e"/><path d="M-3.2,1.5 L-6.8,-1.8" stroke="#b8988e" stroke-width="1.6" stroke-linecap="round"/><path d="M-2,-1 L-3.8,-6.8" stroke="#b8988e" stroke-width="1.6" stroke-linecap="round"/><path d="M0,-1.5 L0.2,-8" stroke="#b8988e" stroke-width="1.6" stroke-linecap="round"/><path d="M2,-1 L4,-6.8" stroke="#b8988e" stroke-width="1.6" stroke-linecap="round"/><path d="M3.3,1 L7,-2.8" stroke="#b8988e" stroke-width="1.6" stroke-linecap="round"/><path d="M-6.5,-1.5 L-3.5,1.5 L-3,5 M-3.8,-6.5 L-2.3,-2 M-3.5,6 L0.5,8.3" stroke="#ecdcd4" stroke-width="0.9" fill="none" stroke-linecap="round" opacity="0.75"/></g>
<g transform="translate(281.0,916.3) rotate(-40) scale(1.0)" opacity="1.0"><path d="M-4,0.5 C-4.5,4 -2,7 1,8.5 C3,9 4.5,7 4,4 C4,1 3,-1.5 0,-2 C-2.5,-2 -3.8,-1 -4,0.5 Z" fill="#7e5a4e"/><path d="M-3.2,1.5 L-6.8,-1.8" stroke="#b8988e" stroke-width="1.6" stroke-linecap="round"/><path d="M-2,-1 L-3.8,-6.8" stroke="#b8988e" stroke-width="1.6" stroke-linecap="round"/><path d="M0,-1.5 L0.2,-8" stroke="#b8988e" stroke-width="1.6" stroke-linecap="round"/><path d="M2,-1 L4,-6.8" stroke="#b8988e" stroke-width="1.6" stroke-linecap="round"/><path d="M3.3,1 L7,-2.8" stroke="#b8988e" stroke-width="1.6" stroke-linecap="round"/><path d="M-6.5,-1.5 L-3.5,1.5 L-3,5 M-3.8,-6.5 L-2.3,-2 M-3.5,6 L0.5,8.3" stroke="#ecdcd4" stroke-width="0.9" fill="none" stroke-linecap="round" opacity="0.75"/></g>
<g transform="translate(308.5,924.4) rotate(15) scale(1.0)" opacity="1.0"><path d="M-4,0.5 C-4.5,4 -2,7 1,8.5 C3,9 4.5,7 4,4 C4,1 3,-1.5 0,-2 C-2.5,-2 -3.8,-1 -4,0.5 Z" fill="#7e5a4e"/><path d="M-3.2,1.5 L-6.8,-1.8" stroke="#b8988e" stroke-width="1.6" stroke-linecap="round"/><path d="M-2,-1 L-3.8,-6.8" stroke="#b8988e" stroke-width="1.6" stroke-linecap="round"/><path d="M0,-1.5 L0.2,-8" stroke="#b8988e" stroke-width="1.6" stroke-linecap="round"/><path d="M2,-1 L4,-6.8" stroke="#b8988e" stroke-width="1.6" stroke-linecap="round"/><path d="M3.3,1 L7,-2.8" stroke="#b8988e" stroke-width="1.6" stroke-linecap="round"/><path d="M-6.5,-1.5 L-3.5,1.5 L-3,5 M-3.8,-6.5 L-2.3,-2 M-3.5,6 L0.5,8.3" stroke="#ecdcd4" stroke-width="0.9" fill="none" stroke-linecap="round" opacity="0.75"/></g>
<g transform="translate(338.2,846.7) rotate(-35) scale(1.0)" opacity="1.0"><path d="M-4,0.5 C-4.5,4 -2,7 1,8.5 C3,9 4.5,7 4,4 C4,1 3,-1.5 0,-2 C-2.5,-2 -3.8,-1 -4,0.5 Z" fill="#7e5a4e"/><path d="M-3.2,1.5 L-6.8,-1.8" stroke="#b8988e" stroke-width="1.6" stroke-linecap="round"/><path d="M-2,-1 L-3.8,-6.8" stroke="#b8988e" stroke-width="1.6" stroke-linecap="round"/><path d="M0,-1.5 L0.2,-8" stroke="#b8988e" stroke-width="1.6" stroke-linecap="round"/><path d="M2,-1 L4,-6.8" stroke="#b8988e" stroke-width="1.6" stroke-linecap="round"/><path d="M3.3,1 L7,-2.8" stroke="#b8988e" stroke-width="1.6" stroke-linecap="round"/><path d="M-6.5,-1.5 L-3.5,1.5 L-3,5 M-3.8,-6.5 L-2.3,-2 M-3.5,6 L0.5,8.3" stroke="#ecdcd4" stroke-width="0.9" fill="none" stroke-linecap="round" opacity="0.75"/></g>
<g transform="translate(365.1,847.2) rotate(10) scale(1.0)" opacity="1.0"><path d="M-4,0.5 C-4.5,4 -2,7 1,8.5 C3,9 4.5,7 4,4 C4,1 3,-1.5 0,-2 C-2.5,-2 -3.8,-1 -4,0.5 Z" fill="#7e5a4e"/><path d="M-3.2,1.5 L-6.8,-1.8" stroke="#b8988e" stroke-width="1.6" stroke-linecap="round"/><path d="M-2,-1 L-3.8,-6.8" stroke="#b8988e" stroke-width="1.6" stroke-linecap="round"/><path d="M0,-1.5 L0.2,-8" stroke="#b8988e" stroke-width="1.6" stroke-linecap="round"/><path d="M2,-1 L4,-6.8" stroke="#b8988e" stroke-width="1.6" stroke-linecap="round"/><path d="M3.3,1 L7,-2.8" stroke="#b8988e" stroke-width="1.6" stroke-linecap="round"/><path d="M-6.5,-1.5 L-3.5,1.5 L-3,5 M-3.8,-6.5 L-2.3,-2 M-3.5,6 L0.5,8.3" stroke="#ecdcd4" stroke-width="0.9" fill="none" stroke-linecap="round" opacity="0.75"/></g>
<g transform="translate(340.9,919.5) rotate(10) scale(1.0)" opacity="1.0"><path d="M-2.5,-7 C1,-8.5 3.5,-6 3,-1 C2.5,4 2,7 -0.5,8 C-3,8.5 -4,6 -3.5,2 C-3,-2 -4.5,-6 -2.5,-7 Z" fill="#7e5a4e"/><path d="M-2.5,-6.5 L-3.5,-9 M-0.5,-7.5 L-0.5,-10 M1.5,-7 L2.5,-9.5" stroke="#b8988e" stroke-width="1.2" stroke-linecap="round"/><path d="M-1.5,-5 L1.5,-3 M-2,0 L1.5,1 M-1.5,4 L1,5" stroke="#ecdcd4" stroke-width="0.9" opacity="0.6"/></g>
<g transform="translate(366.7,919.5) rotate(-40) scale(1.0)" opacity="1.0"><path d="M-2.5,-7 C1,-8.5 3.5,-6 3,-1 C2.5,4 2,7 -0.5,8 C-3,8.5 -4,6 -3.5,2 C-3,-2 -4.5,-6 -2.5,-7 Z" fill="#7e5a4e"/><path d="M-2.5,-6.5 L-3.5,-9 M-0.5,-7.5 L-0.5,-10 M1.5,-7 L2.5,-9.5" stroke="#b8988e" stroke-width="1.2" stroke-linecap="round"/><path d="M-1.5,-5 L1.5,-3 M-2,0 L1.5,1 M-1.5,4 L1,5" stroke="#ecdcd4" stroke-width="0.9" opacity="0.6"/></g>
<g transform="translate(399.1,842.4) rotate(-10) scale(1.0)" opacity="1.0"><path d="M-4,0.5 C-4.5,4 -2,7 1,8.5 C3,9 4.5,7 4,4 C4,1 3,-1.5 0,-2 C-2.5,-2 -3.8,-1 -4,0.5 Z" fill="#7e5a4e"/><path d="M-3.2,1.5 L-6.8,-1.8" stroke="#b8988e" stroke-width="1.6" stroke-linecap="round"/><path d="M-2,-1 L-3.8,-6.8" stroke="#b8988e" stroke-width="1.6" stroke-linecap="round"/><path d="M0,-1.5 L0.2,-8" stroke="#b8988e" stroke-width="1.6" stroke-linecap="round"/><path d="M2,-1 L4,-6.8" stroke="#b8988e" stroke-width="1.6" stroke-linecap="round"/><path d="M3.3,1 L7,-2.8" stroke="#b8988e" stroke-width="1.6" stroke-linecap="round"/><path d="M-6.5,-1.5 L-3.5,1.5 L-3,5 M-3.8,-6.5 L-2.3,-2 M-3.5,6 L0.5,8.3" stroke="#ecdcd4" stroke-width="0.9" fill="none" stroke-linecap="round" opacity="0.75"/></g>
<g transform="translate(421.7,851.6) rotate(5) scale(1.0)" opacity="1.0"><path d="M-4,0.5 C-4.5,4 -2,7 1,8.5 C3,9 4.5,7 4,4 C4,1 3,-1.5 0,-2 C-2.5,-2 -3.8,-1 -4,0.5 Z" fill="#7e5a4e"/><path d="M-3.2,1.5 L-6.8,-1.8" stroke="#b8988e" stroke-width="1.6" stroke-linecap="round"/><path d="M-2,-1 L-3.8,-6.8" stroke="#b8988e" stroke-width="1.6" stroke-linecap="round"/><path d="M0,-1.5 L0.2,-8" stroke="#b8988e" stroke-width="1.6" stroke-linecap="round"/><path d="M2,-1 L4,-6.8" stroke="#b8988e" stroke-width="1.6" stroke-linecap="round"/><path d="M3.3,1 L7,-2.8" stroke="#b8988e" stroke-width="1.6" stroke-linecap="round"/><path d="M-6.5,-1.5 L-3.5,1.5 L-3,5 M-3.8,-6.5 L-2.3,-2 M-3.5,6 L0.5,8.3" stroke="#ecdcd4" stroke-width="0.9" fill="none" stroke-linecap="round" opacity="0.75"/></g>
<g transform="translate(397.5,922.7) rotate(-35) scale(1.0)" opacity="1.0"><path d="M-4,0.5 C-4.5,4 -2,7 1,8.5 C3,9 4.5,7 4,4 C4,1 3,-1.5 0,-2 C-2.5,-2 -3.8,-1 -4,0.5 Z" fill="#7e5a4e"/><path d="M-3.2,1.5 L-6.8,-1.8" stroke="#b8988e" stroke-width="1.6" stroke-linecap="round"/><path d="M-2,-1 L-3.8,-6.8" stroke="#b8988e" stroke-width="1.6" stroke-linecap="round"/><path d="M0,-1.5 L0.2,-8" stroke="#b8988e" stroke-width="1.6" stroke-linecap="round"/><path d="M2,-1 L4,-6.8" stroke="#b8988e" stroke-width="1.6" stroke-linecap="round"/><path d="M3.3,1 L7,-2.8" stroke="#b8988e" stroke-width="1.6" stroke-linecap="round"/><path d="M-6.5,-1.5 L-3.5,1.5 L-3,5 M-3.8,-6.5 L-2.3,-2 M-3.5,6 L0.5,8.3" stroke="#ecdcd4" stroke-width="0.9" fill="none" stroke-linecap="round" opacity="0.75"/></g>
<g transform="translate(423.3,911.4) rotate(5) scale(1.0)" opacity="1.0"><path d="M-2.5,-7 C1,-8.5 3.5,-6 3,-1 C2.5,4 2,7 -0.5,8 C-3,8.5 -4,6 -3.5,2 C-3,-2 -4.5,-6 -2.5,-7 Z" fill="#7e5a4e"/><path d="M-2.5,-6.5 L-3.5,-9 M-0.5,-7.5 L-0.5,-10 M1.5,-7 L2.5,-9.5" stroke="#b8988e" stroke-width="1.2" stroke-linecap="round"/><path d="M-1.5,-5 L1.5,-3 M-2,0 L1.5,1 M-1.5,4 L1,5" stroke="#ecdcd4" stroke-width="0.9" opacity="0.6"/></g>
<g transform="translate(454.0,843.5) rotate(-15) scale(1.0)" opacity="1.0"><path d="M-4,0.5 C-4.5,4 -2,7 1,8.5 C3,9 4.5,7 4,4 C4,1 3,-1.5 0,-2 C-2.5,-2 -3.8,-1 -4,0.5 Z" fill="#7e5a4e"/><path d="M-3.2,1.5 L-6.8,-1.8" stroke="#b8988e" stroke-width="1.6" stroke-linecap="round"/><path d="M-2,-1 L-3.8,-6.8" stroke="#b8988e" stroke-width="1.6" stroke-linecap="round"/><path d="M0,-1.5 L0.2,-8" stroke="#b8988e" stroke-width="1.6" stroke-linecap="round"/><path d="M2,-1 L4,-6.8" stroke="#b8988e" stroke-width="1.6" stroke-linecap="round"/><path d="M3.3,1 L7,-2.8" stroke="#b8988e" stroke-width="1.6" stroke-linecap="round"/><path d="M-6.5,-1.5 L-3.5,1.5 L-3,5 M-3.8,-6.5 L-2.3,-2 M-3.5,6 L0.5,8.3" stroke="#ecdcd4" stroke-width="0.9" fill="none" stroke-linecap="round" opacity="0.75"/></g>
<g transform="translate(479.9,845.1) rotate(15) scale(1.0)" opacity="1.0"><path d="M-4,0.5 C-4.5,4 -2,7 1,8.5 C3,9 4.5,7 4,4 C4,1 3,-1.5 0,-2 C-2.5,-2 -3.8,-1 -4,0.5 Z" fill="#7e5a4e"/><path d="M-3.2,1.5 L-6.8,-1.8" stroke="#b8988e" stroke-width="1.6" stroke-linecap="round"/><path d="M-2,-1 L-3.8,-6.8" stroke="#b8988e" stroke-width="1.6" stroke-linecap="round"/><path d="M0,-1.5 L0.2,-8" stroke="#b8988e" stroke-width="1.6" stroke-linecap="round"/><path d="M2,-1 L4,-6.8" stroke="#b8988e" stroke-width="1.6" stroke-linecap="round"/><path d="M3.3,1 L7,-2.8" stroke="#b8988e" stroke-width="1.6" stroke-linecap="round"/><path d="M-6.5,-1.5 L-3.5,1.5 L-3,5 M-3.8,-6.5 L-2.3,-2 M-3.5,6 L0.5,8.3" stroke="#ecdcd4" stroke-width="0.9" fill="none" stroke-linecap="round" opacity="0.75"/></g>
<g transform="translate(454.0,906.6) rotate(0) scale(1.0)" opacity="1.0"><path d="M-2.5,-7 C1,-8.5 3.5,-6 3,-1 C2.5,4 2,7 -0.5,8 C-3,8.5 -4,6 -3.5,2 C-3,-2 -4.5,-6 -2.5,-7 Z" fill="#7e5a4e"/><path d="M-2.5,-6.5 L-3.5,-9 M-0.5,-7.5 L-0.5,-10 M1.5,-7 L2.5,-9.5" stroke="#b8988e" stroke-width="1.2" stroke-linecap="round"/><path d="M-1.5,-5 L1.5,-3 M-2,0 L1.5,1 M-1.5,4 L1,5" stroke="#ecdcd4" stroke-width="0.9" opacity="0.6"/></g>
<g transform="translate(479.9,916.3) rotate(-25) scale(1.0)" opacity="1.0"><path d="M-4,0.5 C-4.5,4 -2,7 1,8.5 C3,9 4.5,7 4,4 C4,1 3,-1.5 0,-2 C-2.5,-2 -3.8,-1 -4,0.5 Z" fill="#7e5a4e"/><path d="M-3.2,1.5 L-6.8,-1.8" stroke="#b8988e" stroke-width="1.6" stroke-linecap="round"/><path d="M-2,-1 L-3.8,-6.8" stroke="#b8988e" stroke-width="1.6" stroke-linecap="round"/><path d="M0,-1.5 L0.2,-8" stroke="#b8988e" stroke-width="1.6" stroke-linecap="round"/><path d="M2,-1 L4,-6.8" stroke="#b8988e" stroke-width="1.6" stroke-linecap="round"/><path d="M3.3,1 L7,-2.8" stroke="#b8988e" stroke-width="1.6" stroke-linecap="round"/><path d="M-6.5,-1.5 L-3.5,1.5 L-3,5 M-3.8,-6.5 L-2.3,-2 M-3.5,6 L0.5,8.3" stroke="#ecdcd4" stroke-width="0.9" fill="none" stroke-linecap="round" opacity="0.75"/></g>
<g transform="translate(281.2,987.2) rotate(-10) scale(1.0)" opacity="1.0"><path d="M-4,0.5 C-4.5,4 -2,7 1,8.5 C3,9 4.5,7 4,4 C4,1 3,-1.5 0,-2 C-2.5,-2 -3.8,-1 -4,0.5 Z" fill="#3d3d9c"/><path d="M-3.2,1.5 L-6.8,-1.8" stroke="#3d3d9c" stroke-width="1.6" stroke-linecap="round"/><path d="M-2,-1 L-3.8,-6.8" stroke="#3d3d9c" stroke-width="1.6" stroke-linecap="round"/><path d="M0,-1.5 L0.2,-8" stroke="#3d3d9c" stroke-width="1.6" stroke-linecap="round"/><path d="M2,-1 L4,-6.8" stroke="#3d3d9c" stroke-width="1.6" stroke-linecap="round"/><path d="M3.3,1 L7,-2.8" stroke="#3d3d9c" stroke-width="1.6" stroke-linecap="round"/></g>
<g transform="translate(308.7,981.0) rotate(10) scale(1.0)" opacity="1.0"><path d="M-4,0.5 C-4.5,4 -2,7 1,8.5 C3,9 4.5,7 4,4 C4,1 3,-1.5 0,-2 C-2.5,-2 -3.8,-1 -4,0.5 Z" fill="#9a3aa4"/><path d="M-3.2,1.5 L-6.8,-1.8" stroke="#9a3aa4" stroke-width="1.6" stroke-linecap="round"/><path d="M-2,-1 L-3.8,-6.8" stroke="#9a3aa4" stroke-width="1.6" stroke-linecap="round"/><path d="M0,-1.5 L0.2,-8" stroke="#9a3aa4" stroke-width="1.6" stroke-linecap="round"/><path d="M2,-1 L4,-6.8" stroke="#9a3aa4" stroke-width="1.6" stroke-linecap="round"/><path d="M3.3,1 L7,-2.8" stroke="#9a3aa4" stroke-width="1.6" stroke-linecap="round"/></g>
<g transform="translate(281.2,1051.6) rotate(-30) scale(1.0)" opacity="1.0"><path d="M-4,0.5 C-4.5,4 -2,7 1,8.5 C3,9 4.5,7 4,4 C4,1 3,-1.5 0,-2 C-2.5,-2 -3.8,-1 -4,0.5 Z" fill="#e8303a"/><path d="M-3.2,1.5 L-6.8,-1.8" stroke="#e8303a" stroke-width="1.6" stroke-linecap="round"/><path d="M-2,-1 L-3.8,-6.8" stroke="#e8303a" stroke-width="1.6" stroke-linecap="round"/><path d="M0,-1.5 L0.2,-8" stroke="#e8303a" stroke-width="1.6" stroke-linecap="round"/><path d="M2,-1 L4,-6.8" stroke="#e8303a" stroke-width="1.6" stroke-linecap="round"/><path d="M3.3,1 L7,-2.8" stroke="#e8303a" stroke-width="1.6" stroke-linecap="round"/></g>
<g transform="translate(308.0,1056.3) rotate(15) scale(1.0)" opacity="1.0"><path d="M-4,0.5 C-4.5,4 -2,7 1,8.5 C3,9 4.5,7 4,4 C4,1 3,-1.5 0,-2 C-2.5,-2 -3.8,-1 -4,0.5 Z" fill="#2ec040"/><path d="M-3.2,1.5 L-6.8,-1.8" stroke="#2ec040" stroke-width="1.6" stroke-linecap="round"/><path d="M-2,-1 L-3.8,-6.8" stroke="#2ec040" stroke-width="1.6" stroke-linecap="round"/><path d="M0,-1.5 L0.2,-8" stroke="#2ec040" stroke-width="1.6" stroke-linecap="round"/><path d="M2,-1 L4,-6.8" stroke="#2ec040" stroke-width="1.6" stroke-linecap="round"/><path d="M3.3,1 L7,-2.8" stroke="#2ec040" stroke-width="1.6" stroke-linecap="round"/></g>
<g transform="translate(339.4,984.8) rotate(-15) scale(1.0)" opacity="1.0"><path d="M-4,0.5 C-4.5,4 -2,7 1,8.5 C3,9 4.5,7 4,4 C4,1 3,-1.5 0,-2 C-2.5,-2 -3.8,-1 -4,0.5 Z" fill="#3d3d9c"/><path d="M-3.2,1.5 L-6.8,-1.8" stroke="#3d3d9c" stroke-width="1.6" stroke-linecap="round"/><path d="M-2,-1 L-3.8,-6.8" stroke="#3d3d9c" stroke-width="1.6" stroke-linecap="round"/><path d="M0,-1.5 L0.2,-8" stroke="#3d3d9c" stroke-width="1.6" stroke-linecap="round"/><path d="M2,-1 L4,-6.8" stroke="#3d3d9c" stroke-width="1.6" stroke-linecap="round"/><path d="M3.3,1 L7,-2.8" stroke="#3d3d9c" stroke-width="1.6" stroke-linecap="round"/></g>
<g transform="translate(365.8,983.3) rotate(10) scale(1.0)" opacity="1.0"><path d="M-4,0.5 C-4.5,4 -2,7 1,8.5 C3,9 4.5,7 4,4 C4,1 3,-1.5 0,-2 C-2.5,-2 -3.8,-1 -4,0.5 Z" fill="#9a3aa4"/><path d="M-3.2,1.5 L-6.8,-1.8" stroke="#9a3aa4" stroke-width="1.6" stroke-linecap="round"/><path d="M-2,-1 L-3.8,-6.8" stroke="#9a3aa4" stroke-width="1.6" stroke-linecap="round"/><path d="M0,-1.5 L0.2,-8" stroke="#9a3aa4" stroke-width="1.6" stroke-linecap="round"/><path d="M2,-1 L4,-6.8" stroke="#9a3aa4" stroke-width="1.6" stroke-linecap="round"/><path d="M3.3,1 L7,-2.8" stroke="#9a3aa4" stroke-width="1.6" stroke-linecap="round"/></g>
<g transform="translate(339.4,1056.3) rotate(12) scale(1.0)" opacity="1.0"><path d="M-2.5,-7 C1,-8.5 3.5,-6 3,-1 C2.5,4 2,7 -0.5,8 C-3,8.5 -4,6 -3.5,2 C-3,-2 -4.5,-6 -2.5,-7 Z" fill="#e8303a"/></g>
<g transform="translate(368.2,1055.5) rotate(-35) scale(1.0)" opacity="1.0"><path d="M-2.5,-7 C1,-8.5 3.5,-6 3,-1 C2.5,4 2,7 -0.5,8 C-3,8.5 -4,6 -3.5,2 C-3,-2 -4.5,-6 -2.5,-7 Z" fill="#2ec040"/></g>
<g transform="translate(399.1,982.6) rotate(-10) scale(1.0)" opacity="1.0"><path d="M-4,0.5 C-4.5,4 -2,7 1,8.5 C3,9 4.5,7 4,4 C4,1 3,-1.5 0,-2 C-2.5,-2 -3.8,-1 -4,0.5 Z" fill="#3d3d9c"/><path d="M-3.2,1.5 L-6.8,-1.8" stroke="#3d3d9c" stroke-width="1.6" stroke-linecap="round"/><path d="M-2,-1 L-3.8,-6.8" stroke="#3d3d9c" stroke-width="1.6" stroke-linecap="round"/><path d="M0,-1.5 L0.2,-8" stroke="#3d3d9c" stroke-width="1.6" stroke-linecap="round"/><path d="M2,-1 L4,-6.8" stroke="#3d3d9c" stroke-width="1.6" stroke-linecap="round"/><path d="M3.3,1 L7,-2.8" stroke="#3d3d9c" stroke-width="1.6" stroke-linecap="round"/></g>
<g transform="translate(421.7,985.8) rotate(5) scale(1.0)" opacity="1.0"><path d="M-4,0.5 C-4.5,4 -2,7 1,8.5 C3,9 4.5,7 4,4 C4,1 3,-1.5 0,-2 C-2.5,-2 -3.8,-1 -4,0.5 Z" fill="#9a3aa4"/><path d="M-3.2,1.5 L-6.8,-1.8" stroke="#9a3aa4" stroke-width="1.6" stroke-linecap="round"/><path d="M-2,-1 L-3.8,-6.8" stroke="#9a3aa4" stroke-width="1.6" stroke-linecap="round"/><path d="M0,-1.5 L0.2,-8" stroke="#9a3aa4" stroke-width="1.6" stroke-linecap="round"/><path d="M2,-1 L4,-6.8" stroke="#9a3aa4" stroke-width="1.6" stroke-linecap="round"/><path d="M3.3,1 L7,-2.8" stroke="#9a3aa4" stroke-width="1.6" stroke-linecap="round"/></g>
<g transform="translate(397.5,1053.7) rotate(-30) scale(1.0)" opacity="1.0"><path d="M-4,0.5 C-4.5,4 -2,7 1,8.5 C3,9 4.5,7 4,4 C4,1 3,-1.5 0,-2 C-2.5,-2 -3.8,-1 -4,0.5 Z" fill="#e8303a"/><path d="M-3.2,1.5 L-6.8,-1.8" stroke="#e8303a" stroke-width="1.6" stroke-linecap="round"/><path d="M-2,-1 L-3.8,-6.8" stroke="#e8303a" stroke-width="1.6" stroke-linecap="round"/><path d="M0,-1.5 L0.2,-8" stroke="#e8303a" stroke-width="1.6" stroke-linecap="round"/><path d="M2,-1 L4,-6.8" stroke="#e8303a" stroke-width="1.6" stroke-linecap="round"/><path d="M3.3,1 L7,-2.8" stroke="#e8303a" stroke-width="1.6" stroke-linecap="round"/></g>
<g transform="translate(423.3,1045.6) rotate(5) scale(1.0)" opacity="1.0"><path d="M-4,0.5 C-4.5,4 -2,7 1,8.5 C3,9 4.5,7 4,4 C4,1 3,-1.5 0,-2 C-2.5,-2 -3.8,-1 -4,0.5 Z" fill="#2ec040"/><path d="M-3.2,1.5 L-6.8,-1.8" stroke="#2ec040" stroke-width="1.6" stroke-linecap="round"/><path d="M-2,-1 L-3.8,-6.8" stroke="#2ec040" stroke-width="1.6" stroke-linecap="round"/><path d="M0,-1.5 L0.2,-8" stroke="#2ec040" stroke-width="1.6" stroke-linecap="round"/><path d="M2,-1 L4,-6.8" stroke="#2ec040" stroke-width="1.6" stroke-linecap="round"/><path d="M3.3,1 L7,-2.8" stroke="#2ec040" stroke-width="1.6" stroke-linecap="round"/></g>
<g transform="translate(454.0,977.7) rotate(-20) scale(1.0)" opacity="1.0"><path d="M-4,0.5 C-4.5,4 -2,7 1,8.5 C3,9 4.5,7 4,4 C4,1 3,-1.5 0,-2 C-2.5,-2 -3.8,-1 -4,0.5 Z" fill="#3d3d9c"/><path d="M-3.2,1.5 L-6.8,-1.8" stroke="#3d3d9c" stroke-width="1.6" stroke-linecap="round"/><path d="M-2,-1 L-3.8,-6.8" stroke="#3d3d9c" stroke-width="1.6" stroke-linecap="round"/><path d="M0,-1.5 L0.2,-8" stroke="#3d3d9c" stroke-width="1.6" stroke-linecap="round"/><path d="M2,-1 L4,-6.8" stroke="#3d3d9c" stroke-width="1.6" stroke-linecap="round"/><path d="M3.3,1 L7,-2.8" stroke="#3d3d9c" stroke-width="1.6" stroke-linecap="round"/></g>
<g transform="translate(479.9,982.6) rotate(10) scale(1.0)" opacity="1.0"><path d="M-4,0.5 C-4.5,4 -2,7 1,8.5 C3,9 4.5,7 4,4 C4,1 3,-1.5 0,-2 C-2.5,-2 -3.8,-1 -4,0.5 Z" fill="#9a3aa4"/><path d="M-3.2,1.5 L-6.8,-1.8" stroke="#9a3aa4" stroke-width="1.6" stroke-linecap="round"/><path d="M-2,-1 L-3.8,-6.8" stroke="#9a3aa4" stroke-width="1.6" stroke-linecap="round"/><path d="M0,-1.5 L0.2,-8" stroke="#9a3aa4" stroke-width="1.6" stroke-linecap="round"/><path d="M2,-1 L4,-6.8" stroke="#9a3aa4" stroke-width="1.6" stroke-linecap="round"/><path d="M3.3,1 L7,-2.8" stroke="#9a3aa4" stroke-width="1.6" stroke-linecap="round"/></g>
<g transform="translate(454.0,1042.4) rotate(0) scale(1.0)" opacity="1.0"><path d="M-2.5,-7 C1,-8.5 3.5,-6 3,-1 C2.5,4 2,7 -0.5,8 C-3,8.5 -4,6 -3.5,2 C-3,-2 -4.5,-6 -2.5,-7 Z" fill="#e8303a"/><path d="M-2.5,-6.5 L-3.5,-9 M-0.5,-7.5 L-0.5,-10 M1.5,-7 L2.5,-9.5" stroke="#e8303a" stroke-width="1.2" stroke-linecap="round"/></g>
<g transform="translate(479.9,1053.7) rotate(-20) scale(1.0)" opacity="1.0"><path d="M-4,0.5 C-4.5,4 -2,7 1,8.5 C3,9 4.5,7 4,4 C4,1 3,-1.5 0,-2 C-2.5,-2 -3.8,-1 -4,0.5 Z" fill="#2ec040"/><path d="M-3.2,1.5 L-6.8,-1.8" stroke="#2ec040" stroke-width="1.6" stroke-linecap="round"/><path d="M-2,-1 L-3.8,-6.8" stroke="#2ec040" stroke-width="1.6" stroke-linecap="round"/><path d="M0,-1.5 L0.2,-8" stroke="#2ec040" stroke-width="1.6" stroke-linecap="round"/><path d="M2,-1 L4,-6.8" stroke="#2ec040" stroke-width="1.6" stroke-linecap="round"/><path d="M3.3,1 L7,-2.8" stroke="#2ec040" stroke-width="1.6" stroke-linecap="round"/></g>
</svg></body></html>
